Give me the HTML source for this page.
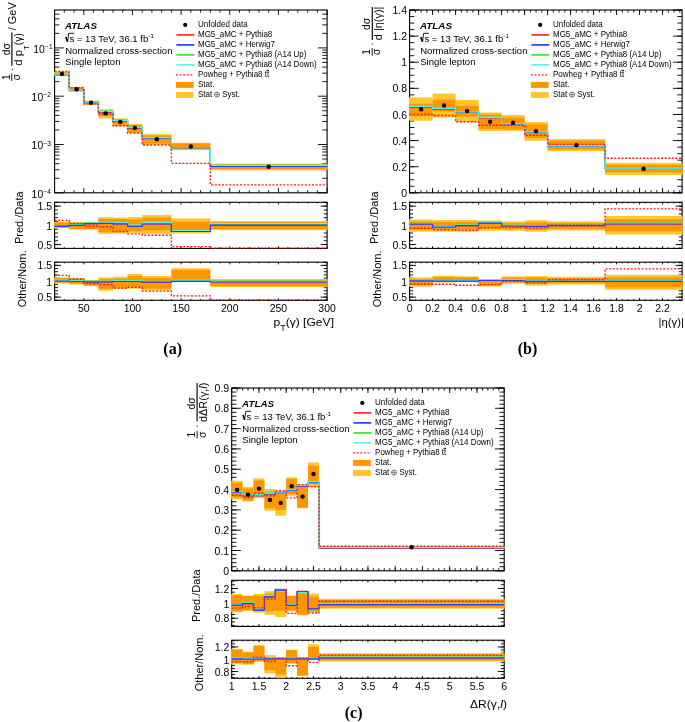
<!DOCTYPE html>
<html><head><meta charset="utf-8"><style>
html,body{margin:0;padding:0;background:#fff;}
body{width:685px;height:722px;overflow:hidden;font-family:"Liberation Sans", sans-serif;}
svg{display:block;}
</style></head><body>
<svg width="685" height="722" viewBox="0 0 685 722" style="will-change:transform">
<rect width="685" height="722" fill="#fff"/>
<clipPath id="c0m"><rect x="54" y="10" width="273.7" height="182.8"/></clipPath>
<clipPath id="c0a"><rect x="54" y="202.3" width="273.7" height="46.1"/></clipPath>
<clipPath id="c0b"><rect x="54" y="262.2" width="273.7" height="38.1"/></clipPath>
<line x1="54.6" y1="192.8" x2="63.8" y2="192.8" stroke="#000" stroke-width="0.9" />
<line x1="327.1" y1="192.8" x2="317.9" y2="192.8" stroke="#000" stroke-width="0.9" />
<line x1="54.6" y1="144.5" x2="63.8" y2="144.5" stroke="#000" stroke-width="0.9" />
<line x1="327.1" y1="144.5" x2="317.9" y2="144.5" stroke="#000" stroke-width="0.9" />
<line x1="54.6" y1="96.2" x2="63.8" y2="96.2" stroke="#000" stroke-width="0.9" />
<line x1="327.1" y1="96.2" x2="317.9" y2="96.2" stroke="#000" stroke-width="0.9" />
<line x1="54.6" y1="47.9" x2="63.8" y2="47.9" stroke="#000" stroke-width="0.9" />
<line x1="327.1" y1="47.9" x2="317.9" y2="47.9" stroke="#000" stroke-width="0.9" />
<line x1="54.6" y1="178.26" x2="59.4" y2="178.26" stroke="#000" stroke-width="0.9" />
<line x1="327.1" y1="178.26" x2="322.3" y2="178.26" stroke="#000" stroke-width="0.9" />
<line x1="54.6" y1="169.76" x2="59.4" y2="169.76" stroke="#000" stroke-width="0.9" />
<line x1="327.1" y1="169.76" x2="322.3" y2="169.76" stroke="#000" stroke-width="0.9" />
<line x1="54.6" y1="163.72" x2="59.4" y2="163.72" stroke="#000" stroke-width="0.9" />
<line x1="327.1" y1="163.72" x2="322.3" y2="163.72" stroke="#000" stroke-width="0.9" />
<line x1="54.6" y1="159.04" x2="59.4" y2="159.04" stroke="#000" stroke-width="0.9" />
<line x1="327.1" y1="159.04" x2="322.3" y2="159.04" stroke="#000" stroke-width="0.9" />
<line x1="54.6" y1="155.22" x2="59.4" y2="155.22" stroke="#000" stroke-width="0.9" />
<line x1="327.1" y1="155.22" x2="322.3" y2="155.22" stroke="#000" stroke-width="0.9" />
<line x1="54.6" y1="151.98" x2="59.4" y2="151.98" stroke="#000" stroke-width="0.9" />
<line x1="327.1" y1="151.98" x2="322.3" y2="151.98" stroke="#000" stroke-width="0.9" />
<line x1="54.6" y1="149.18" x2="59.4" y2="149.18" stroke="#000" stroke-width="0.9" />
<line x1="327.1" y1="149.18" x2="322.3" y2="149.18" stroke="#000" stroke-width="0.9" />
<line x1="54.6" y1="146.71" x2="59.4" y2="146.71" stroke="#000" stroke-width="0.9" />
<line x1="327.1" y1="146.71" x2="322.3" y2="146.71" stroke="#000" stroke-width="0.9" />
<line x1="54.6" y1="129.96" x2="59.4" y2="129.96" stroke="#000" stroke-width="0.9" />
<line x1="327.1" y1="129.96" x2="322.3" y2="129.96" stroke="#000" stroke-width="0.9" />
<line x1="54.6" y1="121.46" x2="59.4" y2="121.46" stroke="#000" stroke-width="0.9" />
<line x1="327.1" y1="121.46" x2="322.3" y2="121.46" stroke="#000" stroke-width="0.9" />
<line x1="54.6" y1="115.42" x2="59.4" y2="115.42" stroke="#000" stroke-width="0.9" />
<line x1="327.1" y1="115.42" x2="322.3" y2="115.42" stroke="#000" stroke-width="0.9" />
<line x1="54.6" y1="110.74" x2="59.4" y2="110.74" stroke="#000" stroke-width="0.9" />
<line x1="327.1" y1="110.74" x2="322.3" y2="110.74" stroke="#000" stroke-width="0.9" />
<line x1="54.6" y1="106.92" x2="59.4" y2="106.92" stroke="#000" stroke-width="0.9" />
<line x1="327.1" y1="106.92" x2="322.3" y2="106.92" stroke="#000" stroke-width="0.9" />
<line x1="54.6" y1="103.68" x2="59.4" y2="103.68" stroke="#000" stroke-width="0.9" />
<line x1="327.1" y1="103.68" x2="322.3" y2="103.68" stroke="#000" stroke-width="0.9" />
<line x1="54.6" y1="100.88" x2="59.4" y2="100.88" stroke="#000" stroke-width="0.9" />
<line x1="327.1" y1="100.88" x2="322.3" y2="100.88" stroke="#000" stroke-width="0.9" />
<line x1="54.6" y1="98.41" x2="59.4" y2="98.41" stroke="#000" stroke-width="0.9" />
<line x1="327.1" y1="98.41" x2="322.3" y2="98.41" stroke="#000" stroke-width="0.9" />
<line x1="54.6" y1="81.66" x2="59.4" y2="81.66" stroke="#000" stroke-width="0.9" />
<line x1="327.1" y1="81.66" x2="322.3" y2="81.66" stroke="#000" stroke-width="0.9" />
<line x1="54.6" y1="73.16" x2="59.4" y2="73.16" stroke="#000" stroke-width="0.9" />
<line x1="327.1" y1="73.16" x2="322.3" y2="73.16" stroke="#000" stroke-width="0.9" />
<line x1="54.6" y1="67.12" x2="59.4" y2="67.12" stroke="#000" stroke-width="0.9" />
<line x1="327.1" y1="67.12" x2="322.3" y2="67.12" stroke="#000" stroke-width="0.9" />
<line x1="54.6" y1="62.44" x2="59.4" y2="62.44" stroke="#000" stroke-width="0.9" />
<line x1="327.1" y1="62.44" x2="322.3" y2="62.44" stroke="#000" stroke-width="0.9" />
<line x1="54.6" y1="58.62" x2="59.4" y2="58.62" stroke="#000" stroke-width="0.9" />
<line x1="327.1" y1="58.62" x2="322.3" y2="58.62" stroke="#000" stroke-width="0.9" />
<line x1="54.6" y1="55.38" x2="59.4" y2="55.38" stroke="#000" stroke-width="0.9" />
<line x1="327.1" y1="55.38" x2="322.3" y2="55.38" stroke="#000" stroke-width="0.9" />
<line x1="54.6" y1="52.58" x2="59.4" y2="52.58" stroke="#000" stroke-width="0.9" />
<line x1="327.1" y1="52.58" x2="322.3" y2="52.58" stroke="#000" stroke-width="0.9" />
<line x1="54.6" y1="50.11" x2="59.4" y2="50.11" stroke="#000" stroke-width="0.9" />
<line x1="327.1" y1="50.11" x2="322.3" y2="50.11" stroke="#000" stroke-width="0.9" />
<line x1="54.6" y1="33.36" x2="59.4" y2="33.36" stroke="#000" stroke-width="0.9" />
<line x1="327.1" y1="33.36" x2="322.3" y2="33.36" stroke="#000" stroke-width="0.9" />
<line x1="54.6" y1="24.86" x2="59.4" y2="24.86" stroke="#000" stroke-width="0.9" />
<line x1="327.1" y1="24.86" x2="322.3" y2="24.86" stroke="#000" stroke-width="0.9" />
<line x1="54.6" y1="18.82" x2="59.4" y2="18.82" stroke="#000" stroke-width="0.9" />
<line x1="327.1" y1="18.82" x2="322.3" y2="18.82" stroke="#000" stroke-width="0.9" />
<line x1="54.6" y1="14.14" x2="59.4" y2="14.14" stroke="#000" stroke-width="0.9" />
<line x1="327.1" y1="14.14" x2="322.3" y2="14.14" stroke="#000" stroke-width="0.9" />
<line x1="83.8" y1="192.8" x2="83.8" y2="187.8" stroke="#000" stroke-width="0.9" />
<line x1="83.8" y1="10" x2="83.8" y2="15" stroke="#000" stroke-width="0.9" />
<line x1="132.46" y1="192.8" x2="132.46" y2="187.8" stroke="#000" stroke-width="0.9" />
<line x1="132.46" y1="10" x2="132.46" y2="15" stroke="#000" stroke-width="0.9" />
<line x1="181.12" y1="192.8" x2="181.12" y2="187.8" stroke="#000" stroke-width="0.9" />
<line x1="181.12" y1="10" x2="181.12" y2="15" stroke="#000" stroke-width="0.9" />
<line x1="229.78" y1="192.8" x2="229.78" y2="187.8" stroke="#000" stroke-width="0.9" />
<line x1="229.78" y1="10" x2="229.78" y2="15" stroke="#000" stroke-width="0.9" />
<line x1="278.44" y1="192.8" x2="278.44" y2="187.8" stroke="#000" stroke-width="0.9" />
<line x1="278.44" y1="10" x2="278.44" y2="15" stroke="#000" stroke-width="0.9" />
<line x1="327.1" y1="192.8" x2="327.1" y2="187.8" stroke="#000" stroke-width="0.9" />
<line x1="327.1" y1="10" x2="327.1" y2="15" stroke="#000" stroke-width="0.9" />
<line x1="64.33" y1="192.8" x2="64.33" y2="190.2" stroke="#000" stroke-width="0.9" />
<line x1="64.33" y1="10" x2="64.33" y2="12.6" stroke="#000" stroke-width="0.9" />
<line x1="74.06" y1="192.8" x2="74.06" y2="190.2" stroke="#000" stroke-width="0.9" />
<line x1="74.06" y1="10" x2="74.06" y2="12.6" stroke="#000" stroke-width="0.9" />
<line x1="93.53" y1="192.8" x2="93.53" y2="190.2" stroke="#000" stroke-width="0.9" />
<line x1="93.53" y1="10" x2="93.53" y2="12.6" stroke="#000" stroke-width="0.9" />
<line x1="103.26" y1="192.8" x2="103.26" y2="190.2" stroke="#000" stroke-width="0.9" />
<line x1="103.26" y1="10" x2="103.26" y2="12.6" stroke="#000" stroke-width="0.9" />
<line x1="112.99" y1="192.8" x2="112.99" y2="190.2" stroke="#000" stroke-width="0.9" />
<line x1="112.99" y1="10" x2="112.99" y2="12.6" stroke="#000" stroke-width="0.9" />
<line x1="122.72" y1="192.8" x2="122.72" y2="190.2" stroke="#000" stroke-width="0.9" />
<line x1="122.72" y1="10" x2="122.72" y2="12.6" stroke="#000" stroke-width="0.9" />
<line x1="142.19" y1="192.8" x2="142.19" y2="190.2" stroke="#000" stroke-width="0.9" />
<line x1="142.19" y1="10" x2="142.19" y2="12.6" stroke="#000" stroke-width="0.9" />
<line x1="151.92" y1="192.8" x2="151.92" y2="190.2" stroke="#000" stroke-width="0.9" />
<line x1="151.92" y1="10" x2="151.92" y2="12.6" stroke="#000" stroke-width="0.9" />
<line x1="161.65" y1="192.8" x2="161.65" y2="190.2" stroke="#000" stroke-width="0.9" />
<line x1="161.65" y1="10" x2="161.65" y2="12.6" stroke="#000" stroke-width="0.9" />
<line x1="171.39" y1="192.8" x2="171.39" y2="190.2" stroke="#000" stroke-width="0.9" />
<line x1="171.39" y1="10" x2="171.39" y2="12.6" stroke="#000" stroke-width="0.9" />
<line x1="190.85" y1="192.8" x2="190.85" y2="190.2" stroke="#000" stroke-width="0.9" />
<line x1="190.85" y1="10" x2="190.85" y2="12.6" stroke="#000" stroke-width="0.9" />
<line x1="200.58" y1="192.8" x2="200.58" y2="190.2" stroke="#000" stroke-width="0.9" />
<line x1="200.58" y1="10" x2="200.58" y2="12.6" stroke="#000" stroke-width="0.9" />
<line x1="210.31" y1="192.8" x2="210.31" y2="190.2" stroke="#000" stroke-width="0.9" />
<line x1="210.31" y1="10" x2="210.31" y2="12.6" stroke="#000" stroke-width="0.9" />
<line x1="220.05" y1="192.8" x2="220.05" y2="190.2" stroke="#000" stroke-width="0.9" />
<line x1="220.05" y1="10" x2="220.05" y2="12.6" stroke="#000" stroke-width="0.9" />
<line x1="239.51" y1="192.8" x2="239.51" y2="190.2" stroke="#000" stroke-width="0.9" />
<line x1="239.51" y1="10" x2="239.51" y2="12.6" stroke="#000" stroke-width="0.9" />
<line x1="249.24" y1="192.8" x2="249.24" y2="190.2" stroke="#000" stroke-width="0.9" />
<line x1="249.24" y1="10" x2="249.24" y2="12.6" stroke="#000" stroke-width="0.9" />
<line x1="258.98" y1="192.8" x2="258.98" y2="190.2" stroke="#000" stroke-width="0.9" />
<line x1="258.98" y1="10" x2="258.98" y2="12.6" stroke="#000" stroke-width="0.9" />
<line x1="268.71" y1="192.8" x2="268.71" y2="190.2" stroke="#000" stroke-width="0.9" />
<line x1="268.71" y1="10" x2="268.71" y2="12.6" stroke="#000" stroke-width="0.9" />
<line x1="288.17" y1="192.8" x2="288.17" y2="190.2" stroke="#000" stroke-width="0.9" />
<line x1="288.17" y1="10" x2="288.17" y2="12.6" stroke="#000" stroke-width="0.9" />
<line x1="297.9" y1="192.8" x2="297.9" y2="190.2" stroke="#000" stroke-width="0.9" />
<line x1="297.9" y1="10" x2="297.9" y2="12.6" stroke="#000" stroke-width="0.9" />
<line x1="307.64" y1="192.8" x2="307.64" y2="190.2" stroke="#000" stroke-width="0.9" />
<line x1="307.64" y1="10" x2="307.64" y2="12.6" stroke="#000" stroke-width="0.9" />
<line x1="317.37" y1="192.8" x2="317.37" y2="190.2" stroke="#000" stroke-width="0.9" />
<line x1="317.37" y1="10" x2="317.37" y2="12.6" stroke="#000" stroke-width="0.9" />
<rect x="54.6" y="10" width="272.5" height="182.8" fill="none" stroke="#000" stroke-width="1.1"/>
<text transform="translate(51,197.5)" font-size="10.4" text-anchor="end" font-family='"Liberation Sans", sans-serif'>10<tspan dx="0.3" dy="-3.5" font-size="6.6">&#8722;4</tspan></text>
<text transform="translate(51,149.2)" font-size="10.4" text-anchor="end" font-family='"Liberation Sans", sans-serif'>10<tspan dx="0.3" dy="-3.5" font-size="6.6">&#8722;3</tspan></text>
<text transform="translate(51,100.9)" font-size="10.4" text-anchor="end" font-family='"Liberation Sans", sans-serif'>10<tspan dx="0.3" dy="-3.5" font-size="6.6">&#8722;2</tspan></text>
<text transform="translate(52.6,52.6)" font-size="10.4" text-anchor="end" font-family='"Liberation Sans", sans-serif'>10<tspan dx="0.3" dy="-3.5" font-size="6.6">&#8722;1</tspan></text>
<g clip-path="url(#c0m)">
<rect x="54" y="71.7" width="15.2" height="4.1" fill="#fec62e"/>
<rect x="54" y="72.3" width="15.2" height="2.9" fill="#fe9600"/>
<rect x="69.2" y="87" width="14.6" height="4.8" fill="#fec62e"/>
<rect x="69.2" y="87.5" width="14.6" height="3.7" fill="#fe9600"/>
<rect x="83.8" y="100.6" width="14.6" height="4.4" fill="#fec62e"/>
<rect x="83.8" y="101.2" width="14.6" height="3.2" fill="#fe9600"/>
<rect x="98.39" y="109.2" width="14.6" height="9.2" fill="#fec62e"/>
<rect x="98.39" y="111.8" width="14.6" height="4.4" fill="#fe9600"/>
<rect x="112.99" y="118.4" width="14.6" height="8" fill="#fec62e"/>
<rect x="112.99" y="119.5" width="14.6" height="5.5" fill="#fe9600"/>
<rect x="127.59" y="124" width="14.6" height="9" fill="#fec62e"/>
<rect x="127.59" y="125" width="14.6" height="7" fill="#fe9600"/>
<rect x="142.19" y="134.1" width="29.2" height="10.9" fill="#fec62e"/>
<rect x="142.19" y="135.5" width="29.2" height="8.1" fill="#fe9600"/>
<rect x="171.39" y="142.8" width="38.93" height="6.8" fill="#fec62e"/>
<rect x="171.39" y="143.3" width="38.93" height="5.8" fill="#fe9600"/>
<rect x="210.31" y="163.65" width="117.39" height="6.55" fill="#fec62e"/>
<rect x="210.31" y="164.9" width="117.39" height="4.3" fill="#fe9600"/>
<path d="M54.6 74.6H69.2V89.9H83.8V102.2H98.39V111.8H112.99V120.8H127.59V127.8H142.19V138.2H171.39V149.4H210.31V166.4H327.1" fill="none" stroke="#ff2a2a" stroke-width="1.2"/>
<path d="M54.6 74.6H69.2V89.9H83.8V102.2H98.39V111.8H112.99V120.8H127.59V127.8H142.19V138.2H171.39V149.4H210.31V166.4H327.1" fill="none" stroke="#2a3cff" stroke-width="1.2"/>
<path d="M54.6 73.9H69.2V89.6H83.8V101.7H98.39V111.1H112.99V120H127.59V127.1H142.19V137.3H171.39V149.4H210.31V165.2H327.1" fill="none" stroke="#3ee23e" stroke-width="1.2"/>
<path d="M54.6 74.2H69.2V89.9H83.8V102H98.39V111.4H112.99V120.3H127.59V127.4H142.19V137.6H171.39V149.7H210.31V165.5H327.1" fill="none" stroke="#5ff2f2" stroke-width="1.2"/>
<path d="M54.6 71.4H69.2V87.7H83.8V103.8H98.39V114H112.99V125.7H127.59V133H142.19V145H171.39V163.3H210.31V184.8H327.1" fill="none" stroke="#ff1a1a" stroke-width="1.35" stroke-dasharray="2,1.6"/>
<circle cx="61.9" cy="73.9" r="2.2" fill="#000"/>
<circle cx="76.5" cy="89.2" r="2.2" fill="#000"/>
<circle cx="91.1" cy="102.8" r="2.2" fill="#000"/>
<circle cx="105.69" cy="113.4" r="2.2" fill="#000"/>
<circle cx="120.29" cy="121.9" r="2.2" fill="#000"/>
<circle cx="134.89" cy="127.9" r="2.2" fill="#000"/>
<circle cx="156.79" cy="139.2" r="2.2" fill="#000"/>
<circle cx="190.85" cy="146.5" r="2.2" fill="#000"/>
<circle cx="268.71" cy="166.7" r="2.2" fill="#000"/>
</g>
<line x1="54.6" y1="244.56" x2="61.1" y2="244.56" stroke="#000" stroke-width="0.9" />
<line x1="327.1" y1="244.56" x2="320.6" y2="244.56" stroke="#000" stroke-width="0.9" />
<line x1="54.6" y1="225.35" x2="61.1" y2="225.35" stroke="#000" stroke-width="0.9" />
<line x1="327.1" y1="225.35" x2="320.6" y2="225.35" stroke="#000" stroke-width="0.9" />
<line x1="54.6" y1="206.14" x2="61.1" y2="206.14" stroke="#000" stroke-width="0.9" />
<line x1="327.1" y1="206.14" x2="320.6" y2="206.14" stroke="#000" stroke-width="0.9" />
<line x1="54.6" y1="248.4" x2="58" y2="248.4" stroke="#000" stroke-width="0.9" />
<line x1="327.1" y1="248.4" x2="323.7" y2="248.4" stroke="#000" stroke-width="0.9" />
<line x1="54.6" y1="244.56" x2="58" y2="244.56" stroke="#000" stroke-width="0.9" />
<line x1="327.1" y1="244.56" x2="323.7" y2="244.56" stroke="#000" stroke-width="0.9" />
<line x1="54.6" y1="240.72" x2="58" y2="240.72" stroke="#000" stroke-width="0.9" />
<line x1="327.1" y1="240.72" x2="323.7" y2="240.72" stroke="#000" stroke-width="0.9" />
<line x1="54.6" y1="236.88" x2="58" y2="236.88" stroke="#000" stroke-width="0.9" />
<line x1="327.1" y1="236.88" x2="323.7" y2="236.88" stroke="#000" stroke-width="0.9" />
<line x1="54.6" y1="233.03" x2="58" y2="233.03" stroke="#000" stroke-width="0.9" />
<line x1="327.1" y1="233.03" x2="323.7" y2="233.03" stroke="#000" stroke-width="0.9" />
<line x1="54.6" y1="229.19" x2="58" y2="229.19" stroke="#000" stroke-width="0.9" />
<line x1="327.1" y1="229.19" x2="323.7" y2="229.19" stroke="#000" stroke-width="0.9" />
<line x1="54.6" y1="225.35" x2="58" y2="225.35" stroke="#000" stroke-width="0.9" />
<line x1="327.1" y1="225.35" x2="323.7" y2="225.35" stroke="#000" stroke-width="0.9" />
<line x1="54.6" y1="221.51" x2="58" y2="221.51" stroke="#000" stroke-width="0.9" />
<line x1="327.1" y1="221.51" x2="323.7" y2="221.51" stroke="#000" stroke-width="0.9" />
<line x1="54.6" y1="217.67" x2="58" y2="217.67" stroke="#000" stroke-width="0.9" />
<line x1="327.1" y1="217.67" x2="323.7" y2="217.67" stroke="#000" stroke-width="0.9" />
<line x1="54.6" y1="213.83" x2="58" y2="213.83" stroke="#000" stroke-width="0.9" />
<line x1="327.1" y1="213.83" x2="323.7" y2="213.83" stroke="#000" stroke-width="0.9" />
<line x1="54.6" y1="209.98" x2="58" y2="209.98" stroke="#000" stroke-width="0.9" />
<line x1="327.1" y1="209.98" x2="323.7" y2="209.98" stroke="#000" stroke-width="0.9" />
<line x1="54.6" y1="206.14" x2="58" y2="206.14" stroke="#000" stroke-width="0.9" />
<line x1="327.1" y1="206.14" x2="323.7" y2="206.14" stroke="#000" stroke-width="0.9" />
<line x1="54.6" y1="202.3" x2="58" y2="202.3" stroke="#000" stroke-width="0.9" />
<line x1="327.1" y1="202.3" x2="323.7" y2="202.3" stroke="#000" stroke-width="0.9" />
<line x1="83.8" y1="248.4" x2="83.8" y2="246.2" stroke="#000" stroke-width="0.9" />
<line x1="83.8" y1="202.3" x2="83.8" y2="204.5" stroke="#000" stroke-width="0.9" />
<line x1="132.46" y1="248.4" x2="132.46" y2="246.2" stroke="#000" stroke-width="0.9" />
<line x1="132.46" y1="202.3" x2="132.46" y2="204.5" stroke="#000" stroke-width="0.9" />
<line x1="181.12" y1="248.4" x2="181.12" y2="246.2" stroke="#000" stroke-width="0.9" />
<line x1="181.12" y1="202.3" x2="181.12" y2="204.5" stroke="#000" stroke-width="0.9" />
<line x1="229.78" y1="248.4" x2="229.78" y2="246.2" stroke="#000" stroke-width="0.9" />
<line x1="229.78" y1="202.3" x2="229.78" y2="204.5" stroke="#000" stroke-width="0.9" />
<line x1="278.44" y1="248.4" x2="278.44" y2="246.2" stroke="#000" stroke-width="0.9" />
<line x1="278.44" y1="202.3" x2="278.44" y2="204.5" stroke="#000" stroke-width="0.9" />
<line x1="327.1" y1="248.4" x2="327.1" y2="246.2" stroke="#000" stroke-width="0.9" />
<line x1="327.1" y1="202.3" x2="327.1" y2="204.5" stroke="#000" stroke-width="0.9" />
<line x1="64.33" y1="248.4" x2="64.33" y2="247.2" stroke="#000" stroke-width="0.9" />
<line x1="64.33" y1="202.3" x2="64.33" y2="203.5" stroke="#000" stroke-width="0.9" />
<line x1="74.06" y1="248.4" x2="74.06" y2="247.2" stroke="#000" stroke-width="0.9" />
<line x1="74.06" y1="202.3" x2="74.06" y2="203.5" stroke="#000" stroke-width="0.9" />
<line x1="93.53" y1="248.4" x2="93.53" y2="247.2" stroke="#000" stroke-width="0.9" />
<line x1="93.53" y1="202.3" x2="93.53" y2="203.5" stroke="#000" stroke-width="0.9" />
<line x1="103.26" y1="248.4" x2="103.26" y2="247.2" stroke="#000" stroke-width="0.9" />
<line x1="103.26" y1="202.3" x2="103.26" y2="203.5" stroke="#000" stroke-width="0.9" />
<line x1="112.99" y1="248.4" x2="112.99" y2="247.2" stroke="#000" stroke-width="0.9" />
<line x1="112.99" y1="202.3" x2="112.99" y2="203.5" stroke="#000" stroke-width="0.9" />
<line x1="122.72" y1="248.4" x2="122.72" y2="247.2" stroke="#000" stroke-width="0.9" />
<line x1="122.72" y1="202.3" x2="122.72" y2="203.5" stroke="#000" stroke-width="0.9" />
<line x1="142.19" y1="248.4" x2="142.19" y2="247.2" stroke="#000" stroke-width="0.9" />
<line x1="142.19" y1="202.3" x2="142.19" y2="203.5" stroke="#000" stroke-width="0.9" />
<line x1="151.92" y1="248.4" x2="151.92" y2="247.2" stroke="#000" stroke-width="0.9" />
<line x1="151.92" y1="202.3" x2="151.92" y2="203.5" stroke="#000" stroke-width="0.9" />
<line x1="161.65" y1="248.4" x2="161.65" y2="247.2" stroke="#000" stroke-width="0.9" />
<line x1="161.65" y1="202.3" x2="161.65" y2="203.5" stroke="#000" stroke-width="0.9" />
<line x1="171.39" y1="248.4" x2="171.39" y2="247.2" stroke="#000" stroke-width="0.9" />
<line x1="171.39" y1="202.3" x2="171.39" y2="203.5" stroke="#000" stroke-width="0.9" />
<line x1="190.85" y1="248.4" x2="190.85" y2="247.2" stroke="#000" stroke-width="0.9" />
<line x1="190.85" y1="202.3" x2="190.85" y2="203.5" stroke="#000" stroke-width="0.9" />
<line x1="200.58" y1="248.4" x2="200.58" y2="247.2" stroke="#000" stroke-width="0.9" />
<line x1="200.58" y1="202.3" x2="200.58" y2="203.5" stroke="#000" stroke-width="0.9" />
<line x1="210.31" y1="248.4" x2="210.31" y2="247.2" stroke="#000" stroke-width="0.9" />
<line x1="210.31" y1="202.3" x2="210.31" y2="203.5" stroke="#000" stroke-width="0.9" />
<line x1="220.05" y1="248.4" x2="220.05" y2="247.2" stroke="#000" stroke-width="0.9" />
<line x1="220.05" y1="202.3" x2="220.05" y2="203.5" stroke="#000" stroke-width="0.9" />
<line x1="239.51" y1="248.4" x2="239.51" y2="247.2" stroke="#000" stroke-width="0.9" />
<line x1="239.51" y1="202.3" x2="239.51" y2="203.5" stroke="#000" stroke-width="0.9" />
<line x1="249.24" y1="248.4" x2="249.24" y2="247.2" stroke="#000" stroke-width="0.9" />
<line x1="249.24" y1="202.3" x2="249.24" y2="203.5" stroke="#000" stroke-width="0.9" />
<line x1="258.98" y1="248.4" x2="258.98" y2="247.2" stroke="#000" stroke-width="0.9" />
<line x1="258.98" y1="202.3" x2="258.98" y2="203.5" stroke="#000" stroke-width="0.9" />
<line x1="268.71" y1="248.4" x2="268.71" y2="247.2" stroke="#000" stroke-width="0.9" />
<line x1="268.71" y1="202.3" x2="268.71" y2="203.5" stroke="#000" stroke-width="0.9" />
<line x1="288.17" y1="248.4" x2="288.17" y2="247.2" stroke="#000" stroke-width="0.9" />
<line x1="288.17" y1="202.3" x2="288.17" y2="203.5" stroke="#000" stroke-width="0.9" />
<line x1="297.9" y1="248.4" x2="297.9" y2="247.2" stroke="#000" stroke-width="0.9" />
<line x1="297.9" y1="202.3" x2="297.9" y2="203.5" stroke="#000" stroke-width="0.9" />
<line x1="307.64" y1="248.4" x2="307.64" y2="247.2" stroke="#000" stroke-width="0.9" />
<line x1="307.64" y1="202.3" x2="307.64" y2="203.5" stroke="#000" stroke-width="0.9" />
<line x1="317.37" y1="248.4" x2="317.37" y2="247.2" stroke="#000" stroke-width="0.9" />
<line x1="317.37" y1="202.3" x2="317.37" y2="203.5" stroke="#000" stroke-width="0.9" />
<rect x="54.6" y="202.3" width="272.5" height="46.1" fill="none" stroke="#000" stroke-width="1.1"/>
<text transform="translate(52.2,210.24)" font-size="10.5" text-anchor="end" font-weight="normal" font-style="normal" font-family='"Liberation Sans", sans-serif' fill="#000">1.5</text>
<text transform="translate(52.2,230.35)" font-size="10.5" text-anchor="end" font-weight="normal" font-style="normal" font-family='"Liberation Sans", sans-serif' fill="#000">1</text>
<text transform="translate(52.2,248.66)" font-size="10.5" text-anchor="end" font-weight="normal" font-style="normal" font-family='"Liberation Sans", sans-serif' fill="#000">0.5</text>
<g clip-path="url(#c0a)">
<rect x="54" y="221.7" width="15.2" height="6.6" fill="#fec62e"/>
<rect x="54" y="222.6" width="15.2" height="5.2" fill="#fe9600"/>
<rect x="69.2" y="222.1" width="14.6" height="7.5" fill="#fec62e"/>
<rect x="69.2" y="223" width="14.6" height="6" fill="#fe9600"/>
<rect x="83.8" y="222.1" width="14.6" height="7.5" fill="#fec62e"/>
<rect x="83.8" y="223" width="14.6" height="6" fill="#fe9600"/>
<rect x="98.39" y="217.1" width="14.6" height="16.8" fill="#fec62e"/>
<rect x="98.39" y="219" width="14.6" height="13.2" fill="#fe9600"/>
<rect x="112.99" y="217.7" width="14.6" height="15.8" fill="#fec62e"/>
<rect x="112.99" y="219" width="14.6" height="13.2" fill="#fe9600"/>
<rect x="127.59" y="217" width="14.6" height="15.9" fill="#fec62e"/>
<rect x="127.59" y="219.5" width="14.6" height="11.7" fill="#fe9600"/>
<rect x="142.19" y="215.1" width="29.2" height="18.8" fill="#fec62e"/>
<rect x="142.19" y="217.7" width="29.2" height="12.8" fill="#fe9600"/>
<rect x="171.39" y="218.4" width="38.93" height="15.1" fill="#fec62e"/>
<rect x="171.39" y="221.7" width="38.93" height="9.3" fill="#fe9600"/>
<rect x="210.31" y="221" width="117.39" height="9.2" fill="#fec62e"/>
<rect x="210.31" y="222.3" width="117.39" height="6.7" fill="#fe9600"/>
<path d="M54.6 226.3H69.2V225.4H83.8V223.7H98.39V223.4H112.99V223.9H127.59V226.3H142.19V224H171.39V231.5H210.31V225.2H327.1" fill="none" stroke="#ff2a2a" stroke-width="1.2"/>
<path d="M54.6 225.5H69.2V224.6H83.8V222.9H98.39V222.6H112.99V223.1H127.59V225.5H142.19V223.2H171.39V230.7H210.31V224.4H327.1" fill="none" stroke="#3ee23e" stroke-width="1.2"/>
<path d="M54.6 227.2H69.2V225H83.8V223H98.39V222.3H112.99V222.6H127.59V225H142.19V222.3H171.39V230.5H210.31V223.7H327.1" fill="none" stroke="#5ff2f2" stroke-width="1.2"/>
<path d="M54.6 226.3H69.2V225.4H83.8V223.7H98.39V223.4H112.99V223.9H127.59V226.3H142.19V224H171.39V231.5H210.31V225.2H327.1" fill="none" stroke="#2a3cff" stroke-width="1.2"/>
<path d="M54.6 220.4H69.2V223.4H83.8V226H98.39V226.7H112.99V231.5H127.59V233.9H142.19V235.2H171.39V246.6H210.31V248.2H327.1" fill="none" stroke="#ff1a1a" stroke-width="1.35" stroke-dasharray="2,1.6"/>
</g>
<line x1="54.6" y1="297.12" x2="61.1" y2="297.12" stroke="#000" stroke-width="0.9" />
<line x1="327.1" y1="297.12" x2="320.6" y2="297.12" stroke="#000" stroke-width="0.9" />
<line x1="54.6" y1="281.25" x2="61.1" y2="281.25" stroke="#000" stroke-width="0.9" />
<line x1="327.1" y1="281.25" x2="320.6" y2="281.25" stroke="#000" stroke-width="0.9" />
<line x1="54.6" y1="265.38" x2="61.1" y2="265.38" stroke="#000" stroke-width="0.9" />
<line x1="327.1" y1="265.38" x2="320.6" y2="265.38" stroke="#000" stroke-width="0.9" />
<line x1="54.6" y1="300.3" x2="58" y2="300.3" stroke="#000" stroke-width="0.9" />
<line x1="327.1" y1="300.3" x2="323.7" y2="300.3" stroke="#000" stroke-width="0.9" />
<line x1="54.6" y1="297.12" x2="58" y2="297.12" stroke="#000" stroke-width="0.9" />
<line x1="327.1" y1="297.12" x2="323.7" y2="297.12" stroke="#000" stroke-width="0.9" />
<line x1="54.6" y1="293.95" x2="58" y2="293.95" stroke="#000" stroke-width="0.9" />
<line x1="327.1" y1="293.95" x2="323.7" y2="293.95" stroke="#000" stroke-width="0.9" />
<line x1="54.6" y1="290.77" x2="58" y2="290.77" stroke="#000" stroke-width="0.9" />
<line x1="327.1" y1="290.77" x2="323.7" y2="290.77" stroke="#000" stroke-width="0.9" />
<line x1="54.6" y1="287.6" x2="58" y2="287.6" stroke="#000" stroke-width="0.9" />
<line x1="327.1" y1="287.6" x2="323.7" y2="287.6" stroke="#000" stroke-width="0.9" />
<line x1="54.6" y1="284.43" x2="58" y2="284.43" stroke="#000" stroke-width="0.9" />
<line x1="327.1" y1="284.43" x2="323.7" y2="284.43" stroke="#000" stroke-width="0.9" />
<line x1="54.6" y1="281.25" x2="58" y2="281.25" stroke="#000" stroke-width="0.9" />
<line x1="327.1" y1="281.25" x2="323.7" y2="281.25" stroke="#000" stroke-width="0.9" />
<line x1="54.6" y1="278.07" x2="58" y2="278.07" stroke="#000" stroke-width="0.9" />
<line x1="327.1" y1="278.07" x2="323.7" y2="278.07" stroke="#000" stroke-width="0.9" />
<line x1="54.6" y1="274.9" x2="58" y2="274.9" stroke="#000" stroke-width="0.9" />
<line x1="327.1" y1="274.9" x2="323.7" y2="274.9" stroke="#000" stroke-width="0.9" />
<line x1="54.6" y1="271.73" x2="58" y2="271.73" stroke="#000" stroke-width="0.9" />
<line x1="327.1" y1="271.73" x2="323.7" y2="271.73" stroke="#000" stroke-width="0.9" />
<line x1="54.6" y1="268.55" x2="58" y2="268.55" stroke="#000" stroke-width="0.9" />
<line x1="327.1" y1="268.55" x2="323.7" y2="268.55" stroke="#000" stroke-width="0.9" />
<line x1="54.6" y1="265.38" x2="58" y2="265.38" stroke="#000" stroke-width="0.9" />
<line x1="327.1" y1="265.38" x2="323.7" y2="265.38" stroke="#000" stroke-width="0.9" />
<line x1="54.6" y1="262.2" x2="58" y2="262.2" stroke="#000" stroke-width="0.9" />
<line x1="327.1" y1="262.2" x2="323.7" y2="262.2" stroke="#000" stroke-width="0.9" />
<line x1="83.8" y1="300.3" x2="83.8" y2="298.1" stroke="#000" stroke-width="0.9" />
<line x1="83.8" y1="262.2" x2="83.8" y2="264.4" stroke="#000" stroke-width="0.9" />
<line x1="132.46" y1="300.3" x2="132.46" y2="298.1" stroke="#000" stroke-width="0.9" />
<line x1="132.46" y1="262.2" x2="132.46" y2="264.4" stroke="#000" stroke-width="0.9" />
<line x1="181.12" y1="300.3" x2="181.12" y2="298.1" stroke="#000" stroke-width="0.9" />
<line x1="181.12" y1="262.2" x2="181.12" y2="264.4" stroke="#000" stroke-width="0.9" />
<line x1="229.78" y1="300.3" x2="229.78" y2="298.1" stroke="#000" stroke-width="0.9" />
<line x1="229.78" y1="262.2" x2="229.78" y2="264.4" stroke="#000" stroke-width="0.9" />
<line x1="278.44" y1="300.3" x2="278.44" y2="298.1" stroke="#000" stroke-width="0.9" />
<line x1="278.44" y1="262.2" x2="278.44" y2="264.4" stroke="#000" stroke-width="0.9" />
<line x1="327.1" y1="300.3" x2="327.1" y2="298.1" stroke="#000" stroke-width="0.9" />
<line x1="327.1" y1="262.2" x2="327.1" y2="264.4" stroke="#000" stroke-width="0.9" />
<line x1="64.33" y1="300.3" x2="64.33" y2="299.1" stroke="#000" stroke-width="0.9" />
<line x1="64.33" y1="262.2" x2="64.33" y2="263.4" stroke="#000" stroke-width="0.9" />
<line x1="74.06" y1="300.3" x2="74.06" y2="299.1" stroke="#000" stroke-width="0.9" />
<line x1="74.06" y1="262.2" x2="74.06" y2="263.4" stroke="#000" stroke-width="0.9" />
<line x1="93.53" y1="300.3" x2="93.53" y2="299.1" stroke="#000" stroke-width="0.9" />
<line x1="93.53" y1="262.2" x2="93.53" y2="263.4" stroke="#000" stroke-width="0.9" />
<line x1="103.26" y1="300.3" x2="103.26" y2="299.1" stroke="#000" stroke-width="0.9" />
<line x1="103.26" y1="262.2" x2="103.26" y2="263.4" stroke="#000" stroke-width="0.9" />
<line x1="112.99" y1="300.3" x2="112.99" y2="299.1" stroke="#000" stroke-width="0.9" />
<line x1="112.99" y1="262.2" x2="112.99" y2="263.4" stroke="#000" stroke-width="0.9" />
<line x1="122.72" y1="300.3" x2="122.72" y2="299.1" stroke="#000" stroke-width="0.9" />
<line x1="122.72" y1="262.2" x2="122.72" y2="263.4" stroke="#000" stroke-width="0.9" />
<line x1="142.19" y1="300.3" x2="142.19" y2="299.1" stroke="#000" stroke-width="0.9" />
<line x1="142.19" y1="262.2" x2="142.19" y2="263.4" stroke="#000" stroke-width="0.9" />
<line x1="151.92" y1="300.3" x2="151.92" y2="299.1" stroke="#000" stroke-width="0.9" />
<line x1="151.92" y1="262.2" x2="151.92" y2="263.4" stroke="#000" stroke-width="0.9" />
<line x1="161.65" y1="300.3" x2="161.65" y2="299.1" stroke="#000" stroke-width="0.9" />
<line x1="161.65" y1="262.2" x2="161.65" y2="263.4" stroke="#000" stroke-width="0.9" />
<line x1="171.39" y1="300.3" x2="171.39" y2="299.1" stroke="#000" stroke-width="0.9" />
<line x1="171.39" y1="262.2" x2="171.39" y2="263.4" stroke="#000" stroke-width="0.9" />
<line x1="190.85" y1="300.3" x2="190.85" y2="299.1" stroke="#000" stroke-width="0.9" />
<line x1="190.85" y1="262.2" x2="190.85" y2="263.4" stroke="#000" stroke-width="0.9" />
<line x1="200.58" y1="300.3" x2="200.58" y2="299.1" stroke="#000" stroke-width="0.9" />
<line x1="200.58" y1="262.2" x2="200.58" y2="263.4" stroke="#000" stroke-width="0.9" />
<line x1="210.31" y1="300.3" x2="210.31" y2="299.1" stroke="#000" stroke-width="0.9" />
<line x1="210.31" y1="262.2" x2="210.31" y2="263.4" stroke="#000" stroke-width="0.9" />
<line x1="220.05" y1="300.3" x2="220.05" y2="299.1" stroke="#000" stroke-width="0.9" />
<line x1="220.05" y1="262.2" x2="220.05" y2="263.4" stroke="#000" stroke-width="0.9" />
<line x1="239.51" y1="300.3" x2="239.51" y2="299.1" stroke="#000" stroke-width="0.9" />
<line x1="239.51" y1="262.2" x2="239.51" y2="263.4" stroke="#000" stroke-width="0.9" />
<line x1="249.24" y1="300.3" x2="249.24" y2="299.1" stroke="#000" stroke-width="0.9" />
<line x1="249.24" y1="262.2" x2="249.24" y2="263.4" stroke="#000" stroke-width="0.9" />
<line x1="258.98" y1="300.3" x2="258.98" y2="299.1" stroke="#000" stroke-width="0.9" />
<line x1="258.98" y1="262.2" x2="258.98" y2="263.4" stroke="#000" stroke-width="0.9" />
<line x1="268.71" y1="300.3" x2="268.71" y2="299.1" stroke="#000" stroke-width="0.9" />
<line x1="268.71" y1="262.2" x2="268.71" y2="263.4" stroke="#000" stroke-width="0.9" />
<line x1="288.17" y1="300.3" x2="288.17" y2="299.1" stroke="#000" stroke-width="0.9" />
<line x1="288.17" y1="262.2" x2="288.17" y2="263.4" stroke="#000" stroke-width="0.9" />
<line x1="297.9" y1="300.3" x2="297.9" y2="299.1" stroke="#000" stroke-width="0.9" />
<line x1="297.9" y1="262.2" x2="297.9" y2="263.4" stroke="#000" stroke-width="0.9" />
<line x1="307.64" y1="300.3" x2="307.64" y2="299.1" stroke="#000" stroke-width="0.9" />
<line x1="307.64" y1="262.2" x2="307.64" y2="263.4" stroke="#000" stroke-width="0.9" />
<line x1="317.37" y1="300.3" x2="317.37" y2="299.1" stroke="#000" stroke-width="0.9" />
<line x1="317.37" y1="262.2" x2="317.37" y2="263.4" stroke="#000" stroke-width="0.9" />
<rect x="54.6" y="262.2" width="272.5" height="38.1" fill="none" stroke="#000" stroke-width="1.1"/>
<text transform="translate(52.2,269.48)" font-size="10.5" text-anchor="end" font-weight="normal" font-style="normal" font-family='"Liberation Sans", sans-serif' fill="#000">1.5</text>
<text transform="translate(52.2,286.25)" font-size="10.5" text-anchor="end" font-weight="normal" font-style="normal" font-family='"Liberation Sans", sans-serif' fill="#000">1</text>
<text transform="translate(52.2,301.23)" font-size="10.5" text-anchor="end" font-weight="normal" font-style="normal" font-family='"Liberation Sans", sans-serif' fill="#000">0.5</text>
<g clip-path="url(#c0b)">
<rect x="54" y="277.4" width="15.2" height="6.1" fill="#fec62e"/>
<rect x="54" y="278.25" width="15.2" height="4.39" fill="#fe9600"/>
<rect x="69.2" y="278" width="14.6" height="6.6" fill="#fec62e"/>
<rect x="69.2" y="278.92" width="14.6" height="4.75" fill="#fe9600"/>
<rect x="83.8" y="280" width="14.6" height="6.2" fill="#fec62e"/>
<rect x="83.8" y="280.87" width="14.6" height="4.46" fill="#fe9600"/>
<rect x="98.39" y="277.4" width="14.6" height="13.3" fill="#fec62e"/>
<rect x="98.39" y="279.26" width="14.6" height="9.58" fill="#fe9600"/>
<rect x="112.99" y="276.8" width="14.6" height="12.2" fill="#fec62e"/>
<rect x="112.99" y="278.51" width="14.6" height="8.78" fill="#fe9600"/>
<rect x="127.59" y="274" width="14.6" height="14.7" fill="#fec62e"/>
<rect x="127.59" y="276.06" width="14.6" height="10.58" fill="#fe9600"/>
<rect x="142.19" y="276" width="29.2" height="14.7" fill="#fec62e"/>
<rect x="142.19" y="278.06" width="29.2" height="10.58" fill="#fe9600"/>
<rect x="171.39" y="268.2" width="38.93" height="13.2" fill="#fec62e"/>
<rect x="171.39" y="270.05" width="38.93" height="9.5" fill="#fe9600"/>
<rect x="210.31" y="279" width="117.39" height="8.2" fill="#fec62e"/>
<rect x="210.31" y="280.15" width="117.39" height="5.9" fill="#fe9600"/>
<path d="M54.6 281H69.2V281.5H83.8V281.9H98.39V281.9H112.99V281.5H127.59V281.5H142.19V282.1H171.39V281.4H210.31V282H327.1" fill="none" stroke="#ff2a2a" stroke-width="1.2"/>
<path d="M54.6 280.2H69.2V280.7H83.8V281.1H98.39V281.1H112.99V280.7H127.59V280.7H142.19V281.3H171.39V280.6H210.31V281.2H327.1" fill="none" stroke="#3ee23e" stroke-width="1.2"/>
<path d="M54.6 280.4H69.2V280.9H83.8V281.3H98.39V281.3H112.99V280.9H127.59V280.9H142.19V281.5H171.39V280.8H210.31V281.4H327.1" fill="none" stroke="#5ff2f2" stroke-width="1.2"/>
<path d="M54.6 281H69.2V281.5H83.8V281.9H98.39V281.9H112.99V281.5H127.59V281.5H142.19V282.1H171.39V281.4H210.31V282H327.1" fill="none" stroke="#2a3cff" stroke-width="1.2"/>
<path d="M54.6 275.4H69.2V279H83.8V283.5H98.39V284.6H112.99V288H127.59V287.2H142.19V291.1H171.39V295.8H210.31V299.8H327.1" fill="none" stroke="#ff1a1a" stroke-width="1.35" stroke-dasharray="2,1.6"/>
</g>
<text transform="translate(83.8,311.9)" font-size="10.5" text-anchor="middle" font-weight="normal" font-style="normal" font-family='"Liberation Sans", sans-serif' fill="#000">50</text>
<text transform="translate(132.46,311.9)" font-size="10.5" text-anchor="middle" font-weight="normal" font-style="normal" font-family='"Liberation Sans", sans-serif' fill="#000">100</text>
<text transform="translate(181.12,311.9)" font-size="10.5" text-anchor="middle" font-weight="normal" font-style="normal" font-family='"Liberation Sans", sans-serif' fill="#000">150</text>
<text transform="translate(229.78,311.9)" font-size="10.5" text-anchor="middle" font-weight="normal" font-style="normal" font-family='"Liberation Sans", sans-serif' fill="#000">200</text>
<text transform="translate(278.44,311.9)" font-size="10.5" text-anchor="middle" font-weight="normal" font-style="normal" font-family='"Liberation Sans", sans-serif' fill="#000">250</text>
<text transform="translate(327.1,311.9)" font-size="10.5" text-anchor="middle" font-weight="normal" font-style="normal" font-family='"Liberation Sans", sans-serif' fill="#000">300</text>
<text transform="translate(334,325.9) scale(1.1,1)" font-size="11" text-anchor="end" font-family='"Liberation Sans", sans-serif'>p<tspan dy="4.6" font-size="8.2">T</tspan><tspan dy="-4.6">(&#947;) [GeV]</tspan></text>
<text transform="translate(10.1,77.2) rotate(-90)" font-size="10" text-anchor="middle" font-family='"Liberation Sans", sans-serif'>1</text><line x1="11.7" y1="73.4" x2="11.7" y2="81" stroke="#000" stroke-width="0.9"/><text transform="translate(20.1,77.2) rotate(-90)" font-size="10" text-anchor="middle" font-family='"Liberation Sans", sans-serif'>&#963;</text><circle cx="12.4" cy="69.4" r="0.65" fill="#000"/><text transform="translate(10.2,49.2) rotate(-90)" font-size="10.3" text-anchor="middle" font-family='"Liberation Sans", sans-serif'>d&#963;</text><line x1="11.9" y1="32.4" x2="11.9" y2="65.7" stroke="#000" stroke-width="1.15"/><text transform="translate(21.8,65.7) rotate(-90) scale(1.1,1)" font-size="10.3" text-anchor="start" font-family='"Liberation Sans", sans-serif'>d p</text><text transform="translate(28.8,49.8) rotate(-90)" font-size="6.9" text-anchor="start" font-family='"Liberation Sans", sans-serif'>T</text><text transform="translate(21.8,45.2) rotate(-90)" font-size="10.3" text-anchor="start" font-family='"Liberation Sans", sans-serif'>(&#947;)</text><text transform="translate(15.6,30.3) rotate(-90)" font-size="11" text-anchor="start" font-family='"Liberation Sans", sans-serif'>/ GeV</text>
<text transform="translate(23.3,244) rotate(-90)" font-size="11.0" text-anchor="start" font-family='"Liberation Sans", sans-serif'>Pred./Data</text>
<text transform="translate(26,307.3) rotate(-90)" font-size="11.0" text-anchor="start" font-family='"Liberation Sans", sans-serif'>Other/Nom.</text>
<text transform="translate(65,29.3)" font-size="9.8" text-anchor="start" font-weight="bold" font-style="italic" font-family='"Liberation Sans", sans-serif' fill="#000">ATLAS</text>
<g transform="translate(65.2,41.6)">
<path d="M0.7 -4.6 L2.3 0.2 L3.5 -8.3 L8.9 -8.3" fill="none" stroke="#000" stroke-width="0.9" stroke-linejoin="round"/><path d="M0.7 -4.6 L2.3 0.2" fill="none" stroke="#000" stroke-width="1.5"/>
</g>
<text transform="translate(69.4,41.6) scale(1.04,1)" font-size="9.2" text-anchor="start" font-weight="normal" font-style="normal" font-family='"Liberation Sans", sans-serif' fill="#000">s = 13 TeV, 36.1 fb<tspan dy="-3.3" font-size="6">-1</tspan></text>
<text transform="translate(65.2,53.6) scale(1.04,1)" font-size="9.2" text-anchor="start" font-weight="normal" font-style="normal" font-family='"Liberation Sans", sans-serif' fill="#000">Normalized cross-section</text>
<text transform="translate(65.2,65.4) scale(1.04,1)" font-size="9.2" text-anchor="start" font-weight="normal" font-style="normal" font-family='"Liberation Sans", sans-serif' fill="#000">Single lepton</text>
<circle cx="185.2" cy="24.9" r="2.1" fill="#000"/>
<line x1="176.4" y1="34.9" x2="194.3" y2="34.9" stroke="#ff2a2a" stroke-width="1.7" />
<line x1="176.4" y1="44.9" x2="194.3" y2="44.9" stroke="#2a3cff" stroke-width="1.7" />
<line x1="176.4" y1="54.9" x2="194.3" y2="54.9" stroke="#3ee23e" stroke-width="1.7" />
<line x1="176.4" y1="64.9" x2="194.3" y2="64.9" stroke="#5ff2f2" stroke-width="1.7" />
<line x1="175.9" y1="74.9" x2="193.7" y2="74.9" stroke="#ff2a2a" stroke-width="1.2" stroke-dasharray="2,1.6"/>
<rect x="175.9" y="81.9" width="17.8" height="6" fill="#fe9600"/>
<rect x="175.9" y="91.9" width="17.8" height="6" fill="#fec62e"/>
<text transform="translate(198,27.3) scale(0.94,1)" font-size="8.5" text-anchor="start" font-weight="normal" font-style="normal" font-family='"Liberation Sans", sans-serif' fill="#000">Unfolded data</text>
<text transform="translate(198,37.3) scale(0.94,1)" font-size="8.5" text-anchor="start" font-weight="normal" font-style="normal" font-family='"Liberation Sans", sans-serif' fill="#000">MG5_aMC + Pythia8</text>
<text transform="translate(198,47.3) scale(0.94,1)" font-size="8.5" text-anchor="start" font-weight="normal" font-style="normal" font-family='"Liberation Sans", sans-serif' fill="#000">MG5_aMC + Herwig7</text>
<text transform="translate(198,57.3) scale(0.94,1)" font-size="8.5" text-anchor="start" font-weight="normal" font-style="normal" font-family='"Liberation Sans", sans-serif' fill="#000">MG5_aMC + Pythia8 (A14 Up)</text>
<text transform="translate(198,67.3) scale(0.94,1)" font-size="8.5" text-anchor="start" font-weight="normal" font-style="normal" font-family='"Liberation Sans", sans-serif' fill="#000">MG5_aMC + Pythia8 (A14 Down)</text>
<text transform="translate(198,77.3) scale(0.94,1)" font-size="8.5" text-anchor="start" font-weight="normal" font-style="normal" font-family='"Liberation Sans", sans-serif' fill="#000">Powheg + Pythia8 tt</text>
<text transform="translate(198,87.3) scale(0.94,1)" font-size="8.5" text-anchor="start" font-weight="normal" font-style="normal" font-family='"Liberation Sans", sans-serif' fill="#000">Stat.</text>
<text transform="translate(198,97.3) scale(0.94,1)" font-size="8.5" text-anchor="start" font-weight="normal" font-style="normal" font-family='"Liberation Sans", sans-serif' fill="#000">Stat</text>
<line x1="266.2" y1="70.4" x2="269.1" y2="70.4" stroke="#000" stroke-width="0.9" />
<circle cx="217" cy="94.6" r="2.55" fill="none" stroke="#222" stroke-width="0.55"/>
<line x1="214.5" y1="94.6" x2="219.5" y2="94.6" stroke="#222" stroke-width="0.5" />
<line x1="217" y1="92.1" x2="217" y2="97.1" stroke="#222" stroke-width="0.5" />
<text transform="translate(222.2,97.3) scale(0.94,1)" font-size="8.5" text-anchor="start" font-weight="normal" font-style="normal" font-family='"Liberation Sans", sans-serif' fill="#000">Syst.</text>
<text transform="translate(172.7,354.2)" font-size="16" text-anchor="middle" font-weight="bold" font-style="normal" font-family='"Liberation Serif", serif' fill="#000">(a)</text>
<clipPath id="c355m"><rect x="409" y="10" width="273.7" height="182.8"/></clipPath>
<clipPath id="c355a"><rect x="409" y="202.3" width="273.7" height="46.1"/></clipPath>
<clipPath id="c355b"><rect x="409" y="262.2" width="273.7" height="38.1"/></clipPath>
<line x1="409.6" y1="192.8" x2="418.8" y2="192.8" stroke="#000" stroke-width="0.9" />
<line x1="682.1" y1="192.8" x2="672.9" y2="192.8" stroke="#000" stroke-width="0.9" />
<line x1="409.6" y1="166.69" x2="418.8" y2="166.69" stroke="#000" stroke-width="0.9" />
<line x1="682.1" y1="166.69" x2="672.9" y2="166.69" stroke="#000" stroke-width="0.9" />
<line x1="409.6" y1="140.57" x2="418.8" y2="140.57" stroke="#000" stroke-width="0.9" />
<line x1="682.1" y1="140.57" x2="672.9" y2="140.57" stroke="#000" stroke-width="0.9" />
<line x1="409.6" y1="114.46" x2="418.8" y2="114.46" stroke="#000" stroke-width="0.9" />
<line x1="682.1" y1="114.46" x2="672.9" y2="114.46" stroke="#000" stroke-width="0.9" />
<line x1="409.6" y1="88.34" x2="418.8" y2="88.34" stroke="#000" stroke-width="0.9" />
<line x1="682.1" y1="88.34" x2="672.9" y2="88.34" stroke="#000" stroke-width="0.9" />
<line x1="409.6" y1="62.23" x2="418.8" y2="62.23" stroke="#000" stroke-width="0.9" />
<line x1="682.1" y1="62.23" x2="672.9" y2="62.23" stroke="#000" stroke-width="0.9" />
<line x1="409.6" y1="36.11" x2="418.8" y2="36.11" stroke="#000" stroke-width="0.9" />
<line x1="682.1" y1="36.11" x2="672.9" y2="36.11" stroke="#000" stroke-width="0.9" />
<line x1="409.6" y1="10" x2="418.8" y2="10" stroke="#000" stroke-width="0.9" />
<line x1="682.1" y1="10" x2="672.9" y2="10" stroke="#000" stroke-width="0.9" />
<line x1="409.6" y1="192.8" x2="414.4" y2="192.8" stroke="#000" stroke-width="0.9" />
<line x1="682.1" y1="192.8" x2="677.3" y2="192.8" stroke="#000" stroke-width="0.9" />
<line x1="409.6" y1="186.27" x2="414.4" y2="186.27" stroke="#000" stroke-width="0.9" />
<line x1="682.1" y1="186.27" x2="677.3" y2="186.27" stroke="#000" stroke-width="0.9" />
<line x1="409.6" y1="179.74" x2="414.4" y2="179.74" stroke="#000" stroke-width="0.9" />
<line x1="682.1" y1="179.74" x2="677.3" y2="179.74" stroke="#000" stroke-width="0.9" />
<line x1="409.6" y1="173.21" x2="414.4" y2="173.21" stroke="#000" stroke-width="0.9" />
<line x1="682.1" y1="173.21" x2="677.3" y2="173.21" stroke="#000" stroke-width="0.9" />
<line x1="409.6" y1="166.69" x2="414.4" y2="166.69" stroke="#000" stroke-width="0.9" />
<line x1="682.1" y1="166.69" x2="677.3" y2="166.69" stroke="#000" stroke-width="0.9" />
<line x1="409.6" y1="160.16" x2="414.4" y2="160.16" stroke="#000" stroke-width="0.9" />
<line x1="682.1" y1="160.16" x2="677.3" y2="160.16" stroke="#000" stroke-width="0.9" />
<line x1="409.6" y1="153.63" x2="414.4" y2="153.63" stroke="#000" stroke-width="0.9" />
<line x1="682.1" y1="153.63" x2="677.3" y2="153.63" stroke="#000" stroke-width="0.9" />
<line x1="409.6" y1="147.1" x2="414.4" y2="147.1" stroke="#000" stroke-width="0.9" />
<line x1="682.1" y1="147.1" x2="677.3" y2="147.1" stroke="#000" stroke-width="0.9" />
<line x1="409.6" y1="140.57" x2="414.4" y2="140.57" stroke="#000" stroke-width="0.9" />
<line x1="682.1" y1="140.57" x2="677.3" y2="140.57" stroke="#000" stroke-width="0.9" />
<line x1="409.6" y1="134.04" x2="414.4" y2="134.04" stroke="#000" stroke-width="0.9" />
<line x1="682.1" y1="134.04" x2="677.3" y2="134.04" stroke="#000" stroke-width="0.9" />
<line x1="409.6" y1="127.51" x2="414.4" y2="127.51" stroke="#000" stroke-width="0.9" />
<line x1="682.1" y1="127.51" x2="677.3" y2="127.51" stroke="#000" stroke-width="0.9" />
<line x1="409.6" y1="120.99" x2="414.4" y2="120.99" stroke="#000" stroke-width="0.9" />
<line x1="682.1" y1="120.99" x2="677.3" y2="120.99" stroke="#000" stroke-width="0.9" />
<line x1="409.6" y1="114.46" x2="414.4" y2="114.46" stroke="#000" stroke-width="0.9" />
<line x1="682.1" y1="114.46" x2="677.3" y2="114.46" stroke="#000" stroke-width="0.9" />
<line x1="409.6" y1="107.93" x2="414.4" y2="107.93" stroke="#000" stroke-width="0.9" />
<line x1="682.1" y1="107.93" x2="677.3" y2="107.93" stroke="#000" stroke-width="0.9" />
<line x1="409.6" y1="101.4" x2="414.4" y2="101.4" stroke="#000" stroke-width="0.9" />
<line x1="682.1" y1="101.4" x2="677.3" y2="101.4" stroke="#000" stroke-width="0.9" />
<line x1="409.6" y1="94.87" x2="414.4" y2="94.87" stroke="#000" stroke-width="0.9" />
<line x1="682.1" y1="94.87" x2="677.3" y2="94.87" stroke="#000" stroke-width="0.9" />
<line x1="409.6" y1="88.34" x2="414.4" y2="88.34" stroke="#000" stroke-width="0.9" />
<line x1="682.1" y1="88.34" x2="677.3" y2="88.34" stroke="#000" stroke-width="0.9" />
<line x1="409.6" y1="81.81" x2="414.4" y2="81.81" stroke="#000" stroke-width="0.9" />
<line x1="682.1" y1="81.81" x2="677.3" y2="81.81" stroke="#000" stroke-width="0.9" />
<line x1="409.6" y1="75.29" x2="414.4" y2="75.29" stroke="#000" stroke-width="0.9" />
<line x1="682.1" y1="75.29" x2="677.3" y2="75.29" stroke="#000" stroke-width="0.9" />
<line x1="409.6" y1="68.76" x2="414.4" y2="68.76" stroke="#000" stroke-width="0.9" />
<line x1="682.1" y1="68.76" x2="677.3" y2="68.76" stroke="#000" stroke-width="0.9" />
<line x1="409.6" y1="62.23" x2="414.4" y2="62.23" stroke="#000" stroke-width="0.9" />
<line x1="682.1" y1="62.23" x2="677.3" y2="62.23" stroke="#000" stroke-width="0.9" />
<line x1="409.6" y1="55.7" x2="414.4" y2="55.7" stroke="#000" stroke-width="0.9" />
<line x1="682.1" y1="55.7" x2="677.3" y2="55.7" stroke="#000" stroke-width="0.9" />
<line x1="409.6" y1="49.17" x2="414.4" y2="49.17" stroke="#000" stroke-width="0.9" />
<line x1="682.1" y1="49.17" x2="677.3" y2="49.17" stroke="#000" stroke-width="0.9" />
<line x1="409.6" y1="42.64" x2="414.4" y2="42.64" stroke="#000" stroke-width="0.9" />
<line x1="682.1" y1="42.64" x2="677.3" y2="42.64" stroke="#000" stroke-width="0.9" />
<line x1="409.6" y1="36.11" x2="414.4" y2="36.11" stroke="#000" stroke-width="0.9" />
<line x1="682.1" y1="36.11" x2="677.3" y2="36.11" stroke="#000" stroke-width="0.9" />
<line x1="409.6" y1="29.59" x2="414.4" y2="29.59" stroke="#000" stroke-width="0.9" />
<line x1="682.1" y1="29.59" x2="677.3" y2="29.59" stroke="#000" stroke-width="0.9" />
<line x1="409.6" y1="23.06" x2="414.4" y2="23.06" stroke="#000" stroke-width="0.9" />
<line x1="682.1" y1="23.06" x2="677.3" y2="23.06" stroke="#000" stroke-width="0.9" />
<line x1="409.6" y1="16.53" x2="414.4" y2="16.53" stroke="#000" stroke-width="0.9" />
<line x1="682.1" y1="16.53" x2="677.3" y2="16.53" stroke="#000" stroke-width="0.9" />
<line x1="409.6" y1="10" x2="414.4" y2="10" stroke="#000" stroke-width="0.9" />
<line x1="682.1" y1="10" x2="677.3" y2="10" stroke="#000" stroke-width="0.9" />
<line x1="409.6" y1="192.8" x2="409.6" y2="187.8" stroke="#000" stroke-width="0.9" />
<line x1="409.6" y1="10" x2="409.6" y2="15" stroke="#000" stroke-width="0.9" />
<line x1="432.6" y1="192.8" x2="432.6" y2="187.8" stroke="#000" stroke-width="0.9" />
<line x1="432.6" y1="10" x2="432.6" y2="15" stroke="#000" stroke-width="0.9" />
<line x1="455.59" y1="192.8" x2="455.59" y2="187.8" stroke="#000" stroke-width="0.9" />
<line x1="455.59" y1="10" x2="455.59" y2="15" stroke="#000" stroke-width="0.9" />
<line x1="478.59" y1="192.8" x2="478.59" y2="187.8" stroke="#000" stroke-width="0.9" />
<line x1="478.59" y1="10" x2="478.59" y2="15" stroke="#000" stroke-width="0.9" />
<line x1="501.58" y1="192.8" x2="501.58" y2="187.8" stroke="#000" stroke-width="0.9" />
<line x1="501.58" y1="10" x2="501.58" y2="15" stroke="#000" stroke-width="0.9" />
<line x1="524.58" y1="192.8" x2="524.58" y2="187.8" stroke="#000" stroke-width="0.9" />
<line x1="524.58" y1="10" x2="524.58" y2="15" stroke="#000" stroke-width="0.9" />
<line x1="547.57" y1="192.8" x2="547.57" y2="187.8" stroke="#000" stroke-width="0.9" />
<line x1="547.57" y1="10" x2="547.57" y2="15" stroke="#000" stroke-width="0.9" />
<line x1="570.57" y1="192.8" x2="570.57" y2="187.8" stroke="#000" stroke-width="0.9" />
<line x1="570.57" y1="10" x2="570.57" y2="15" stroke="#000" stroke-width="0.9" />
<line x1="593.57" y1="192.8" x2="593.57" y2="187.8" stroke="#000" stroke-width="0.9" />
<line x1="593.57" y1="10" x2="593.57" y2="15" stroke="#000" stroke-width="0.9" />
<line x1="616.56" y1="192.8" x2="616.56" y2="187.8" stroke="#000" stroke-width="0.9" />
<line x1="616.56" y1="10" x2="616.56" y2="15" stroke="#000" stroke-width="0.9" />
<line x1="639.56" y1="192.8" x2="639.56" y2="187.8" stroke="#000" stroke-width="0.9" />
<line x1="639.56" y1="10" x2="639.56" y2="15" stroke="#000" stroke-width="0.9" />
<line x1="662.55" y1="192.8" x2="662.55" y2="187.8" stroke="#000" stroke-width="0.9" />
<line x1="662.55" y1="10" x2="662.55" y2="15" stroke="#000" stroke-width="0.9" />
<line x1="415.35" y1="192.8" x2="415.35" y2="190.2" stroke="#000" stroke-width="0.9" />
<line x1="415.35" y1="10" x2="415.35" y2="12.6" stroke="#000" stroke-width="0.9" />
<line x1="421.1" y1="192.8" x2="421.1" y2="190.2" stroke="#000" stroke-width="0.9" />
<line x1="421.1" y1="10" x2="421.1" y2="12.6" stroke="#000" stroke-width="0.9" />
<line x1="426.85" y1="192.8" x2="426.85" y2="190.2" stroke="#000" stroke-width="0.9" />
<line x1="426.85" y1="10" x2="426.85" y2="12.6" stroke="#000" stroke-width="0.9" />
<line x1="432.6" y1="192.8" x2="432.6" y2="190.2" stroke="#000" stroke-width="0.9" />
<line x1="432.6" y1="10" x2="432.6" y2="12.6" stroke="#000" stroke-width="0.9" />
<line x1="438.34" y1="192.8" x2="438.34" y2="190.2" stroke="#000" stroke-width="0.9" />
<line x1="438.34" y1="10" x2="438.34" y2="12.6" stroke="#000" stroke-width="0.9" />
<line x1="444.09" y1="192.8" x2="444.09" y2="190.2" stroke="#000" stroke-width="0.9" />
<line x1="444.09" y1="10" x2="444.09" y2="12.6" stroke="#000" stroke-width="0.9" />
<line x1="449.84" y1="192.8" x2="449.84" y2="190.2" stroke="#000" stroke-width="0.9" />
<line x1="449.84" y1="10" x2="449.84" y2="12.6" stroke="#000" stroke-width="0.9" />
<line x1="455.59" y1="192.8" x2="455.59" y2="190.2" stroke="#000" stroke-width="0.9" />
<line x1="455.59" y1="10" x2="455.59" y2="12.6" stroke="#000" stroke-width="0.9" />
<line x1="461.34" y1="192.8" x2="461.34" y2="190.2" stroke="#000" stroke-width="0.9" />
<line x1="461.34" y1="10" x2="461.34" y2="12.6" stroke="#000" stroke-width="0.9" />
<line x1="467.09" y1="192.8" x2="467.09" y2="190.2" stroke="#000" stroke-width="0.9" />
<line x1="467.09" y1="10" x2="467.09" y2="12.6" stroke="#000" stroke-width="0.9" />
<line x1="472.84" y1="192.8" x2="472.84" y2="190.2" stroke="#000" stroke-width="0.9" />
<line x1="472.84" y1="10" x2="472.84" y2="12.6" stroke="#000" stroke-width="0.9" />
<line x1="478.59" y1="192.8" x2="478.59" y2="190.2" stroke="#000" stroke-width="0.9" />
<line x1="478.59" y1="10" x2="478.59" y2="12.6" stroke="#000" stroke-width="0.9" />
<line x1="484.34" y1="192.8" x2="484.34" y2="190.2" stroke="#000" stroke-width="0.9" />
<line x1="484.34" y1="10" x2="484.34" y2="12.6" stroke="#000" stroke-width="0.9" />
<line x1="490.09" y1="192.8" x2="490.09" y2="190.2" stroke="#000" stroke-width="0.9" />
<line x1="490.09" y1="10" x2="490.09" y2="12.6" stroke="#000" stroke-width="0.9" />
<line x1="495.83" y1="192.8" x2="495.83" y2="190.2" stroke="#000" stroke-width="0.9" />
<line x1="495.83" y1="10" x2="495.83" y2="12.6" stroke="#000" stroke-width="0.9" />
<line x1="501.58" y1="192.8" x2="501.58" y2="190.2" stroke="#000" stroke-width="0.9" />
<line x1="501.58" y1="10" x2="501.58" y2="12.6" stroke="#000" stroke-width="0.9" />
<line x1="507.33" y1="192.8" x2="507.33" y2="190.2" stroke="#000" stroke-width="0.9" />
<line x1="507.33" y1="10" x2="507.33" y2="12.6" stroke="#000" stroke-width="0.9" />
<line x1="513.08" y1="192.8" x2="513.08" y2="190.2" stroke="#000" stroke-width="0.9" />
<line x1="513.08" y1="10" x2="513.08" y2="12.6" stroke="#000" stroke-width="0.9" />
<line x1="518.83" y1="192.8" x2="518.83" y2="190.2" stroke="#000" stroke-width="0.9" />
<line x1="518.83" y1="10" x2="518.83" y2="12.6" stroke="#000" stroke-width="0.9" />
<line x1="524.58" y1="192.8" x2="524.58" y2="190.2" stroke="#000" stroke-width="0.9" />
<line x1="524.58" y1="10" x2="524.58" y2="12.6" stroke="#000" stroke-width="0.9" />
<line x1="530.33" y1="192.8" x2="530.33" y2="190.2" stroke="#000" stroke-width="0.9" />
<line x1="530.33" y1="10" x2="530.33" y2="12.6" stroke="#000" stroke-width="0.9" />
<line x1="536.08" y1="192.8" x2="536.08" y2="190.2" stroke="#000" stroke-width="0.9" />
<line x1="536.08" y1="10" x2="536.08" y2="12.6" stroke="#000" stroke-width="0.9" />
<line x1="541.83" y1="192.8" x2="541.83" y2="190.2" stroke="#000" stroke-width="0.9" />
<line x1="541.83" y1="10" x2="541.83" y2="12.6" stroke="#000" stroke-width="0.9" />
<line x1="547.57" y1="192.8" x2="547.57" y2="190.2" stroke="#000" stroke-width="0.9" />
<line x1="547.57" y1="10" x2="547.57" y2="12.6" stroke="#000" stroke-width="0.9" />
<line x1="553.32" y1="192.8" x2="553.32" y2="190.2" stroke="#000" stroke-width="0.9" />
<line x1="553.32" y1="10" x2="553.32" y2="12.6" stroke="#000" stroke-width="0.9" />
<line x1="559.07" y1="192.8" x2="559.07" y2="190.2" stroke="#000" stroke-width="0.9" />
<line x1="559.07" y1="10" x2="559.07" y2="12.6" stroke="#000" stroke-width="0.9" />
<line x1="564.82" y1="192.8" x2="564.82" y2="190.2" stroke="#000" stroke-width="0.9" />
<line x1="564.82" y1="10" x2="564.82" y2="12.6" stroke="#000" stroke-width="0.9" />
<line x1="570.57" y1="192.8" x2="570.57" y2="190.2" stroke="#000" stroke-width="0.9" />
<line x1="570.57" y1="10" x2="570.57" y2="12.6" stroke="#000" stroke-width="0.9" />
<line x1="576.32" y1="192.8" x2="576.32" y2="190.2" stroke="#000" stroke-width="0.9" />
<line x1="576.32" y1="10" x2="576.32" y2="12.6" stroke="#000" stroke-width="0.9" />
<line x1="582.07" y1="192.8" x2="582.07" y2="190.2" stroke="#000" stroke-width="0.9" />
<line x1="582.07" y1="10" x2="582.07" y2="12.6" stroke="#000" stroke-width="0.9" />
<line x1="587.82" y1="192.8" x2="587.82" y2="190.2" stroke="#000" stroke-width="0.9" />
<line x1="587.82" y1="10" x2="587.82" y2="12.6" stroke="#000" stroke-width="0.9" />
<line x1="593.57" y1="192.8" x2="593.57" y2="190.2" stroke="#000" stroke-width="0.9" />
<line x1="593.57" y1="10" x2="593.57" y2="12.6" stroke="#000" stroke-width="0.9" />
<line x1="599.32" y1="192.8" x2="599.32" y2="190.2" stroke="#000" stroke-width="0.9" />
<line x1="599.32" y1="10" x2="599.32" y2="12.6" stroke="#000" stroke-width="0.9" />
<line x1="605.06" y1="192.8" x2="605.06" y2="190.2" stroke="#000" stroke-width="0.9" />
<line x1="605.06" y1="10" x2="605.06" y2="12.6" stroke="#000" stroke-width="0.9" />
<line x1="610.81" y1="192.8" x2="610.81" y2="190.2" stroke="#000" stroke-width="0.9" />
<line x1="610.81" y1="10" x2="610.81" y2="12.6" stroke="#000" stroke-width="0.9" />
<line x1="616.56" y1="192.8" x2="616.56" y2="190.2" stroke="#000" stroke-width="0.9" />
<line x1="616.56" y1="10" x2="616.56" y2="12.6" stroke="#000" stroke-width="0.9" />
<line x1="622.31" y1="192.8" x2="622.31" y2="190.2" stroke="#000" stroke-width="0.9" />
<line x1="622.31" y1="10" x2="622.31" y2="12.6" stroke="#000" stroke-width="0.9" />
<line x1="628.06" y1="192.8" x2="628.06" y2="190.2" stroke="#000" stroke-width="0.9" />
<line x1="628.06" y1="10" x2="628.06" y2="12.6" stroke="#000" stroke-width="0.9" />
<line x1="633.81" y1="192.8" x2="633.81" y2="190.2" stroke="#000" stroke-width="0.9" />
<line x1="633.81" y1="10" x2="633.81" y2="12.6" stroke="#000" stroke-width="0.9" />
<line x1="639.56" y1="192.8" x2="639.56" y2="190.2" stroke="#000" stroke-width="0.9" />
<line x1="639.56" y1="10" x2="639.56" y2="12.6" stroke="#000" stroke-width="0.9" />
<line x1="645.31" y1="192.8" x2="645.31" y2="190.2" stroke="#000" stroke-width="0.9" />
<line x1="645.31" y1="10" x2="645.31" y2="12.6" stroke="#000" stroke-width="0.9" />
<line x1="651.06" y1="192.8" x2="651.06" y2="190.2" stroke="#000" stroke-width="0.9" />
<line x1="651.06" y1="10" x2="651.06" y2="12.6" stroke="#000" stroke-width="0.9" />
<line x1="656.8" y1="192.8" x2="656.8" y2="190.2" stroke="#000" stroke-width="0.9" />
<line x1="656.8" y1="10" x2="656.8" y2="12.6" stroke="#000" stroke-width="0.9" />
<line x1="662.55" y1="192.8" x2="662.55" y2="190.2" stroke="#000" stroke-width="0.9" />
<line x1="662.55" y1="10" x2="662.55" y2="12.6" stroke="#000" stroke-width="0.9" />
<line x1="668.3" y1="192.8" x2="668.3" y2="190.2" stroke="#000" stroke-width="0.9" />
<line x1="668.3" y1="10" x2="668.3" y2="12.6" stroke="#000" stroke-width="0.9" />
<line x1="674.05" y1="192.8" x2="674.05" y2="190.2" stroke="#000" stroke-width="0.9" />
<line x1="674.05" y1="10" x2="674.05" y2="12.6" stroke="#000" stroke-width="0.9" />
<line x1="679.8" y1="192.8" x2="679.8" y2="190.2" stroke="#000" stroke-width="0.9" />
<line x1="679.8" y1="10" x2="679.8" y2="12.6" stroke="#000" stroke-width="0.9" />
<rect x="409.6" y="10" width="272.5" height="182.8" fill="none" stroke="#000" stroke-width="1.1"/>
<text transform="translate(407.1,196.9) scale(1.0,1)" font-size="10.5" text-anchor="end" font-family='"Liberation Sans", sans-serif'>0</text>
<text transform="translate(407.1,170.79) scale(1.0,1)" font-size="10.5" text-anchor="end" font-family='"Liberation Sans", sans-serif'>0.2</text>
<text transform="translate(407.1,144.67) scale(1.0,1)" font-size="10.5" text-anchor="end" font-family='"Liberation Sans", sans-serif'>0.4</text>
<text transform="translate(407.1,118.56) scale(1.0,1)" font-size="10.5" text-anchor="end" font-family='"Liberation Sans", sans-serif'>0.6</text>
<text transform="translate(407.1,92.44) scale(1.0,1)" font-size="10.5" text-anchor="end" font-family='"Liberation Sans", sans-serif'>0.8</text>
<text transform="translate(407.1,66.33) scale(1.0,1)" font-size="10.5" text-anchor="end" font-family='"Liberation Sans", sans-serif'>1</text>
<text transform="translate(407.1,40.21) scale(1.0,1)" font-size="10.5" text-anchor="end" font-family='"Liberation Sans", sans-serif'>1.2</text>
<text transform="translate(407.1,14.1) scale(1.0,1)" font-size="10.5" text-anchor="end" font-family='"Liberation Sans", sans-serif'>1.4</text>
<g clip-path="url(#c355m)">
<rect x="409" y="97.4" width="23.6" height="23.3" fill="#fec62e"/>
<rect x="409" y="103.8" width="23.6" height="12.3" fill="#fe9600"/>
<rect x="432.6" y="93.6" width="23" height="24" fill="#fec62e"/>
<rect x="432.6" y="99.7" width="23" height="11.8" fill="#fe9600"/>
<rect x="455.59" y="100" width="23" height="22.2" fill="#fec62e"/>
<rect x="455.59" y="105.8" width="23" height="10.8" fill="#fe9600"/>
<rect x="478.59" y="112.5" width="23" height="18.4" fill="#fec62e"/>
<rect x="478.59" y="114.5" width="23" height="14.4" fill="#fe9600"/>
<rect x="501.58" y="115.1" width="23" height="15.8" fill="#fec62e"/>
<rect x="501.58" y="117.5" width="23" height="12" fill="#fe9600"/>
<rect x="524.58" y="122" width="23" height="18.7" fill="#fec62e"/>
<rect x="524.58" y="124.3" width="23" height="13.8" fill="#fe9600"/>
<rect x="547.57" y="139.1" width="57.49" height="12.1" fill="#fec62e"/>
<rect x="547.57" y="140.6" width="57.49" height="8.9" fill="#fe9600"/>
<rect x="605.06" y="162.8" width="77.64" height="12.1" fill="#fec62e"/>
<rect x="605.06" y="164.9" width="77.64" height="7.4" fill="#fe9600"/>
<path d="M409.6 106.8H432.6V108.8H455.59V112.4H478.59V117.7H501.58V124.3H524.58V132.3H547.57V146.3H605.06V168.5H682.1" fill="none" stroke="#ff2a2a" stroke-width="1.2"/>
<path d="M409.6 106.8H432.6V108.8H455.59V112.4H478.59V117.7H501.58V124.3H524.58V132.3H547.57V146.3H605.06V168.5H682.1" fill="none" stroke="#2a3cff" stroke-width="1.2"/>
<path d="M409.6 106.1H432.6V108.1H455.59V111.7H478.59V117H501.58V123.6H524.58V131.6H547.57V145.6H605.06V167.8H682.1" fill="none" stroke="#3ee23e" stroke-width="1.2"/>
<path d="M409.6 106.4H432.6V108.4H455.59V112H478.59V117.3H501.58V123.9H524.58V131.9H547.57V145.9H605.06V168.1H682.1" fill="none" stroke="#5ff2f2" stroke-width="1.2"/>
<path d="M409.6 114.5H432.6V115.5H455.59V121.7H478.59V125.2H501.58V125.2H524.58V135.2H547.57V144.4H605.06V158.2H682.1" fill="none" stroke="#ff1a1a" stroke-width="1.35" stroke-dasharray="2,1.6"/>
<circle cx="421.1" cy="109.2" r="2.2" fill="#000"/>
<circle cx="444.09" cy="105.5" r="2.2" fill="#000"/>
<circle cx="467.09" cy="111.1" r="2.2" fill="#000"/>
<circle cx="490.09" cy="121.7" r="2.2" fill="#000"/>
<circle cx="513.08" cy="122.7" r="2.2" fill="#000"/>
<circle cx="536.08" cy="131.3" r="2.2" fill="#000"/>
<circle cx="576.32" cy="145.2" r="2.2" fill="#000"/>
<circle cx="643.58" cy="168.7" r="2.2" fill="#000"/>
</g>
<line x1="409.6" y1="244.56" x2="416.1" y2="244.56" stroke="#000" stroke-width="0.9" />
<line x1="682.1" y1="244.56" x2="675.6" y2="244.56" stroke="#000" stroke-width="0.9" />
<line x1="409.6" y1="225.35" x2="416.1" y2="225.35" stroke="#000" stroke-width="0.9" />
<line x1="682.1" y1="225.35" x2="675.6" y2="225.35" stroke="#000" stroke-width="0.9" />
<line x1="409.6" y1="206.14" x2="416.1" y2="206.14" stroke="#000" stroke-width="0.9" />
<line x1="682.1" y1="206.14" x2="675.6" y2="206.14" stroke="#000" stroke-width="0.9" />
<line x1="409.6" y1="248.4" x2="413" y2="248.4" stroke="#000" stroke-width="0.9" />
<line x1="682.1" y1="248.4" x2="678.7" y2="248.4" stroke="#000" stroke-width="0.9" />
<line x1="409.6" y1="244.56" x2="413" y2="244.56" stroke="#000" stroke-width="0.9" />
<line x1="682.1" y1="244.56" x2="678.7" y2="244.56" stroke="#000" stroke-width="0.9" />
<line x1="409.6" y1="240.72" x2="413" y2="240.72" stroke="#000" stroke-width="0.9" />
<line x1="682.1" y1="240.72" x2="678.7" y2="240.72" stroke="#000" stroke-width="0.9" />
<line x1="409.6" y1="236.88" x2="413" y2="236.88" stroke="#000" stroke-width="0.9" />
<line x1="682.1" y1="236.88" x2="678.7" y2="236.88" stroke="#000" stroke-width="0.9" />
<line x1="409.6" y1="233.03" x2="413" y2="233.03" stroke="#000" stroke-width="0.9" />
<line x1="682.1" y1="233.03" x2="678.7" y2="233.03" stroke="#000" stroke-width="0.9" />
<line x1="409.6" y1="229.19" x2="413" y2="229.19" stroke="#000" stroke-width="0.9" />
<line x1="682.1" y1="229.19" x2="678.7" y2="229.19" stroke="#000" stroke-width="0.9" />
<line x1="409.6" y1="225.35" x2="413" y2="225.35" stroke="#000" stroke-width="0.9" />
<line x1="682.1" y1="225.35" x2="678.7" y2="225.35" stroke="#000" stroke-width="0.9" />
<line x1="409.6" y1="221.51" x2="413" y2="221.51" stroke="#000" stroke-width="0.9" />
<line x1="682.1" y1="221.51" x2="678.7" y2="221.51" stroke="#000" stroke-width="0.9" />
<line x1="409.6" y1="217.67" x2="413" y2="217.67" stroke="#000" stroke-width="0.9" />
<line x1="682.1" y1="217.67" x2="678.7" y2="217.67" stroke="#000" stroke-width="0.9" />
<line x1="409.6" y1="213.83" x2="413" y2="213.83" stroke="#000" stroke-width="0.9" />
<line x1="682.1" y1="213.83" x2="678.7" y2="213.83" stroke="#000" stroke-width="0.9" />
<line x1="409.6" y1="209.98" x2="413" y2="209.98" stroke="#000" stroke-width="0.9" />
<line x1="682.1" y1="209.98" x2="678.7" y2="209.98" stroke="#000" stroke-width="0.9" />
<line x1="409.6" y1="206.14" x2="413" y2="206.14" stroke="#000" stroke-width="0.9" />
<line x1="682.1" y1="206.14" x2="678.7" y2="206.14" stroke="#000" stroke-width="0.9" />
<line x1="409.6" y1="202.3" x2="413" y2="202.3" stroke="#000" stroke-width="0.9" />
<line x1="682.1" y1="202.3" x2="678.7" y2="202.3" stroke="#000" stroke-width="0.9" />
<line x1="409.6" y1="248.4" x2="409.6" y2="246.2" stroke="#000" stroke-width="0.9" />
<line x1="409.6" y1="202.3" x2="409.6" y2="204.5" stroke="#000" stroke-width="0.9" />
<line x1="432.6" y1="248.4" x2="432.6" y2="246.2" stroke="#000" stroke-width="0.9" />
<line x1="432.6" y1="202.3" x2="432.6" y2="204.5" stroke="#000" stroke-width="0.9" />
<line x1="455.59" y1="248.4" x2="455.59" y2="246.2" stroke="#000" stroke-width="0.9" />
<line x1="455.59" y1="202.3" x2="455.59" y2="204.5" stroke="#000" stroke-width="0.9" />
<line x1="478.59" y1="248.4" x2="478.59" y2="246.2" stroke="#000" stroke-width="0.9" />
<line x1="478.59" y1="202.3" x2="478.59" y2="204.5" stroke="#000" stroke-width="0.9" />
<line x1="501.58" y1="248.4" x2="501.58" y2="246.2" stroke="#000" stroke-width="0.9" />
<line x1="501.58" y1="202.3" x2="501.58" y2="204.5" stroke="#000" stroke-width="0.9" />
<line x1="524.58" y1="248.4" x2="524.58" y2="246.2" stroke="#000" stroke-width="0.9" />
<line x1="524.58" y1="202.3" x2="524.58" y2="204.5" stroke="#000" stroke-width="0.9" />
<line x1="547.57" y1="248.4" x2="547.57" y2="246.2" stroke="#000" stroke-width="0.9" />
<line x1="547.57" y1="202.3" x2="547.57" y2="204.5" stroke="#000" stroke-width="0.9" />
<line x1="570.57" y1="248.4" x2="570.57" y2="246.2" stroke="#000" stroke-width="0.9" />
<line x1="570.57" y1="202.3" x2="570.57" y2="204.5" stroke="#000" stroke-width="0.9" />
<line x1="593.57" y1="248.4" x2="593.57" y2="246.2" stroke="#000" stroke-width="0.9" />
<line x1="593.57" y1="202.3" x2="593.57" y2="204.5" stroke="#000" stroke-width="0.9" />
<line x1="616.56" y1="248.4" x2="616.56" y2="246.2" stroke="#000" stroke-width="0.9" />
<line x1="616.56" y1="202.3" x2="616.56" y2="204.5" stroke="#000" stroke-width="0.9" />
<line x1="639.56" y1="248.4" x2="639.56" y2="246.2" stroke="#000" stroke-width="0.9" />
<line x1="639.56" y1="202.3" x2="639.56" y2="204.5" stroke="#000" stroke-width="0.9" />
<line x1="662.55" y1="248.4" x2="662.55" y2="246.2" stroke="#000" stroke-width="0.9" />
<line x1="662.55" y1="202.3" x2="662.55" y2="204.5" stroke="#000" stroke-width="0.9" />
<line x1="415.35" y1="248.4" x2="415.35" y2="247.2" stroke="#000" stroke-width="0.9" />
<line x1="415.35" y1="202.3" x2="415.35" y2="203.5" stroke="#000" stroke-width="0.9" />
<line x1="421.1" y1="248.4" x2="421.1" y2="247.2" stroke="#000" stroke-width="0.9" />
<line x1="421.1" y1="202.3" x2="421.1" y2="203.5" stroke="#000" stroke-width="0.9" />
<line x1="426.85" y1="248.4" x2="426.85" y2="247.2" stroke="#000" stroke-width="0.9" />
<line x1="426.85" y1="202.3" x2="426.85" y2="203.5" stroke="#000" stroke-width="0.9" />
<line x1="432.6" y1="248.4" x2="432.6" y2="247.2" stroke="#000" stroke-width="0.9" />
<line x1="432.6" y1="202.3" x2="432.6" y2="203.5" stroke="#000" stroke-width="0.9" />
<line x1="438.34" y1="248.4" x2="438.34" y2="247.2" stroke="#000" stroke-width="0.9" />
<line x1="438.34" y1="202.3" x2="438.34" y2="203.5" stroke="#000" stroke-width="0.9" />
<line x1="444.09" y1="248.4" x2="444.09" y2="247.2" stroke="#000" stroke-width="0.9" />
<line x1="444.09" y1="202.3" x2="444.09" y2="203.5" stroke="#000" stroke-width="0.9" />
<line x1="449.84" y1="248.4" x2="449.84" y2="247.2" stroke="#000" stroke-width="0.9" />
<line x1="449.84" y1="202.3" x2="449.84" y2="203.5" stroke="#000" stroke-width="0.9" />
<line x1="455.59" y1="248.4" x2="455.59" y2="247.2" stroke="#000" stroke-width="0.9" />
<line x1="455.59" y1="202.3" x2="455.59" y2="203.5" stroke="#000" stroke-width="0.9" />
<line x1="461.34" y1="248.4" x2="461.34" y2="247.2" stroke="#000" stroke-width="0.9" />
<line x1="461.34" y1="202.3" x2="461.34" y2="203.5" stroke="#000" stroke-width="0.9" />
<line x1="467.09" y1="248.4" x2="467.09" y2="247.2" stroke="#000" stroke-width="0.9" />
<line x1="467.09" y1="202.3" x2="467.09" y2="203.5" stroke="#000" stroke-width="0.9" />
<line x1="472.84" y1="248.4" x2="472.84" y2="247.2" stroke="#000" stroke-width="0.9" />
<line x1="472.84" y1="202.3" x2="472.84" y2="203.5" stroke="#000" stroke-width="0.9" />
<line x1="478.59" y1="248.4" x2="478.59" y2="247.2" stroke="#000" stroke-width="0.9" />
<line x1="478.59" y1="202.3" x2="478.59" y2="203.5" stroke="#000" stroke-width="0.9" />
<line x1="484.34" y1="248.4" x2="484.34" y2="247.2" stroke="#000" stroke-width="0.9" />
<line x1="484.34" y1="202.3" x2="484.34" y2="203.5" stroke="#000" stroke-width="0.9" />
<line x1="490.09" y1="248.4" x2="490.09" y2="247.2" stroke="#000" stroke-width="0.9" />
<line x1="490.09" y1="202.3" x2="490.09" y2="203.5" stroke="#000" stroke-width="0.9" />
<line x1="495.83" y1="248.4" x2="495.83" y2="247.2" stroke="#000" stroke-width="0.9" />
<line x1="495.83" y1="202.3" x2="495.83" y2="203.5" stroke="#000" stroke-width="0.9" />
<line x1="501.58" y1="248.4" x2="501.58" y2="247.2" stroke="#000" stroke-width="0.9" />
<line x1="501.58" y1="202.3" x2="501.58" y2="203.5" stroke="#000" stroke-width="0.9" />
<line x1="507.33" y1="248.4" x2="507.33" y2="247.2" stroke="#000" stroke-width="0.9" />
<line x1="507.33" y1="202.3" x2="507.33" y2="203.5" stroke="#000" stroke-width="0.9" />
<line x1="513.08" y1="248.4" x2="513.08" y2="247.2" stroke="#000" stroke-width="0.9" />
<line x1="513.08" y1="202.3" x2="513.08" y2="203.5" stroke="#000" stroke-width="0.9" />
<line x1="518.83" y1="248.4" x2="518.83" y2="247.2" stroke="#000" stroke-width="0.9" />
<line x1="518.83" y1="202.3" x2="518.83" y2="203.5" stroke="#000" stroke-width="0.9" />
<line x1="524.58" y1="248.4" x2="524.58" y2="247.2" stroke="#000" stroke-width="0.9" />
<line x1="524.58" y1="202.3" x2="524.58" y2="203.5" stroke="#000" stroke-width="0.9" />
<line x1="530.33" y1="248.4" x2="530.33" y2="247.2" stroke="#000" stroke-width="0.9" />
<line x1="530.33" y1="202.3" x2="530.33" y2="203.5" stroke="#000" stroke-width="0.9" />
<line x1="536.08" y1="248.4" x2="536.08" y2="247.2" stroke="#000" stroke-width="0.9" />
<line x1="536.08" y1="202.3" x2="536.08" y2="203.5" stroke="#000" stroke-width="0.9" />
<line x1="541.83" y1="248.4" x2="541.83" y2="247.2" stroke="#000" stroke-width="0.9" />
<line x1="541.83" y1="202.3" x2="541.83" y2="203.5" stroke="#000" stroke-width="0.9" />
<line x1="547.57" y1="248.4" x2="547.57" y2="247.2" stroke="#000" stroke-width="0.9" />
<line x1="547.57" y1="202.3" x2="547.57" y2="203.5" stroke="#000" stroke-width="0.9" />
<line x1="553.32" y1="248.4" x2="553.32" y2="247.2" stroke="#000" stroke-width="0.9" />
<line x1="553.32" y1="202.3" x2="553.32" y2="203.5" stroke="#000" stroke-width="0.9" />
<line x1="559.07" y1="248.4" x2="559.07" y2="247.2" stroke="#000" stroke-width="0.9" />
<line x1="559.07" y1="202.3" x2="559.07" y2="203.5" stroke="#000" stroke-width="0.9" />
<line x1="564.82" y1="248.4" x2="564.82" y2="247.2" stroke="#000" stroke-width="0.9" />
<line x1="564.82" y1="202.3" x2="564.82" y2="203.5" stroke="#000" stroke-width="0.9" />
<line x1="570.57" y1="248.4" x2="570.57" y2="247.2" stroke="#000" stroke-width="0.9" />
<line x1="570.57" y1="202.3" x2="570.57" y2="203.5" stroke="#000" stroke-width="0.9" />
<line x1="576.32" y1="248.4" x2="576.32" y2="247.2" stroke="#000" stroke-width="0.9" />
<line x1="576.32" y1="202.3" x2="576.32" y2="203.5" stroke="#000" stroke-width="0.9" />
<line x1="582.07" y1="248.4" x2="582.07" y2="247.2" stroke="#000" stroke-width="0.9" />
<line x1="582.07" y1="202.3" x2="582.07" y2="203.5" stroke="#000" stroke-width="0.9" />
<line x1="587.82" y1="248.4" x2="587.82" y2="247.2" stroke="#000" stroke-width="0.9" />
<line x1="587.82" y1="202.3" x2="587.82" y2="203.5" stroke="#000" stroke-width="0.9" />
<line x1="593.57" y1="248.4" x2="593.57" y2="247.2" stroke="#000" stroke-width="0.9" />
<line x1="593.57" y1="202.3" x2="593.57" y2="203.5" stroke="#000" stroke-width="0.9" />
<line x1="599.32" y1="248.4" x2="599.32" y2="247.2" stroke="#000" stroke-width="0.9" />
<line x1="599.32" y1="202.3" x2="599.32" y2="203.5" stroke="#000" stroke-width="0.9" />
<line x1="605.06" y1="248.4" x2="605.06" y2="247.2" stroke="#000" stroke-width="0.9" />
<line x1="605.06" y1="202.3" x2="605.06" y2="203.5" stroke="#000" stroke-width="0.9" />
<line x1="610.81" y1="248.4" x2="610.81" y2="247.2" stroke="#000" stroke-width="0.9" />
<line x1="610.81" y1="202.3" x2="610.81" y2="203.5" stroke="#000" stroke-width="0.9" />
<line x1="616.56" y1="248.4" x2="616.56" y2="247.2" stroke="#000" stroke-width="0.9" />
<line x1="616.56" y1="202.3" x2="616.56" y2="203.5" stroke="#000" stroke-width="0.9" />
<line x1="622.31" y1="248.4" x2="622.31" y2="247.2" stroke="#000" stroke-width="0.9" />
<line x1="622.31" y1="202.3" x2="622.31" y2="203.5" stroke="#000" stroke-width="0.9" />
<line x1="628.06" y1="248.4" x2="628.06" y2="247.2" stroke="#000" stroke-width="0.9" />
<line x1="628.06" y1="202.3" x2="628.06" y2="203.5" stroke="#000" stroke-width="0.9" />
<line x1="633.81" y1="248.4" x2="633.81" y2="247.2" stroke="#000" stroke-width="0.9" />
<line x1="633.81" y1="202.3" x2="633.81" y2="203.5" stroke="#000" stroke-width="0.9" />
<line x1="639.56" y1="248.4" x2="639.56" y2="247.2" stroke="#000" stroke-width="0.9" />
<line x1="639.56" y1="202.3" x2="639.56" y2="203.5" stroke="#000" stroke-width="0.9" />
<line x1="645.31" y1="248.4" x2="645.31" y2="247.2" stroke="#000" stroke-width="0.9" />
<line x1="645.31" y1="202.3" x2="645.31" y2="203.5" stroke="#000" stroke-width="0.9" />
<line x1="651.06" y1="248.4" x2="651.06" y2="247.2" stroke="#000" stroke-width="0.9" />
<line x1="651.06" y1="202.3" x2="651.06" y2="203.5" stroke="#000" stroke-width="0.9" />
<line x1="656.8" y1="248.4" x2="656.8" y2="247.2" stroke="#000" stroke-width="0.9" />
<line x1="656.8" y1="202.3" x2="656.8" y2="203.5" stroke="#000" stroke-width="0.9" />
<line x1="662.55" y1="248.4" x2="662.55" y2="247.2" stroke="#000" stroke-width="0.9" />
<line x1="662.55" y1="202.3" x2="662.55" y2="203.5" stroke="#000" stroke-width="0.9" />
<line x1="668.3" y1="248.4" x2="668.3" y2="247.2" stroke="#000" stroke-width="0.9" />
<line x1="668.3" y1="202.3" x2="668.3" y2="203.5" stroke="#000" stroke-width="0.9" />
<line x1="674.05" y1="248.4" x2="674.05" y2="247.2" stroke="#000" stroke-width="0.9" />
<line x1="674.05" y1="202.3" x2="674.05" y2="203.5" stroke="#000" stroke-width="0.9" />
<line x1="679.8" y1="248.4" x2="679.8" y2="247.2" stroke="#000" stroke-width="0.9" />
<line x1="679.8" y1="202.3" x2="679.8" y2="203.5" stroke="#000" stroke-width="0.9" />
<rect x="409.6" y="202.3" width="272.5" height="46.1" fill="none" stroke="#000" stroke-width="1.1"/>
<text transform="translate(407.2,210.24)" font-size="10.5" text-anchor="end" font-weight="normal" font-style="normal" font-family='"Liberation Sans", sans-serif' fill="#000">1.5</text>
<text transform="translate(407.2,230.35)" font-size="10.5" text-anchor="end" font-weight="normal" font-style="normal" font-family='"Liberation Sans", sans-serif' fill="#000">1</text>
<text transform="translate(407.2,248.66)" font-size="10.5" text-anchor="end" font-weight="normal" font-style="normal" font-family='"Liberation Sans", sans-serif' fill="#000">0.5</text>
<g clip-path="url(#c355a)">
<rect x="409" y="219.5" width="23.6" height="12.2" fill="#fec62e"/>
<rect x="409" y="221.7" width="23.6" height="7.81" fill="#fe9600"/>
<rect x="432.6" y="220" width="23" height="11.7" fill="#fec62e"/>
<rect x="432.6" y="222.11" width="23" height="7.49" fill="#fe9600"/>
<rect x="455.59" y="220" width="23" height="11.7" fill="#fec62e"/>
<rect x="455.59" y="222.11" width="23" height="7.49" fill="#fe9600"/>
<rect x="478.59" y="220.5" width="23" height="10.2" fill="#fec62e"/>
<rect x="478.59" y="222.34" width="23" height="6.53" fill="#fe9600"/>
<rect x="501.58" y="221.5" width="23" height="9.2" fill="#fec62e"/>
<rect x="501.58" y="223.16" width="23" height="5.89" fill="#fe9600"/>
<rect x="524.58" y="220.2" width="23" height="11.5" fill="#fec62e"/>
<rect x="524.58" y="222.27" width="23" height="7.36" fill="#fe9600"/>
<rect x="547.57" y="221.4" width="57.49" height="9.1" fill="#fec62e"/>
<rect x="547.57" y="223.04" width="57.49" height="5.82" fill="#fe9600"/>
<rect x="605.06" y="216" width="77.64" height="18.6" fill="#fec62e"/>
<rect x="605.06" y="219.35" width="77.64" height="11.9" fill="#fe9600"/>
<path d="M409.6 224.2H432.6V227H455.59V225.6H478.59V223.1H501.58V226H524.58V226.4H547.57V225.7H605.06V224H682.1" fill="none" stroke="#ff2a2a" stroke-width="1.2"/>
<path d="M409.6 223.4H432.6V226.2H455.59V224.8H478.59V222.3H501.58V225.2H524.58V225.6H547.57V224.9H605.06V223.2H682.1" fill="none" stroke="#3ee23e" stroke-width="1.2"/>
<path d="M409.6 223.6H432.6V226.4H455.59V225H478.59V222.5H501.58V225.4H524.58V225.8H547.57V225.1H605.06V223.4H682.1" fill="none" stroke="#5ff2f2" stroke-width="1.2"/>
<path d="M409.6 224.2H432.6V227H455.59V225.6H478.59V223.1H501.58V226H524.58V226.4H547.57V225.7H605.06V224H682.1" fill="none" stroke="#2a3cff" stroke-width="1.2"/>
<path d="M409.6 228.2H432.6V229.7H455.59V230.3H478.59V227.6H501.58V227H524.58V228.1H547.57V225H605.06V208.8H682.1" fill="none" stroke="#ff1a1a" stroke-width="1.35" stroke-dasharray="2,1.6"/>
</g>
<line x1="409.6" y1="297.12" x2="416.1" y2="297.12" stroke="#000" stroke-width="0.9" />
<line x1="682.1" y1="297.12" x2="675.6" y2="297.12" stroke="#000" stroke-width="0.9" />
<line x1="409.6" y1="281.25" x2="416.1" y2="281.25" stroke="#000" stroke-width="0.9" />
<line x1="682.1" y1="281.25" x2="675.6" y2="281.25" stroke="#000" stroke-width="0.9" />
<line x1="409.6" y1="265.38" x2="416.1" y2="265.38" stroke="#000" stroke-width="0.9" />
<line x1="682.1" y1="265.38" x2="675.6" y2="265.38" stroke="#000" stroke-width="0.9" />
<line x1="409.6" y1="300.3" x2="413" y2="300.3" stroke="#000" stroke-width="0.9" />
<line x1="682.1" y1="300.3" x2="678.7" y2="300.3" stroke="#000" stroke-width="0.9" />
<line x1="409.6" y1="297.12" x2="413" y2="297.12" stroke="#000" stroke-width="0.9" />
<line x1="682.1" y1="297.12" x2="678.7" y2="297.12" stroke="#000" stroke-width="0.9" />
<line x1="409.6" y1="293.95" x2="413" y2="293.95" stroke="#000" stroke-width="0.9" />
<line x1="682.1" y1="293.95" x2="678.7" y2="293.95" stroke="#000" stroke-width="0.9" />
<line x1="409.6" y1="290.77" x2="413" y2="290.77" stroke="#000" stroke-width="0.9" />
<line x1="682.1" y1="290.77" x2="678.7" y2="290.77" stroke="#000" stroke-width="0.9" />
<line x1="409.6" y1="287.6" x2="413" y2="287.6" stroke="#000" stroke-width="0.9" />
<line x1="682.1" y1="287.6" x2="678.7" y2="287.6" stroke="#000" stroke-width="0.9" />
<line x1="409.6" y1="284.43" x2="413" y2="284.43" stroke="#000" stroke-width="0.9" />
<line x1="682.1" y1="284.43" x2="678.7" y2="284.43" stroke="#000" stroke-width="0.9" />
<line x1="409.6" y1="281.25" x2="413" y2="281.25" stroke="#000" stroke-width="0.9" />
<line x1="682.1" y1="281.25" x2="678.7" y2="281.25" stroke="#000" stroke-width="0.9" />
<line x1="409.6" y1="278.07" x2="413" y2="278.07" stroke="#000" stroke-width="0.9" />
<line x1="682.1" y1="278.07" x2="678.7" y2="278.07" stroke="#000" stroke-width="0.9" />
<line x1="409.6" y1="274.9" x2="413" y2="274.9" stroke="#000" stroke-width="0.9" />
<line x1="682.1" y1="274.9" x2="678.7" y2="274.9" stroke="#000" stroke-width="0.9" />
<line x1="409.6" y1="271.73" x2="413" y2="271.73" stroke="#000" stroke-width="0.9" />
<line x1="682.1" y1="271.73" x2="678.7" y2="271.73" stroke="#000" stroke-width="0.9" />
<line x1="409.6" y1="268.55" x2="413" y2="268.55" stroke="#000" stroke-width="0.9" />
<line x1="682.1" y1="268.55" x2="678.7" y2="268.55" stroke="#000" stroke-width="0.9" />
<line x1="409.6" y1="265.38" x2="413" y2="265.38" stroke="#000" stroke-width="0.9" />
<line x1="682.1" y1="265.38" x2="678.7" y2="265.38" stroke="#000" stroke-width="0.9" />
<line x1="409.6" y1="262.2" x2="413" y2="262.2" stroke="#000" stroke-width="0.9" />
<line x1="682.1" y1="262.2" x2="678.7" y2="262.2" stroke="#000" stroke-width="0.9" />
<line x1="409.6" y1="300.3" x2="409.6" y2="298.1" stroke="#000" stroke-width="0.9" />
<line x1="409.6" y1="262.2" x2="409.6" y2="264.4" stroke="#000" stroke-width="0.9" />
<line x1="432.6" y1="300.3" x2="432.6" y2="298.1" stroke="#000" stroke-width="0.9" />
<line x1="432.6" y1="262.2" x2="432.6" y2="264.4" stroke="#000" stroke-width="0.9" />
<line x1="455.59" y1="300.3" x2="455.59" y2="298.1" stroke="#000" stroke-width="0.9" />
<line x1="455.59" y1="262.2" x2="455.59" y2="264.4" stroke="#000" stroke-width="0.9" />
<line x1="478.59" y1="300.3" x2="478.59" y2="298.1" stroke="#000" stroke-width="0.9" />
<line x1="478.59" y1="262.2" x2="478.59" y2="264.4" stroke="#000" stroke-width="0.9" />
<line x1="501.58" y1="300.3" x2="501.58" y2="298.1" stroke="#000" stroke-width="0.9" />
<line x1="501.58" y1="262.2" x2="501.58" y2="264.4" stroke="#000" stroke-width="0.9" />
<line x1="524.58" y1="300.3" x2="524.58" y2="298.1" stroke="#000" stroke-width="0.9" />
<line x1="524.58" y1="262.2" x2="524.58" y2="264.4" stroke="#000" stroke-width="0.9" />
<line x1="547.57" y1="300.3" x2="547.57" y2="298.1" stroke="#000" stroke-width="0.9" />
<line x1="547.57" y1="262.2" x2="547.57" y2="264.4" stroke="#000" stroke-width="0.9" />
<line x1="570.57" y1="300.3" x2="570.57" y2="298.1" stroke="#000" stroke-width="0.9" />
<line x1="570.57" y1="262.2" x2="570.57" y2="264.4" stroke="#000" stroke-width="0.9" />
<line x1="593.57" y1="300.3" x2="593.57" y2="298.1" stroke="#000" stroke-width="0.9" />
<line x1="593.57" y1="262.2" x2="593.57" y2="264.4" stroke="#000" stroke-width="0.9" />
<line x1="616.56" y1="300.3" x2="616.56" y2="298.1" stroke="#000" stroke-width="0.9" />
<line x1="616.56" y1="262.2" x2="616.56" y2="264.4" stroke="#000" stroke-width="0.9" />
<line x1="639.56" y1="300.3" x2="639.56" y2="298.1" stroke="#000" stroke-width="0.9" />
<line x1="639.56" y1="262.2" x2="639.56" y2="264.4" stroke="#000" stroke-width="0.9" />
<line x1="662.55" y1="300.3" x2="662.55" y2="298.1" stroke="#000" stroke-width="0.9" />
<line x1="662.55" y1="262.2" x2="662.55" y2="264.4" stroke="#000" stroke-width="0.9" />
<line x1="415.35" y1="300.3" x2="415.35" y2="299.1" stroke="#000" stroke-width="0.9" />
<line x1="415.35" y1="262.2" x2="415.35" y2="263.4" stroke="#000" stroke-width="0.9" />
<line x1="421.1" y1="300.3" x2="421.1" y2="299.1" stroke="#000" stroke-width="0.9" />
<line x1="421.1" y1="262.2" x2="421.1" y2="263.4" stroke="#000" stroke-width="0.9" />
<line x1="426.85" y1="300.3" x2="426.85" y2="299.1" stroke="#000" stroke-width="0.9" />
<line x1="426.85" y1="262.2" x2="426.85" y2="263.4" stroke="#000" stroke-width="0.9" />
<line x1="432.6" y1="300.3" x2="432.6" y2="299.1" stroke="#000" stroke-width="0.9" />
<line x1="432.6" y1="262.2" x2="432.6" y2="263.4" stroke="#000" stroke-width="0.9" />
<line x1="438.34" y1="300.3" x2="438.34" y2="299.1" stroke="#000" stroke-width="0.9" />
<line x1="438.34" y1="262.2" x2="438.34" y2="263.4" stroke="#000" stroke-width="0.9" />
<line x1="444.09" y1="300.3" x2="444.09" y2="299.1" stroke="#000" stroke-width="0.9" />
<line x1="444.09" y1="262.2" x2="444.09" y2="263.4" stroke="#000" stroke-width="0.9" />
<line x1="449.84" y1="300.3" x2="449.84" y2="299.1" stroke="#000" stroke-width="0.9" />
<line x1="449.84" y1="262.2" x2="449.84" y2="263.4" stroke="#000" stroke-width="0.9" />
<line x1="455.59" y1="300.3" x2="455.59" y2="299.1" stroke="#000" stroke-width="0.9" />
<line x1="455.59" y1="262.2" x2="455.59" y2="263.4" stroke="#000" stroke-width="0.9" />
<line x1="461.34" y1="300.3" x2="461.34" y2="299.1" stroke="#000" stroke-width="0.9" />
<line x1="461.34" y1="262.2" x2="461.34" y2="263.4" stroke="#000" stroke-width="0.9" />
<line x1="467.09" y1="300.3" x2="467.09" y2="299.1" stroke="#000" stroke-width="0.9" />
<line x1="467.09" y1="262.2" x2="467.09" y2="263.4" stroke="#000" stroke-width="0.9" />
<line x1="472.84" y1="300.3" x2="472.84" y2="299.1" stroke="#000" stroke-width="0.9" />
<line x1="472.84" y1="262.2" x2="472.84" y2="263.4" stroke="#000" stroke-width="0.9" />
<line x1="478.59" y1="300.3" x2="478.59" y2="299.1" stroke="#000" stroke-width="0.9" />
<line x1="478.59" y1="262.2" x2="478.59" y2="263.4" stroke="#000" stroke-width="0.9" />
<line x1="484.34" y1="300.3" x2="484.34" y2="299.1" stroke="#000" stroke-width="0.9" />
<line x1="484.34" y1="262.2" x2="484.34" y2="263.4" stroke="#000" stroke-width="0.9" />
<line x1="490.09" y1="300.3" x2="490.09" y2="299.1" stroke="#000" stroke-width="0.9" />
<line x1="490.09" y1="262.2" x2="490.09" y2="263.4" stroke="#000" stroke-width="0.9" />
<line x1="495.83" y1="300.3" x2="495.83" y2="299.1" stroke="#000" stroke-width="0.9" />
<line x1="495.83" y1="262.2" x2="495.83" y2="263.4" stroke="#000" stroke-width="0.9" />
<line x1="501.58" y1="300.3" x2="501.58" y2="299.1" stroke="#000" stroke-width="0.9" />
<line x1="501.58" y1="262.2" x2="501.58" y2="263.4" stroke="#000" stroke-width="0.9" />
<line x1="507.33" y1="300.3" x2="507.33" y2="299.1" stroke="#000" stroke-width="0.9" />
<line x1="507.33" y1="262.2" x2="507.33" y2="263.4" stroke="#000" stroke-width="0.9" />
<line x1="513.08" y1="300.3" x2="513.08" y2="299.1" stroke="#000" stroke-width="0.9" />
<line x1="513.08" y1="262.2" x2="513.08" y2="263.4" stroke="#000" stroke-width="0.9" />
<line x1="518.83" y1="300.3" x2="518.83" y2="299.1" stroke="#000" stroke-width="0.9" />
<line x1="518.83" y1="262.2" x2="518.83" y2="263.4" stroke="#000" stroke-width="0.9" />
<line x1="524.58" y1="300.3" x2="524.58" y2="299.1" stroke="#000" stroke-width="0.9" />
<line x1="524.58" y1="262.2" x2="524.58" y2="263.4" stroke="#000" stroke-width="0.9" />
<line x1="530.33" y1="300.3" x2="530.33" y2="299.1" stroke="#000" stroke-width="0.9" />
<line x1="530.33" y1="262.2" x2="530.33" y2="263.4" stroke="#000" stroke-width="0.9" />
<line x1="536.08" y1="300.3" x2="536.08" y2="299.1" stroke="#000" stroke-width="0.9" />
<line x1="536.08" y1="262.2" x2="536.08" y2="263.4" stroke="#000" stroke-width="0.9" />
<line x1="541.83" y1="300.3" x2="541.83" y2="299.1" stroke="#000" stroke-width="0.9" />
<line x1="541.83" y1="262.2" x2="541.83" y2="263.4" stroke="#000" stroke-width="0.9" />
<line x1="547.57" y1="300.3" x2="547.57" y2="299.1" stroke="#000" stroke-width="0.9" />
<line x1="547.57" y1="262.2" x2="547.57" y2="263.4" stroke="#000" stroke-width="0.9" />
<line x1="553.32" y1="300.3" x2="553.32" y2="299.1" stroke="#000" stroke-width="0.9" />
<line x1="553.32" y1="262.2" x2="553.32" y2="263.4" stroke="#000" stroke-width="0.9" />
<line x1="559.07" y1="300.3" x2="559.07" y2="299.1" stroke="#000" stroke-width="0.9" />
<line x1="559.07" y1="262.2" x2="559.07" y2="263.4" stroke="#000" stroke-width="0.9" />
<line x1="564.82" y1="300.3" x2="564.82" y2="299.1" stroke="#000" stroke-width="0.9" />
<line x1="564.82" y1="262.2" x2="564.82" y2="263.4" stroke="#000" stroke-width="0.9" />
<line x1="570.57" y1="300.3" x2="570.57" y2="299.1" stroke="#000" stroke-width="0.9" />
<line x1="570.57" y1="262.2" x2="570.57" y2="263.4" stroke="#000" stroke-width="0.9" />
<line x1="576.32" y1="300.3" x2="576.32" y2="299.1" stroke="#000" stroke-width="0.9" />
<line x1="576.32" y1="262.2" x2="576.32" y2="263.4" stroke="#000" stroke-width="0.9" />
<line x1="582.07" y1="300.3" x2="582.07" y2="299.1" stroke="#000" stroke-width="0.9" />
<line x1="582.07" y1="262.2" x2="582.07" y2="263.4" stroke="#000" stroke-width="0.9" />
<line x1="587.82" y1="300.3" x2="587.82" y2="299.1" stroke="#000" stroke-width="0.9" />
<line x1="587.82" y1="262.2" x2="587.82" y2="263.4" stroke="#000" stroke-width="0.9" />
<line x1="593.57" y1="300.3" x2="593.57" y2="299.1" stroke="#000" stroke-width="0.9" />
<line x1="593.57" y1="262.2" x2="593.57" y2="263.4" stroke="#000" stroke-width="0.9" />
<line x1="599.32" y1="300.3" x2="599.32" y2="299.1" stroke="#000" stroke-width="0.9" />
<line x1="599.32" y1="262.2" x2="599.32" y2="263.4" stroke="#000" stroke-width="0.9" />
<line x1="605.06" y1="300.3" x2="605.06" y2="299.1" stroke="#000" stroke-width="0.9" />
<line x1="605.06" y1="262.2" x2="605.06" y2="263.4" stroke="#000" stroke-width="0.9" />
<line x1="610.81" y1="300.3" x2="610.81" y2="299.1" stroke="#000" stroke-width="0.9" />
<line x1="610.81" y1="262.2" x2="610.81" y2="263.4" stroke="#000" stroke-width="0.9" />
<line x1="616.56" y1="300.3" x2="616.56" y2="299.1" stroke="#000" stroke-width="0.9" />
<line x1="616.56" y1="262.2" x2="616.56" y2="263.4" stroke="#000" stroke-width="0.9" />
<line x1="622.31" y1="300.3" x2="622.31" y2="299.1" stroke="#000" stroke-width="0.9" />
<line x1="622.31" y1="262.2" x2="622.31" y2="263.4" stroke="#000" stroke-width="0.9" />
<line x1="628.06" y1="300.3" x2="628.06" y2="299.1" stroke="#000" stroke-width="0.9" />
<line x1="628.06" y1="262.2" x2="628.06" y2="263.4" stroke="#000" stroke-width="0.9" />
<line x1="633.81" y1="300.3" x2="633.81" y2="299.1" stroke="#000" stroke-width="0.9" />
<line x1="633.81" y1="262.2" x2="633.81" y2="263.4" stroke="#000" stroke-width="0.9" />
<line x1="639.56" y1="300.3" x2="639.56" y2="299.1" stroke="#000" stroke-width="0.9" />
<line x1="639.56" y1="262.2" x2="639.56" y2="263.4" stroke="#000" stroke-width="0.9" />
<line x1="645.31" y1="300.3" x2="645.31" y2="299.1" stroke="#000" stroke-width="0.9" />
<line x1="645.31" y1="262.2" x2="645.31" y2="263.4" stroke="#000" stroke-width="0.9" />
<line x1="651.06" y1="300.3" x2="651.06" y2="299.1" stroke="#000" stroke-width="0.9" />
<line x1="651.06" y1="262.2" x2="651.06" y2="263.4" stroke="#000" stroke-width="0.9" />
<line x1="656.8" y1="300.3" x2="656.8" y2="299.1" stroke="#000" stroke-width="0.9" />
<line x1="656.8" y1="262.2" x2="656.8" y2="263.4" stroke="#000" stroke-width="0.9" />
<line x1="662.55" y1="300.3" x2="662.55" y2="299.1" stroke="#000" stroke-width="0.9" />
<line x1="662.55" y1="262.2" x2="662.55" y2="263.4" stroke="#000" stroke-width="0.9" />
<line x1="668.3" y1="300.3" x2="668.3" y2="299.1" stroke="#000" stroke-width="0.9" />
<line x1="668.3" y1="262.2" x2="668.3" y2="263.4" stroke="#000" stroke-width="0.9" />
<line x1="674.05" y1="300.3" x2="674.05" y2="299.1" stroke="#000" stroke-width="0.9" />
<line x1="674.05" y1="262.2" x2="674.05" y2="263.4" stroke="#000" stroke-width="0.9" />
<line x1="679.8" y1="300.3" x2="679.8" y2="299.1" stroke="#000" stroke-width="0.9" />
<line x1="679.8" y1="262.2" x2="679.8" y2="263.4" stroke="#000" stroke-width="0.9" />
<rect x="409.6" y="262.2" width="272.5" height="38.1" fill="none" stroke="#000" stroke-width="1.1"/>
<text transform="translate(407.2,269.48)" font-size="10.5" text-anchor="end" font-weight="normal" font-style="normal" font-family='"Liberation Sans", sans-serif' fill="#000">1.5</text>
<text transform="translate(407.2,286.25)" font-size="10.5" text-anchor="end" font-weight="normal" font-style="normal" font-family='"Liberation Sans", sans-serif' fill="#000">1</text>
<text transform="translate(407.2,301.23)" font-size="10.5" text-anchor="end" font-weight="normal" font-style="normal" font-family='"Liberation Sans", sans-serif' fill="#000">0.5</text>
<g clip-path="url(#c355b)">
<rect x="409" y="277.4" width="23.6" height="9.2" fill="#fec62e"/>
<rect x="409" y="278.96" width="23.6" height="6.07" fill="#fe9600"/>
<rect x="432.6" y="275.8" width="23" height="6.7" fill="#fec62e"/>
<rect x="432.6" y="276.94" width="23" height="4.42" fill="#fe9600"/>
<rect x="455.59" y="276.4" width="23" height="5.1" fill="#fec62e"/>
<rect x="455.59" y="277.27" width="23" height="3.37" fill="#fe9600"/>
<rect x="478.59" y="279.5" width="23" height="7.1" fill="#fec62e"/>
<rect x="478.59" y="280.71" width="23" height="4.69" fill="#fe9600"/>
<rect x="501.58" y="276.4" width="23" height="7.1" fill="#fec62e"/>
<rect x="501.58" y="277.61" width="23" height="4.69" fill="#fe9600"/>
<rect x="524.58" y="276" width="23" height="9.6" fill="#fec62e"/>
<rect x="524.58" y="277.63" width="23" height="6.34" fill="#fe9600"/>
<rect x="547.57" y="276.8" width="57.49" height="7.7" fill="#fec62e"/>
<rect x="547.57" y="278.11" width="57.49" height="5.08" fill="#fe9600"/>
<rect x="605.06" y="274.9" width="77.64" height="14.9" fill="#fec62e"/>
<rect x="605.06" y="277.43" width="77.64" height="9.83" fill="#fe9600"/>
<path d="M409.6 280.9H432.6V281.1H455.59V281.1H478.59V280.5H501.58V280.5H524.58V281.4H547.57V281.4H605.06V281.4H682.1" fill="none" stroke="#ff2a2a" stroke-width="1.2"/>
<path d="M409.6 280.1H432.6V280.3H455.59V280.3H478.59V279.7H501.58V279.7H524.58V280.6H547.57V280.6H605.06V280.6H682.1" fill="none" stroke="#3ee23e" stroke-width="1.2"/>
<path d="M409.6 280.3H432.6V280.5H455.59V280.5H478.59V279.9H501.58V279.9H524.58V280.8H547.57V280.8H605.06V280.8H682.1" fill="none" stroke="#5ff2f2" stroke-width="1.2"/>
<path d="M409.6 280.9H432.6V281.1H455.59V281.1H478.59V280.5H501.58V280.5H524.58V281.4H547.57V281.4H605.06V281.4H682.1" fill="none" stroke="#2a3cff" stroke-width="1.2"/>
<path d="M409.6 284.2H432.6V284.2H455.59V285.2H478.59V284.6H501.58V281.5H524.58V282.8H547.57V279.7H605.06V268.8H682.1" fill="none" stroke="#ff1a1a" stroke-width="1.35" stroke-dasharray="2,1.6"/>
</g>
<text transform="translate(409.6,311.9)" font-size="10.5" text-anchor="middle" font-weight="normal" font-style="normal" font-family='"Liberation Sans", sans-serif' fill="#000">0</text>
<text transform="translate(432.6,311.9)" font-size="10.5" text-anchor="middle" font-weight="normal" font-style="normal" font-family='"Liberation Sans", sans-serif' fill="#000">0.2</text>
<text transform="translate(455.59,311.9)" font-size="10.5" text-anchor="middle" font-weight="normal" font-style="normal" font-family='"Liberation Sans", sans-serif' fill="#000">0.4</text>
<text transform="translate(478.59,311.9)" font-size="10.5" text-anchor="middle" font-weight="normal" font-style="normal" font-family='"Liberation Sans", sans-serif' fill="#000">0.6</text>
<text transform="translate(501.58,311.9)" font-size="10.5" text-anchor="middle" font-weight="normal" font-style="normal" font-family='"Liberation Sans", sans-serif' fill="#000">0.8</text>
<text transform="translate(524.58,311.9)" font-size="10.5" text-anchor="middle" font-weight="normal" font-style="normal" font-family='"Liberation Sans", sans-serif' fill="#000">1</text>
<text transform="translate(547.57,311.9)" font-size="10.5" text-anchor="middle" font-weight="normal" font-style="normal" font-family='"Liberation Sans", sans-serif' fill="#000">1.2</text>
<text transform="translate(570.57,311.9)" font-size="10.5" text-anchor="middle" font-weight="normal" font-style="normal" font-family='"Liberation Sans", sans-serif' fill="#000">1.4</text>
<text transform="translate(593.57,311.9)" font-size="10.5" text-anchor="middle" font-weight="normal" font-style="normal" font-family='"Liberation Sans", sans-serif' fill="#000">1.6</text>
<text transform="translate(616.56,311.9)" font-size="10.5" text-anchor="middle" font-weight="normal" font-style="normal" font-family='"Liberation Sans", sans-serif' fill="#000">1.8</text>
<text transform="translate(639.56,311.9)" font-size="10.5" text-anchor="middle" font-weight="normal" font-style="normal" font-family='"Liberation Sans", sans-serif' fill="#000">2</text>
<text transform="translate(662.55,311.9)" font-size="10.5" text-anchor="middle" font-weight="normal" font-style="normal" font-family='"Liberation Sans", sans-serif' fill="#000">2.2</text>
<text transform="translate(684,326) scale(1.03,1)" font-size="11" text-anchor="end" font-family='"Liberation Sans", sans-serif'>|&#951;(&#947;)|</text>
<text transform="translate(370,52) rotate(-90)" font-size="10" text-anchor="middle" font-family='"Liberation Sans", sans-serif'>1</text><line x1="372.2" y1="48.2" x2="372.2" y2="55.8" stroke="#000" stroke-width="0.9"/><text transform="translate(379.9,52) rotate(-90)" font-size="10" text-anchor="middle" font-family='"Liberation Sans", sans-serif'>&#963;</text><circle cx="372.3" cy="44.1" r="0.65" fill="#000"/><text transform="translate(369.9,23.9) rotate(-90)" font-size="10.3" text-anchor="middle" font-family='"Liberation Sans", sans-serif'>d&#963;</text><line x1="372.3" y1="7" x2="372.3" y2="39.9" stroke="#000" stroke-width="1.15"/><text transform="translate(381.7,40.2) rotate(-90) scale(1.06,1)" font-size="10.3" text-anchor="start" font-family='"Liberation Sans", sans-serif'>d |&#951;(&#947;)|</text>
<text transform="translate(378.3,244) rotate(-90)" font-size="11.0" text-anchor="start" font-family='"Liberation Sans", sans-serif'>Pred./Data</text>
<text transform="translate(381,307.3) rotate(-90)" font-size="11.0" text-anchor="start" font-family='"Liberation Sans", sans-serif'>Other/Nom.</text>
<text transform="translate(420,29.3)" font-size="9.8" text-anchor="start" font-weight="bold" font-style="italic" font-family='"Liberation Sans", sans-serif' fill="#000">ATLAS</text>
<g transform="translate(420.2,41.6)">
<path d="M0.7 -4.6 L2.3 0.2 L3.5 -8.3 L8.9 -8.3" fill="none" stroke="#000" stroke-width="0.9" stroke-linejoin="round"/><path d="M0.7 -4.6 L2.3 0.2" fill="none" stroke="#000" stroke-width="1.5"/>
</g>
<text transform="translate(424.4,41.6) scale(1.04,1)" font-size="9.2" text-anchor="start" font-weight="normal" font-style="normal" font-family='"Liberation Sans", sans-serif' fill="#000">s = 13 TeV, 36.1 fb<tspan dy="-3.3" font-size="6">-1</tspan></text>
<text transform="translate(420.2,53.6) scale(1.04,1)" font-size="9.2" text-anchor="start" font-weight="normal" font-style="normal" font-family='"Liberation Sans", sans-serif' fill="#000">Normalized cross-section</text>
<text transform="translate(420.2,65.4) scale(1.04,1)" font-size="9.2" text-anchor="start" font-weight="normal" font-style="normal" font-family='"Liberation Sans", sans-serif' fill="#000">Single lepton</text>
<circle cx="540.2" cy="24.9" r="2.1" fill="#000"/>
<line x1="531.4" y1="34.9" x2="549.3" y2="34.9" stroke="#ff2a2a" stroke-width="1.7" />
<line x1="531.4" y1="44.9" x2="549.3" y2="44.9" stroke="#2a3cff" stroke-width="1.7" />
<line x1="531.4" y1="54.9" x2="549.3" y2="54.9" stroke="#3ee23e" stroke-width="1.7" />
<line x1="531.4" y1="64.9" x2="549.3" y2="64.9" stroke="#5ff2f2" stroke-width="1.7" />
<line x1="530.9" y1="74.9" x2="548.7" y2="74.9" stroke="#ff2a2a" stroke-width="1.2" stroke-dasharray="2,1.6"/>
<rect x="530.9" y="81.9" width="17.8" height="6" fill="#fe9600"/>
<rect x="530.9" y="91.9" width="17.8" height="6" fill="#fec62e"/>
<text transform="translate(553,27.3) scale(0.94,1)" font-size="8.5" text-anchor="start" font-weight="normal" font-style="normal" font-family='"Liberation Sans", sans-serif' fill="#000">Unfolded data</text>
<text transform="translate(553,37.3) scale(0.94,1)" font-size="8.5" text-anchor="start" font-weight="normal" font-style="normal" font-family='"Liberation Sans", sans-serif' fill="#000">MG5_aMC + Pythia8</text>
<text transform="translate(553,47.3) scale(0.94,1)" font-size="8.5" text-anchor="start" font-weight="normal" font-style="normal" font-family='"Liberation Sans", sans-serif' fill="#000">MG5_aMC + Herwig7</text>
<text transform="translate(553,57.3) scale(0.94,1)" font-size="8.5" text-anchor="start" font-weight="normal" font-style="normal" font-family='"Liberation Sans", sans-serif' fill="#000">MG5_aMC + Pythia8 (A14 Up)</text>
<text transform="translate(553,67.3) scale(0.94,1)" font-size="8.5" text-anchor="start" font-weight="normal" font-style="normal" font-family='"Liberation Sans", sans-serif' fill="#000">MG5_aMC + Pythia8 (A14 Down)</text>
<text transform="translate(553,77.3) scale(0.94,1)" font-size="8.5" text-anchor="start" font-weight="normal" font-style="normal" font-family='"Liberation Sans", sans-serif' fill="#000">Powheg + Pythia8 tt</text>
<text transform="translate(553,87.3) scale(0.94,1)" font-size="8.5" text-anchor="start" font-weight="normal" font-style="normal" font-family='"Liberation Sans", sans-serif' fill="#000">Stat.</text>
<text transform="translate(553,97.3) scale(0.94,1)" font-size="8.5" text-anchor="start" font-weight="normal" font-style="normal" font-family='"Liberation Sans", sans-serif' fill="#000">Stat</text>
<line x1="621.2" y1="70.4" x2="624.1" y2="70.4" stroke="#000" stroke-width="0.9" />
<circle cx="572" cy="94.6" r="2.55" fill="none" stroke="#222" stroke-width="0.55"/>
<line x1="569.5" y1="94.6" x2="574.5" y2="94.6" stroke="#222" stroke-width="0.5" />
<line x1="572" y1="92.1" x2="572" y2="97.1" stroke="#222" stroke-width="0.5" />
<text transform="translate(577.2,97.3) scale(0.94,1)" font-size="8.5" text-anchor="start" font-weight="normal" font-style="normal" font-family='"Liberation Sans", sans-serif' fill="#000">Syst.</text>
<text transform="translate(527.5,354.2)" font-size="16" text-anchor="middle" font-weight="bold" font-style="normal" font-family='"Liberation Serif", serif' fill="#000">(b)</text>
<clipPath id="c555m"><rect x="231.1" y="388" width="273.7" height="182.8"/></clipPath>
<clipPath id="c555a"><rect x="231.1" y="580.3" width="273.7" height="46.1"/></clipPath>
<clipPath id="c555b"><rect x="231.1" y="640.2" width="273.7" height="38.1"/></clipPath>
<line x1="231.7" y1="570.8" x2="240.9" y2="570.8" stroke="#000" stroke-width="0.9" />
<line x1="504.2" y1="570.8" x2="495" y2="570.8" stroke="#000" stroke-width="0.9" />
<line x1="231.7" y1="550.49" x2="240.9" y2="550.49" stroke="#000" stroke-width="0.9" />
<line x1="504.2" y1="550.49" x2="495" y2="550.49" stroke="#000" stroke-width="0.9" />
<line x1="231.7" y1="530.18" x2="240.9" y2="530.18" stroke="#000" stroke-width="0.9" />
<line x1="504.2" y1="530.18" x2="495" y2="530.18" stroke="#000" stroke-width="0.9" />
<line x1="231.7" y1="509.87" x2="240.9" y2="509.87" stroke="#000" stroke-width="0.9" />
<line x1="504.2" y1="509.87" x2="495" y2="509.87" stroke="#000" stroke-width="0.9" />
<line x1="231.7" y1="489.56" x2="240.9" y2="489.56" stroke="#000" stroke-width="0.9" />
<line x1="504.2" y1="489.56" x2="495" y2="489.56" stroke="#000" stroke-width="0.9" />
<line x1="231.7" y1="469.24" x2="240.9" y2="469.24" stroke="#000" stroke-width="0.9" />
<line x1="504.2" y1="469.24" x2="495" y2="469.24" stroke="#000" stroke-width="0.9" />
<line x1="231.7" y1="448.93" x2="240.9" y2="448.93" stroke="#000" stroke-width="0.9" />
<line x1="504.2" y1="448.93" x2="495" y2="448.93" stroke="#000" stroke-width="0.9" />
<line x1="231.7" y1="428.62" x2="240.9" y2="428.62" stroke="#000" stroke-width="0.9" />
<line x1="504.2" y1="428.62" x2="495" y2="428.62" stroke="#000" stroke-width="0.9" />
<line x1="231.7" y1="408.31" x2="240.9" y2="408.31" stroke="#000" stroke-width="0.9" />
<line x1="504.2" y1="408.31" x2="495" y2="408.31" stroke="#000" stroke-width="0.9" />
<line x1="231.7" y1="388" x2="240.9" y2="388" stroke="#000" stroke-width="0.9" />
<line x1="504.2" y1="388" x2="495" y2="388" stroke="#000" stroke-width="0.9" />
<line x1="231.7" y1="570.8" x2="236.5" y2="570.8" stroke="#000" stroke-width="0.9" />
<line x1="504.2" y1="570.8" x2="499.4" y2="570.8" stroke="#000" stroke-width="0.9" />
<line x1="231.7" y1="566.74" x2="236.5" y2="566.74" stroke="#000" stroke-width="0.9" />
<line x1="504.2" y1="566.74" x2="499.4" y2="566.74" stroke="#000" stroke-width="0.9" />
<line x1="231.7" y1="562.68" x2="236.5" y2="562.68" stroke="#000" stroke-width="0.9" />
<line x1="504.2" y1="562.68" x2="499.4" y2="562.68" stroke="#000" stroke-width="0.9" />
<line x1="231.7" y1="558.61" x2="236.5" y2="558.61" stroke="#000" stroke-width="0.9" />
<line x1="504.2" y1="558.61" x2="499.4" y2="558.61" stroke="#000" stroke-width="0.9" />
<line x1="231.7" y1="554.55" x2="236.5" y2="554.55" stroke="#000" stroke-width="0.9" />
<line x1="504.2" y1="554.55" x2="499.4" y2="554.55" stroke="#000" stroke-width="0.9" />
<line x1="231.7" y1="550.49" x2="236.5" y2="550.49" stroke="#000" stroke-width="0.9" />
<line x1="504.2" y1="550.49" x2="499.4" y2="550.49" stroke="#000" stroke-width="0.9" />
<line x1="231.7" y1="546.43" x2="236.5" y2="546.43" stroke="#000" stroke-width="0.9" />
<line x1="504.2" y1="546.43" x2="499.4" y2="546.43" stroke="#000" stroke-width="0.9" />
<line x1="231.7" y1="542.36" x2="236.5" y2="542.36" stroke="#000" stroke-width="0.9" />
<line x1="504.2" y1="542.36" x2="499.4" y2="542.36" stroke="#000" stroke-width="0.9" />
<line x1="231.7" y1="538.3" x2="236.5" y2="538.3" stroke="#000" stroke-width="0.9" />
<line x1="504.2" y1="538.3" x2="499.4" y2="538.3" stroke="#000" stroke-width="0.9" />
<line x1="231.7" y1="534.24" x2="236.5" y2="534.24" stroke="#000" stroke-width="0.9" />
<line x1="504.2" y1="534.24" x2="499.4" y2="534.24" stroke="#000" stroke-width="0.9" />
<line x1="231.7" y1="530.18" x2="236.5" y2="530.18" stroke="#000" stroke-width="0.9" />
<line x1="504.2" y1="530.18" x2="499.4" y2="530.18" stroke="#000" stroke-width="0.9" />
<line x1="231.7" y1="526.12" x2="236.5" y2="526.12" stroke="#000" stroke-width="0.9" />
<line x1="504.2" y1="526.12" x2="499.4" y2="526.12" stroke="#000" stroke-width="0.9" />
<line x1="231.7" y1="522.05" x2="236.5" y2="522.05" stroke="#000" stroke-width="0.9" />
<line x1="504.2" y1="522.05" x2="499.4" y2="522.05" stroke="#000" stroke-width="0.9" />
<line x1="231.7" y1="517.99" x2="236.5" y2="517.99" stroke="#000" stroke-width="0.9" />
<line x1="504.2" y1="517.99" x2="499.4" y2="517.99" stroke="#000" stroke-width="0.9" />
<line x1="231.7" y1="513.93" x2="236.5" y2="513.93" stroke="#000" stroke-width="0.9" />
<line x1="504.2" y1="513.93" x2="499.4" y2="513.93" stroke="#000" stroke-width="0.9" />
<line x1="231.7" y1="509.87" x2="236.5" y2="509.87" stroke="#000" stroke-width="0.9" />
<line x1="504.2" y1="509.87" x2="499.4" y2="509.87" stroke="#000" stroke-width="0.9" />
<line x1="231.7" y1="505.8" x2="236.5" y2="505.8" stroke="#000" stroke-width="0.9" />
<line x1="504.2" y1="505.8" x2="499.4" y2="505.8" stroke="#000" stroke-width="0.9" />
<line x1="231.7" y1="501.74" x2="236.5" y2="501.74" stroke="#000" stroke-width="0.9" />
<line x1="504.2" y1="501.74" x2="499.4" y2="501.74" stroke="#000" stroke-width="0.9" />
<line x1="231.7" y1="497.68" x2="236.5" y2="497.68" stroke="#000" stroke-width="0.9" />
<line x1="504.2" y1="497.68" x2="499.4" y2="497.68" stroke="#000" stroke-width="0.9" />
<line x1="231.7" y1="493.62" x2="236.5" y2="493.62" stroke="#000" stroke-width="0.9" />
<line x1="504.2" y1="493.62" x2="499.4" y2="493.62" stroke="#000" stroke-width="0.9" />
<line x1="231.7" y1="489.56" x2="236.5" y2="489.56" stroke="#000" stroke-width="0.9" />
<line x1="504.2" y1="489.56" x2="499.4" y2="489.56" stroke="#000" stroke-width="0.9" />
<line x1="231.7" y1="485.49" x2="236.5" y2="485.49" stroke="#000" stroke-width="0.9" />
<line x1="504.2" y1="485.49" x2="499.4" y2="485.49" stroke="#000" stroke-width="0.9" />
<line x1="231.7" y1="481.43" x2="236.5" y2="481.43" stroke="#000" stroke-width="0.9" />
<line x1="504.2" y1="481.43" x2="499.4" y2="481.43" stroke="#000" stroke-width="0.9" />
<line x1="231.7" y1="477.37" x2="236.5" y2="477.37" stroke="#000" stroke-width="0.9" />
<line x1="504.2" y1="477.37" x2="499.4" y2="477.37" stroke="#000" stroke-width="0.9" />
<line x1="231.7" y1="473.31" x2="236.5" y2="473.31" stroke="#000" stroke-width="0.9" />
<line x1="504.2" y1="473.31" x2="499.4" y2="473.31" stroke="#000" stroke-width="0.9" />
<line x1="231.7" y1="469.24" x2="236.5" y2="469.24" stroke="#000" stroke-width="0.9" />
<line x1="504.2" y1="469.24" x2="499.4" y2="469.24" stroke="#000" stroke-width="0.9" />
<line x1="231.7" y1="465.18" x2="236.5" y2="465.18" stroke="#000" stroke-width="0.9" />
<line x1="504.2" y1="465.18" x2="499.4" y2="465.18" stroke="#000" stroke-width="0.9" />
<line x1="231.7" y1="461.12" x2="236.5" y2="461.12" stroke="#000" stroke-width="0.9" />
<line x1="504.2" y1="461.12" x2="499.4" y2="461.12" stroke="#000" stroke-width="0.9" />
<line x1="231.7" y1="457.06" x2="236.5" y2="457.06" stroke="#000" stroke-width="0.9" />
<line x1="504.2" y1="457.06" x2="499.4" y2="457.06" stroke="#000" stroke-width="0.9" />
<line x1="231.7" y1="453" x2="236.5" y2="453" stroke="#000" stroke-width="0.9" />
<line x1="504.2" y1="453" x2="499.4" y2="453" stroke="#000" stroke-width="0.9" />
<line x1="231.7" y1="448.93" x2="236.5" y2="448.93" stroke="#000" stroke-width="0.9" />
<line x1="504.2" y1="448.93" x2="499.4" y2="448.93" stroke="#000" stroke-width="0.9" />
<line x1="231.7" y1="444.87" x2="236.5" y2="444.87" stroke="#000" stroke-width="0.9" />
<line x1="504.2" y1="444.87" x2="499.4" y2="444.87" stroke="#000" stroke-width="0.9" />
<line x1="231.7" y1="440.81" x2="236.5" y2="440.81" stroke="#000" stroke-width="0.9" />
<line x1="504.2" y1="440.81" x2="499.4" y2="440.81" stroke="#000" stroke-width="0.9" />
<line x1="231.7" y1="436.75" x2="236.5" y2="436.75" stroke="#000" stroke-width="0.9" />
<line x1="504.2" y1="436.75" x2="499.4" y2="436.75" stroke="#000" stroke-width="0.9" />
<line x1="231.7" y1="432.68" x2="236.5" y2="432.68" stroke="#000" stroke-width="0.9" />
<line x1="504.2" y1="432.68" x2="499.4" y2="432.68" stroke="#000" stroke-width="0.9" />
<line x1="231.7" y1="428.62" x2="236.5" y2="428.62" stroke="#000" stroke-width="0.9" />
<line x1="504.2" y1="428.62" x2="499.4" y2="428.62" stroke="#000" stroke-width="0.9" />
<line x1="231.7" y1="424.56" x2="236.5" y2="424.56" stroke="#000" stroke-width="0.9" />
<line x1="504.2" y1="424.56" x2="499.4" y2="424.56" stroke="#000" stroke-width="0.9" />
<line x1="231.7" y1="420.5" x2="236.5" y2="420.5" stroke="#000" stroke-width="0.9" />
<line x1="504.2" y1="420.5" x2="499.4" y2="420.5" stroke="#000" stroke-width="0.9" />
<line x1="231.7" y1="416.44" x2="236.5" y2="416.44" stroke="#000" stroke-width="0.9" />
<line x1="504.2" y1="416.44" x2="499.4" y2="416.44" stroke="#000" stroke-width="0.9" />
<line x1="231.7" y1="412.37" x2="236.5" y2="412.37" stroke="#000" stroke-width="0.9" />
<line x1="504.2" y1="412.37" x2="499.4" y2="412.37" stroke="#000" stroke-width="0.9" />
<line x1="231.7" y1="408.31" x2="236.5" y2="408.31" stroke="#000" stroke-width="0.9" />
<line x1="504.2" y1="408.31" x2="499.4" y2="408.31" stroke="#000" stroke-width="0.9" />
<line x1="231.7" y1="404.25" x2="236.5" y2="404.25" stroke="#000" stroke-width="0.9" />
<line x1="504.2" y1="404.25" x2="499.4" y2="404.25" stroke="#000" stroke-width="0.9" />
<line x1="231.7" y1="400.19" x2="236.5" y2="400.19" stroke="#000" stroke-width="0.9" />
<line x1="504.2" y1="400.19" x2="499.4" y2="400.19" stroke="#000" stroke-width="0.9" />
<line x1="231.7" y1="396.12" x2="236.5" y2="396.12" stroke="#000" stroke-width="0.9" />
<line x1="504.2" y1="396.12" x2="499.4" y2="396.12" stroke="#000" stroke-width="0.9" />
<line x1="231.7" y1="392.06" x2="236.5" y2="392.06" stroke="#000" stroke-width="0.9" />
<line x1="504.2" y1="392.06" x2="499.4" y2="392.06" stroke="#000" stroke-width="0.9" />
<line x1="231.7" y1="388" x2="236.5" y2="388" stroke="#000" stroke-width="0.9" />
<line x1="504.2" y1="388" x2="499.4" y2="388" stroke="#000" stroke-width="0.9" />
<line x1="231.7" y1="570.8" x2="231.7" y2="565.8" stroke="#000" stroke-width="0.9" />
<line x1="231.7" y1="388" x2="231.7" y2="393" stroke="#000" stroke-width="0.9" />
<line x1="258.95" y1="570.8" x2="258.95" y2="565.8" stroke="#000" stroke-width="0.9" />
<line x1="258.95" y1="388" x2="258.95" y2="393" stroke="#000" stroke-width="0.9" />
<line x1="286.2" y1="570.8" x2="286.2" y2="565.8" stroke="#000" stroke-width="0.9" />
<line x1="286.2" y1="388" x2="286.2" y2="393" stroke="#000" stroke-width="0.9" />
<line x1="313.45" y1="570.8" x2="313.45" y2="565.8" stroke="#000" stroke-width="0.9" />
<line x1="313.45" y1="388" x2="313.45" y2="393" stroke="#000" stroke-width="0.9" />
<line x1="340.7" y1="570.8" x2="340.7" y2="565.8" stroke="#000" stroke-width="0.9" />
<line x1="340.7" y1="388" x2="340.7" y2="393" stroke="#000" stroke-width="0.9" />
<line x1="367.95" y1="570.8" x2="367.95" y2="565.8" stroke="#000" stroke-width="0.9" />
<line x1="367.95" y1="388" x2="367.95" y2="393" stroke="#000" stroke-width="0.9" />
<line x1="395.2" y1="570.8" x2="395.2" y2="565.8" stroke="#000" stroke-width="0.9" />
<line x1="395.2" y1="388" x2="395.2" y2="393" stroke="#000" stroke-width="0.9" />
<line x1="422.45" y1="570.8" x2="422.45" y2="565.8" stroke="#000" stroke-width="0.9" />
<line x1="422.45" y1="388" x2="422.45" y2="393" stroke="#000" stroke-width="0.9" />
<line x1="449.7" y1="570.8" x2="449.7" y2="565.8" stroke="#000" stroke-width="0.9" />
<line x1="449.7" y1="388" x2="449.7" y2="393" stroke="#000" stroke-width="0.9" />
<line x1="476.95" y1="570.8" x2="476.95" y2="565.8" stroke="#000" stroke-width="0.9" />
<line x1="476.95" y1="388" x2="476.95" y2="393" stroke="#000" stroke-width="0.9" />
<line x1="504.2" y1="570.8" x2="504.2" y2="565.8" stroke="#000" stroke-width="0.9" />
<line x1="504.2" y1="388" x2="504.2" y2="393" stroke="#000" stroke-width="0.9" />
<line x1="237.15" y1="570.8" x2="237.15" y2="568.2" stroke="#000" stroke-width="0.9" />
<line x1="237.15" y1="388" x2="237.15" y2="390.6" stroke="#000" stroke-width="0.9" />
<line x1="242.6" y1="570.8" x2="242.6" y2="568.2" stroke="#000" stroke-width="0.9" />
<line x1="242.6" y1="388" x2="242.6" y2="390.6" stroke="#000" stroke-width="0.9" />
<line x1="248.05" y1="570.8" x2="248.05" y2="568.2" stroke="#000" stroke-width="0.9" />
<line x1="248.05" y1="388" x2="248.05" y2="390.6" stroke="#000" stroke-width="0.9" />
<line x1="253.5" y1="570.8" x2="253.5" y2="568.2" stroke="#000" stroke-width="0.9" />
<line x1="253.5" y1="388" x2="253.5" y2="390.6" stroke="#000" stroke-width="0.9" />
<line x1="258.95" y1="570.8" x2="258.95" y2="568.2" stroke="#000" stroke-width="0.9" />
<line x1="258.95" y1="388" x2="258.95" y2="390.6" stroke="#000" stroke-width="0.9" />
<line x1="264.4" y1="570.8" x2="264.4" y2="568.2" stroke="#000" stroke-width="0.9" />
<line x1="264.4" y1="388" x2="264.4" y2="390.6" stroke="#000" stroke-width="0.9" />
<line x1="269.85" y1="570.8" x2="269.85" y2="568.2" stroke="#000" stroke-width="0.9" />
<line x1="269.85" y1="388" x2="269.85" y2="390.6" stroke="#000" stroke-width="0.9" />
<line x1="275.3" y1="570.8" x2="275.3" y2="568.2" stroke="#000" stroke-width="0.9" />
<line x1="275.3" y1="388" x2="275.3" y2="390.6" stroke="#000" stroke-width="0.9" />
<line x1="280.75" y1="570.8" x2="280.75" y2="568.2" stroke="#000" stroke-width="0.9" />
<line x1="280.75" y1="388" x2="280.75" y2="390.6" stroke="#000" stroke-width="0.9" />
<line x1="286.2" y1="570.8" x2="286.2" y2="568.2" stroke="#000" stroke-width="0.9" />
<line x1="286.2" y1="388" x2="286.2" y2="390.6" stroke="#000" stroke-width="0.9" />
<line x1="291.65" y1="570.8" x2="291.65" y2="568.2" stroke="#000" stroke-width="0.9" />
<line x1="291.65" y1="388" x2="291.65" y2="390.6" stroke="#000" stroke-width="0.9" />
<line x1="297.1" y1="570.8" x2="297.1" y2="568.2" stroke="#000" stroke-width="0.9" />
<line x1="297.1" y1="388" x2="297.1" y2="390.6" stroke="#000" stroke-width="0.9" />
<line x1="302.55" y1="570.8" x2="302.55" y2="568.2" stroke="#000" stroke-width="0.9" />
<line x1="302.55" y1="388" x2="302.55" y2="390.6" stroke="#000" stroke-width="0.9" />
<line x1="308" y1="570.8" x2="308" y2="568.2" stroke="#000" stroke-width="0.9" />
<line x1="308" y1="388" x2="308" y2="390.6" stroke="#000" stroke-width="0.9" />
<line x1="313.45" y1="570.8" x2="313.45" y2="568.2" stroke="#000" stroke-width="0.9" />
<line x1="313.45" y1="388" x2="313.45" y2="390.6" stroke="#000" stroke-width="0.9" />
<line x1="318.9" y1="570.8" x2="318.9" y2="568.2" stroke="#000" stroke-width="0.9" />
<line x1="318.9" y1="388" x2="318.9" y2="390.6" stroke="#000" stroke-width="0.9" />
<line x1="324.35" y1="570.8" x2="324.35" y2="568.2" stroke="#000" stroke-width="0.9" />
<line x1="324.35" y1="388" x2="324.35" y2="390.6" stroke="#000" stroke-width="0.9" />
<line x1="329.8" y1="570.8" x2="329.8" y2="568.2" stroke="#000" stroke-width="0.9" />
<line x1="329.8" y1="388" x2="329.8" y2="390.6" stroke="#000" stroke-width="0.9" />
<line x1="335.25" y1="570.8" x2="335.25" y2="568.2" stroke="#000" stroke-width="0.9" />
<line x1="335.25" y1="388" x2="335.25" y2="390.6" stroke="#000" stroke-width="0.9" />
<line x1="340.7" y1="570.8" x2="340.7" y2="568.2" stroke="#000" stroke-width="0.9" />
<line x1="340.7" y1="388" x2="340.7" y2="390.6" stroke="#000" stroke-width="0.9" />
<line x1="346.15" y1="570.8" x2="346.15" y2="568.2" stroke="#000" stroke-width="0.9" />
<line x1="346.15" y1="388" x2="346.15" y2="390.6" stroke="#000" stroke-width="0.9" />
<line x1="351.6" y1="570.8" x2="351.6" y2="568.2" stroke="#000" stroke-width="0.9" />
<line x1="351.6" y1="388" x2="351.6" y2="390.6" stroke="#000" stroke-width="0.9" />
<line x1="357.05" y1="570.8" x2="357.05" y2="568.2" stroke="#000" stroke-width="0.9" />
<line x1="357.05" y1="388" x2="357.05" y2="390.6" stroke="#000" stroke-width="0.9" />
<line x1="362.5" y1="570.8" x2="362.5" y2="568.2" stroke="#000" stroke-width="0.9" />
<line x1="362.5" y1="388" x2="362.5" y2="390.6" stroke="#000" stroke-width="0.9" />
<line x1="367.95" y1="570.8" x2="367.95" y2="568.2" stroke="#000" stroke-width="0.9" />
<line x1="367.95" y1="388" x2="367.95" y2="390.6" stroke="#000" stroke-width="0.9" />
<line x1="373.4" y1="570.8" x2="373.4" y2="568.2" stroke="#000" stroke-width="0.9" />
<line x1="373.4" y1="388" x2="373.4" y2="390.6" stroke="#000" stroke-width="0.9" />
<line x1="378.85" y1="570.8" x2="378.85" y2="568.2" stroke="#000" stroke-width="0.9" />
<line x1="378.85" y1="388" x2="378.85" y2="390.6" stroke="#000" stroke-width="0.9" />
<line x1="384.3" y1="570.8" x2="384.3" y2="568.2" stroke="#000" stroke-width="0.9" />
<line x1="384.3" y1="388" x2="384.3" y2="390.6" stroke="#000" stroke-width="0.9" />
<line x1="389.75" y1="570.8" x2="389.75" y2="568.2" stroke="#000" stroke-width="0.9" />
<line x1="389.75" y1="388" x2="389.75" y2="390.6" stroke="#000" stroke-width="0.9" />
<line x1="395.2" y1="570.8" x2="395.2" y2="568.2" stroke="#000" stroke-width="0.9" />
<line x1="395.2" y1="388" x2="395.2" y2="390.6" stroke="#000" stroke-width="0.9" />
<line x1="400.65" y1="570.8" x2="400.65" y2="568.2" stroke="#000" stroke-width="0.9" />
<line x1="400.65" y1="388" x2="400.65" y2="390.6" stroke="#000" stroke-width="0.9" />
<line x1="406.1" y1="570.8" x2="406.1" y2="568.2" stroke="#000" stroke-width="0.9" />
<line x1="406.1" y1="388" x2="406.1" y2="390.6" stroke="#000" stroke-width="0.9" />
<line x1="411.55" y1="570.8" x2="411.55" y2="568.2" stroke="#000" stroke-width="0.9" />
<line x1="411.55" y1="388" x2="411.55" y2="390.6" stroke="#000" stroke-width="0.9" />
<line x1="417" y1="570.8" x2="417" y2="568.2" stroke="#000" stroke-width="0.9" />
<line x1="417" y1="388" x2="417" y2="390.6" stroke="#000" stroke-width="0.9" />
<line x1="422.45" y1="570.8" x2="422.45" y2="568.2" stroke="#000" stroke-width="0.9" />
<line x1="422.45" y1="388" x2="422.45" y2="390.6" stroke="#000" stroke-width="0.9" />
<line x1="427.9" y1="570.8" x2="427.9" y2="568.2" stroke="#000" stroke-width="0.9" />
<line x1="427.9" y1="388" x2="427.9" y2="390.6" stroke="#000" stroke-width="0.9" />
<line x1="433.35" y1="570.8" x2="433.35" y2="568.2" stroke="#000" stroke-width="0.9" />
<line x1="433.35" y1="388" x2="433.35" y2="390.6" stroke="#000" stroke-width="0.9" />
<line x1="438.8" y1="570.8" x2="438.8" y2="568.2" stroke="#000" stroke-width="0.9" />
<line x1="438.8" y1="388" x2="438.8" y2="390.6" stroke="#000" stroke-width="0.9" />
<line x1="444.25" y1="570.8" x2="444.25" y2="568.2" stroke="#000" stroke-width="0.9" />
<line x1="444.25" y1="388" x2="444.25" y2="390.6" stroke="#000" stroke-width="0.9" />
<line x1="449.7" y1="570.8" x2="449.7" y2="568.2" stroke="#000" stroke-width="0.9" />
<line x1="449.7" y1="388" x2="449.7" y2="390.6" stroke="#000" stroke-width="0.9" />
<line x1="455.15" y1="570.8" x2="455.15" y2="568.2" stroke="#000" stroke-width="0.9" />
<line x1="455.15" y1="388" x2="455.15" y2="390.6" stroke="#000" stroke-width="0.9" />
<line x1="460.6" y1="570.8" x2="460.6" y2="568.2" stroke="#000" stroke-width="0.9" />
<line x1="460.6" y1="388" x2="460.6" y2="390.6" stroke="#000" stroke-width="0.9" />
<line x1="466.05" y1="570.8" x2="466.05" y2="568.2" stroke="#000" stroke-width="0.9" />
<line x1="466.05" y1="388" x2="466.05" y2="390.6" stroke="#000" stroke-width="0.9" />
<line x1="471.5" y1="570.8" x2="471.5" y2="568.2" stroke="#000" stroke-width="0.9" />
<line x1="471.5" y1="388" x2="471.5" y2="390.6" stroke="#000" stroke-width="0.9" />
<line x1="476.95" y1="570.8" x2="476.95" y2="568.2" stroke="#000" stroke-width="0.9" />
<line x1="476.95" y1="388" x2="476.95" y2="390.6" stroke="#000" stroke-width="0.9" />
<line x1="482.4" y1="570.8" x2="482.4" y2="568.2" stroke="#000" stroke-width="0.9" />
<line x1="482.4" y1="388" x2="482.4" y2="390.6" stroke="#000" stroke-width="0.9" />
<line x1="487.85" y1="570.8" x2="487.85" y2="568.2" stroke="#000" stroke-width="0.9" />
<line x1="487.85" y1="388" x2="487.85" y2="390.6" stroke="#000" stroke-width="0.9" />
<line x1="493.3" y1="570.8" x2="493.3" y2="568.2" stroke="#000" stroke-width="0.9" />
<line x1="493.3" y1="388" x2="493.3" y2="390.6" stroke="#000" stroke-width="0.9" />
<line x1="498.75" y1="570.8" x2="498.75" y2="568.2" stroke="#000" stroke-width="0.9" />
<line x1="498.75" y1="388" x2="498.75" y2="390.6" stroke="#000" stroke-width="0.9" />
<rect x="231.7" y="388" width="272.5" height="182.8" fill="none" stroke="#000" stroke-width="1.1"/>
<text transform="translate(229.2,574.9) scale(1.0,1)" font-size="10.5" text-anchor="end" font-family='"Liberation Sans", sans-serif'>0</text>
<text transform="translate(229.2,554.59) scale(1.0,1)" font-size="10.5" text-anchor="end" font-family='"Liberation Sans", sans-serif'>0.1</text>
<text transform="translate(229.2,534.28) scale(1.0,1)" font-size="10.5" text-anchor="end" font-family='"Liberation Sans", sans-serif'>0.2</text>
<text transform="translate(229.2,513.97) scale(1.0,1)" font-size="10.5" text-anchor="end" font-family='"Liberation Sans", sans-serif'>0.3</text>
<text transform="translate(229.2,493.66) scale(1.0,1)" font-size="10.5" text-anchor="end" font-family='"Liberation Sans", sans-serif'>0.4</text>
<text transform="translate(229.2,473.34) scale(1.0,1)" font-size="10.5" text-anchor="end" font-family='"Liberation Sans", sans-serif'>0.5</text>
<text transform="translate(229.2,453.03) scale(1.0,1)" font-size="10.5" text-anchor="end" font-family='"Liberation Sans", sans-serif'>0.6</text>
<text transform="translate(229.2,432.72) scale(1.0,1)" font-size="10.5" text-anchor="end" font-family='"Liberation Sans", sans-serif'>0.7</text>
<text transform="translate(229.2,412.41) scale(1.0,1)" font-size="10.5" text-anchor="end" font-family='"Liberation Sans", sans-serif'>0.8</text>
<text transform="translate(229.2,392.1) scale(1.0,1)" font-size="10.5" text-anchor="end" font-family='"Liberation Sans", sans-serif'>0.9</text>
<g clip-path="url(#c555m)">
<rect x="231.1" y="480.8" width="11.5" height="18.7" fill="#fec62e"/>
<rect x="231.1" y="482.9" width="11.5" height="14.5" fill="#fe9600"/>
<rect x="242.6" y="486.9" width="10.9" height="14.6" fill="#fec62e"/>
<rect x="242.6" y="488.6" width="10.9" height="12" fill="#fe9600"/>
<rect x="253.5" y="478.3" width="10.9" height="19.9" fill="#fec62e"/>
<rect x="253.5" y="480.6" width="10.9" height="16" fill="#fe9600"/>
<rect x="264.4" y="489" width="10.9" height="21.7" fill="#fec62e"/>
<rect x="264.4" y="491.6" width="10.9" height="16.6" fill="#fe9600"/>
<rect x="275.3" y="491.6" width="10.9" height="24.1" fill="#fec62e"/>
<rect x="275.3" y="494" width="10.9" height="15.9" fill="#fe9600"/>
<rect x="286.2" y="477.4" width="10.9" height="18.3" fill="#fec62e"/>
<rect x="286.2" y="479" width="10.9" height="15" fill="#fe9600"/>
<rect x="297.1" y="484.9" width="10.9" height="23.3" fill="#fec62e"/>
<rect x="297.1" y="485.6" width="10.9" height="22" fill="#fe9600"/>
<rect x="308" y="462.5" width="10.9" height="24.9" fill="#fec62e"/>
<rect x="308" y="465.8" width="10.9" height="18.3" fill="#fe9600"/>
<rect x="318.9" y="546.3" width="185.9" height="2.6" fill="#fec62e"/>
<rect x="318.9" y="546.6" width="185.9" height="1.7" fill="#fe9600"/>
<path d="M231.7 492.4H242.6V495.7H253.5V495.7H264.4V494H275.3V492.7H286.2V490.4H297.1V486.2H308V482.4H318.9V547.9H504.2" fill="none" stroke="#ff2a2a" stroke-width="1.2"/>
<path d="M231.7 492.4H242.6V495.7H253.5V495.7H264.4V494H275.3V492.7H286.2V490.4H297.1V486.2H308V482.4H318.9V547.9H504.2" fill="none" stroke="#2a3cff" stroke-width="1.2"/>
<path d="M231.7 491.3H242.6V494.6H253.5V494.6H264.4V492.9H275.3V491.6H286.2V489.3H297.1V485.1H308V481.3H318.9V547H504.2" fill="none" stroke="#3ee23e" stroke-width="1.2"/>
<path d="M231.7 491.6H242.6V494.9H253.5V494.9H264.4V493.2H275.3V491.9H286.2V489.6H297.1V485.4H308V481.6H318.9V547.3H504.2" fill="none" stroke="#5ff2f2" stroke-width="1.2"/>
<path d="M231.7 495.2H242.6V497.4H253.5V493.2H264.4V495.7H275.3V490.7H286.2V497.9H297.1V484.6H308V486.6H318.9V546.2H504.2" fill="none" stroke="#ff1a1a" stroke-width="1.35" stroke-dasharray="2,1.6"/>
<circle cx="237.15" cy="489.9" r="2.2" fill="#000"/>
<circle cx="248.05" cy="494.6" r="2.2" fill="#000"/>
<circle cx="258.95" cy="488.6" r="2.2" fill="#000"/>
<circle cx="269.85" cy="499.9" r="2.2" fill="#000"/>
<circle cx="280.75" cy="502.9" r="2.2" fill="#000"/>
<circle cx="291.65" cy="486.3" r="2.2" fill="#000"/>
<circle cx="302.55" cy="496.6" r="2.2" fill="#000"/>
<circle cx="313.45" cy="474" r="2.2" fill="#000"/>
<circle cx="411.55" cy="547.2" r="2.2" fill="#000"/>
</g>
<line x1="231.7" y1="618.22" x2="238.2" y2="618.22" stroke="#000" stroke-width="0.9" />
<line x1="504.2" y1="618.22" x2="497.7" y2="618.22" stroke="#000" stroke-width="0.9" />
<line x1="231.7" y1="603.35" x2="238.2" y2="603.35" stroke="#000" stroke-width="0.9" />
<line x1="504.2" y1="603.35" x2="497.7" y2="603.35" stroke="#000" stroke-width="0.9" />
<line x1="231.7" y1="588.48" x2="238.2" y2="588.48" stroke="#000" stroke-width="0.9" />
<line x1="504.2" y1="588.48" x2="497.7" y2="588.48" stroke="#000" stroke-width="0.9" />
<line x1="231.7" y1="625.66" x2="235.1" y2="625.66" stroke="#000" stroke-width="0.9" />
<line x1="504.2" y1="625.66" x2="500.8" y2="625.66" stroke="#000" stroke-width="0.9" />
<line x1="231.7" y1="621.94" x2="235.1" y2="621.94" stroke="#000" stroke-width="0.9" />
<line x1="504.2" y1="621.94" x2="500.8" y2="621.94" stroke="#000" stroke-width="0.9" />
<line x1="231.7" y1="618.22" x2="235.1" y2="618.22" stroke="#000" stroke-width="0.9" />
<line x1="504.2" y1="618.22" x2="500.8" y2="618.22" stroke="#000" stroke-width="0.9" />
<line x1="231.7" y1="614.5" x2="235.1" y2="614.5" stroke="#000" stroke-width="0.9" />
<line x1="504.2" y1="614.5" x2="500.8" y2="614.5" stroke="#000" stroke-width="0.9" />
<line x1="231.7" y1="610.79" x2="235.1" y2="610.79" stroke="#000" stroke-width="0.9" />
<line x1="504.2" y1="610.79" x2="500.8" y2="610.79" stroke="#000" stroke-width="0.9" />
<line x1="231.7" y1="607.07" x2="235.1" y2="607.07" stroke="#000" stroke-width="0.9" />
<line x1="504.2" y1="607.07" x2="500.8" y2="607.07" stroke="#000" stroke-width="0.9" />
<line x1="231.7" y1="603.35" x2="235.1" y2="603.35" stroke="#000" stroke-width="0.9" />
<line x1="504.2" y1="603.35" x2="500.8" y2="603.35" stroke="#000" stroke-width="0.9" />
<line x1="231.7" y1="599.63" x2="235.1" y2="599.63" stroke="#000" stroke-width="0.9" />
<line x1="504.2" y1="599.63" x2="500.8" y2="599.63" stroke="#000" stroke-width="0.9" />
<line x1="231.7" y1="595.91" x2="235.1" y2="595.91" stroke="#000" stroke-width="0.9" />
<line x1="504.2" y1="595.91" x2="500.8" y2="595.91" stroke="#000" stroke-width="0.9" />
<line x1="231.7" y1="592.2" x2="235.1" y2="592.2" stroke="#000" stroke-width="0.9" />
<line x1="504.2" y1="592.2" x2="500.8" y2="592.2" stroke="#000" stroke-width="0.9" />
<line x1="231.7" y1="588.48" x2="235.1" y2="588.48" stroke="#000" stroke-width="0.9" />
<line x1="504.2" y1="588.48" x2="500.8" y2="588.48" stroke="#000" stroke-width="0.9" />
<line x1="231.7" y1="584.76" x2="235.1" y2="584.76" stroke="#000" stroke-width="0.9" />
<line x1="504.2" y1="584.76" x2="500.8" y2="584.76" stroke="#000" stroke-width="0.9" />
<line x1="231.7" y1="581.04" x2="235.1" y2="581.04" stroke="#000" stroke-width="0.9" />
<line x1="504.2" y1="581.04" x2="500.8" y2="581.04" stroke="#000" stroke-width="0.9" />
<line x1="231.7" y1="626.4" x2="231.7" y2="624.2" stroke="#000" stroke-width="0.9" />
<line x1="231.7" y1="580.3" x2="231.7" y2="582.5" stroke="#000" stroke-width="0.9" />
<line x1="258.95" y1="626.4" x2="258.95" y2="624.2" stroke="#000" stroke-width="0.9" />
<line x1="258.95" y1="580.3" x2="258.95" y2="582.5" stroke="#000" stroke-width="0.9" />
<line x1="286.2" y1="626.4" x2="286.2" y2="624.2" stroke="#000" stroke-width="0.9" />
<line x1="286.2" y1="580.3" x2="286.2" y2="582.5" stroke="#000" stroke-width="0.9" />
<line x1="313.45" y1="626.4" x2="313.45" y2="624.2" stroke="#000" stroke-width="0.9" />
<line x1="313.45" y1="580.3" x2="313.45" y2="582.5" stroke="#000" stroke-width="0.9" />
<line x1="340.7" y1="626.4" x2="340.7" y2="624.2" stroke="#000" stroke-width="0.9" />
<line x1="340.7" y1="580.3" x2="340.7" y2="582.5" stroke="#000" stroke-width="0.9" />
<line x1="367.95" y1="626.4" x2="367.95" y2="624.2" stroke="#000" stroke-width="0.9" />
<line x1="367.95" y1="580.3" x2="367.95" y2="582.5" stroke="#000" stroke-width="0.9" />
<line x1="395.2" y1="626.4" x2="395.2" y2="624.2" stroke="#000" stroke-width="0.9" />
<line x1="395.2" y1="580.3" x2="395.2" y2="582.5" stroke="#000" stroke-width="0.9" />
<line x1="422.45" y1="626.4" x2="422.45" y2="624.2" stroke="#000" stroke-width="0.9" />
<line x1="422.45" y1="580.3" x2="422.45" y2="582.5" stroke="#000" stroke-width="0.9" />
<line x1="449.7" y1="626.4" x2="449.7" y2="624.2" stroke="#000" stroke-width="0.9" />
<line x1="449.7" y1="580.3" x2="449.7" y2="582.5" stroke="#000" stroke-width="0.9" />
<line x1="476.95" y1="626.4" x2="476.95" y2="624.2" stroke="#000" stroke-width="0.9" />
<line x1="476.95" y1="580.3" x2="476.95" y2="582.5" stroke="#000" stroke-width="0.9" />
<line x1="504.2" y1="626.4" x2="504.2" y2="624.2" stroke="#000" stroke-width="0.9" />
<line x1="504.2" y1="580.3" x2="504.2" y2="582.5" stroke="#000" stroke-width="0.9" />
<line x1="237.15" y1="626.4" x2="237.15" y2="625.2" stroke="#000" stroke-width="0.9" />
<line x1="237.15" y1="580.3" x2="237.15" y2="581.5" stroke="#000" stroke-width="0.9" />
<line x1="242.6" y1="626.4" x2="242.6" y2="625.2" stroke="#000" stroke-width="0.9" />
<line x1="242.6" y1="580.3" x2="242.6" y2="581.5" stroke="#000" stroke-width="0.9" />
<line x1="248.05" y1="626.4" x2="248.05" y2="625.2" stroke="#000" stroke-width="0.9" />
<line x1="248.05" y1="580.3" x2="248.05" y2="581.5" stroke="#000" stroke-width="0.9" />
<line x1="253.5" y1="626.4" x2="253.5" y2="625.2" stroke="#000" stroke-width="0.9" />
<line x1="253.5" y1="580.3" x2="253.5" y2="581.5" stroke="#000" stroke-width="0.9" />
<line x1="258.95" y1="626.4" x2="258.95" y2="625.2" stroke="#000" stroke-width="0.9" />
<line x1="258.95" y1="580.3" x2="258.95" y2="581.5" stroke="#000" stroke-width="0.9" />
<line x1="264.4" y1="626.4" x2="264.4" y2="625.2" stroke="#000" stroke-width="0.9" />
<line x1="264.4" y1="580.3" x2="264.4" y2="581.5" stroke="#000" stroke-width="0.9" />
<line x1="269.85" y1="626.4" x2="269.85" y2="625.2" stroke="#000" stroke-width="0.9" />
<line x1="269.85" y1="580.3" x2="269.85" y2="581.5" stroke="#000" stroke-width="0.9" />
<line x1="275.3" y1="626.4" x2="275.3" y2="625.2" stroke="#000" stroke-width="0.9" />
<line x1="275.3" y1="580.3" x2="275.3" y2="581.5" stroke="#000" stroke-width="0.9" />
<line x1="280.75" y1="626.4" x2="280.75" y2="625.2" stroke="#000" stroke-width="0.9" />
<line x1="280.75" y1="580.3" x2="280.75" y2="581.5" stroke="#000" stroke-width="0.9" />
<line x1="286.2" y1="626.4" x2="286.2" y2="625.2" stroke="#000" stroke-width="0.9" />
<line x1="286.2" y1="580.3" x2="286.2" y2="581.5" stroke="#000" stroke-width="0.9" />
<line x1="291.65" y1="626.4" x2="291.65" y2="625.2" stroke="#000" stroke-width="0.9" />
<line x1="291.65" y1="580.3" x2="291.65" y2="581.5" stroke="#000" stroke-width="0.9" />
<line x1="297.1" y1="626.4" x2="297.1" y2="625.2" stroke="#000" stroke-width="0.9" />
<line x1="297.1" y1="580.3" x2="297.1" y2="581.5" stroke="#000" stroke-width="0.9" />
<line x1="302.55" y1="626.4" x2="302.55" y2="625.2" stroke="#000" stroke-width="0.9" />
<line x1="302.55" y1="580.3" x2="302.55" y2="581.5" stroke="#000" stroke-width="0.9" />
<line x1="308" y1="626.4" x2="308" y2="625.2" stroke="#000" stroke-width="0.9" />
<line x1="308" y1="580.3" x2="308" y2="581.5" stroke="#000" stroke-width="0.9" />
<line x1="313.45" y1="626.4" x2="313.45" y2="625.2" stroke="#000" stroke-width="0.9" />
<line x1="313.45" y1="580.3" x2="313.45" y2="581.5" stroke="#000" stroke-width="0.9" />
<line x1="318.9" y1="626.4" x2="318.9" y2="625.2" stroke="#000" stroke-width="0.9" />
<line x1="318.9" y1="580.3" x2="318.9" y2="581.5" stroke="#000" stroke-width="0.9" />
<line x1="324.35" y1="626.4" x2="324.35" y2="625.2" stroke="#000" stroke-width="0.9" />
<line x1="324.35" y1="580.3" x2="324.35" y2="581.5" stroke="#000" stroke-width="0.9" />
<line x1="329.8" y1="626.4" x2="329.8" y2="625.2" stroke="#000" stroke-width="0.9" />
<line x1="329.8" y1="580.3" x2="329.8" y2="581.5" stroke="#000" stroke-width="0.9" />
<line x1="335.25" y1="626.4" x2="335.25" y2="625.2" stroke="#000" stroke-width="0.9" />
<line x1="335.25" y1="580.3" x2="335.25" y2="581.5" stroke="#000" stroke-width="0.9" />
<line x1="340.7" y1="626.4" x2="340.7" y2="625.2" stroke="#000" stroke-width="0.9" />
<line x1="340.7" y1="580.3" x2="340.7" y2="581.5" stroke="#000" stroke-width="0.9" />
<line x1="346.15" y1="626.4" x2="346.15" y2="625.2" stroke="#000" stroke-width="0.9" />
<line x1="346.15" y1="580.3" x2="346.15" y2="581.5" stroke="#000" stroke-width="0.9" />
<line x1="351.6" y1="626.4" x2="351.6" y2="625.2" stroke="#000" stroke-width="0.9" />
<line x1="351.6" y1="580.3" x2="351.6" y2="581.5" stroke="#000" stroke-width="0.9" />
<line x1="357.05" y1="626.4" x2="357.05" y2="625.2" stroke="#000" stroke-width="0.9" />
<line x1="357.05" y1="580.3" x2="357.05" y2="581.5" stroke="#000" stroke-width="0.9" />
<line x1="362.5" y1="626.4" x2="362.5" y2="625.2" stroke="#000" stroke-width="0.9" />
<line x1="362.5" y1="580.3" x2="362.5" y2="581.5" stroke="#000" stroke-width="0.9" />
<line x1="367.95" y1="626.4" x2="367.95" y2="625.2" stroke="#000" stroke-width="0.9" />
<line x1="367.95" y1="580.3" x2="367.95" y2="581.5" stroke="#000" stroke-width="0.9" />
<line x1="373.4" y1="626.4" x2="373.4" y2="625.2" stroke="#000" stroke-width="0.9" />
<line x1="373.4" y1="580.3" x2="373.4" y2="581.5" stroke="#000" stroke-width="0.9" />
<line x1="378.85" y1="626.4" x2="378.85" y2="625.2" stroke="#000" stroke-width="0.9" />
<line x1="378.85" y1="580.3" x2="378.85" y2="581.5" stroke="#000" stroke-width="0.9" />
<line x1="384.3" y1="626.4" x2="384.3" y2="625.2" stroke="#000" stroke-width="0.9" />
<line x1="384.3" y1="580.3" x2="384.3" y2="581.5" stroke="#000" stroke-width="0.9" />
<line x1="389.75" y1="626.4" x2="389.75" y2="625.2" stroke="#000" stroke-width="0.9" />
<line x1="389.75" y1="580.3" x2="389.75" y2="581.5" stroke="#000" stroke-width="0.9" />
<line x1="395.2" y1="626.4" x2="395.2" y2="625.2" stroke="#000" stroke-width="0.9" />
<line x1="395.2" y1="580.3" x2="395.2" y2="581.5" stroke="#000" stroke-width="0.9" />
<line x1="400.65" y1="626.4" x2="400.65" y2="625.2" stroke="#000" stroke-width="0.9" />
<line x1="400.65" y1="580.3" x2="400.65" y2="581.5" stroke="#000" stroke-width="0.9" />
<line x1="406.1" y1="626.4" x2="406.1" y2="625.2" stroke="#000" stroke-width="0.9" />
<line x1="406.1" y1="580.3" x2="406.1" y2="581.5" stroke="#000" stroke-width="0.9" />
<line x1="411.55" y1="626.4" x2="411.55" y2="625.2" stroke="#000" stroke-width="0.9" />
<line x1="411.55" y1="580.3" x2="411.55" y2="581.5" stroke="#000" stroke-width="0.9" />
<line x1="417" y1="626.4" x2="417" y2="625.2" stroke="#000" stroke-width="0.9" />
<line x1="417" y1="580.3" x2="417" y2="581.5" stroke="#000" stroke-width="0.9" />
<line x1="422.45" y1="626.4" x2="422.45" y2="625.2" stroke="#000" stroke-width="0.9" />
<line x1="422.45" y1="580.3" x2="422.45" y2="581.5" stroke="#000" stroke-width="0.9" />
<line x1="427.9" y1="626.4" x2="427.9" y2="625.2" stroke="#000" stroke-width="0.9" />
<line x1="427.9" y1="580.3" x2="427.9" y2="581.5" stroke="#000" stroke-width="0.9" />
<line x1="433.35" y1="626.4" x2="433.35" y2="625.2" stroke="#000" stroke-width="0.9" />
<line x1="433.35" y1="580.3" x2="433.35" y2="581.5" stroke="#000" stroke-width="0.9" />
<line x1="438.8" y1="626.4" x2="438.8" y2="625.2" stroke="#000" stroke-width="0.9" />
<line x1="438.8" y1="580.3" x2="438.8" y2="581.5" stroke="#000" stroke-width="0.9" />
<line x1="444.25" y1="626.4" x2="444.25" y2="625.2" stroke="#000" stroke-width="0.9" />
<line x1="444.25" y1="580.3" x2="444.25" y2="581.5" stroke="#000" stroke-width="0.9" />
<line x1="449.7" y1="626.4" x2="449.7" y2="625.2" stroke="#000" stroke-width="0.9" />
<line x1="449.7" y1="580.3" x2="449.7" y2="581.5" stroke="#000" stroke-width="0.9" />
<line x1="455.15" y1="626.4" x2="455.15" y2="625.2" stroke="#000" stroke-width="0.9" />
<line x1="455.15" y1="580.3" x2="455.15" y2="581.5" stroke="#000" stroke-width="0.9" />
<line x1="460.6" y1="626.4" x2="460.6" y2="625.2" stroke="#000" stroke-width="0.9" />
<line x1="460.6" y1="580.3" x2="460.6" y2="581.5" stroke="#000" stroke-width="0.9" />
<line x1="466.05" y1="626.4" x2="466.05" y2="625.2" stroke="#000" stroke-width="0.9" />
<line x1="466.05" y1="580.3" x2="466.05" y2="581.5" stroke="#000" stroke-width="0.9" />
<line x1="471.5" y1="626.4" x2="471.5" y2="625.2" stroke="#000" stroke-width="0.9" />
<line x1="471.5" y1="580.3" x2="471.5" y2="581.5" stroke="#000" stroke-width="0.9" />
<line x1="476.95" y1="626.4" x2="476.95" y2="625.2" stroke="#000" stroke-width="0.9" />
<line x1="476.95" y1="580.3" x2="476.95" y2="581.5" stroke="#000" stroke-width="0.9" />
<line x1="482.4" y1="626.4" x2="482.4" y2="625.2" stroke="#000" stroke-width="0.9" />
<line x1="482.4" y1="580.3" x2="482.4" y2="581.5" stroke="#000" stroke-width="0.9" />
<line x1="487.85" y1="626.4" x2="487.85" y2="625.2" stroke="#000" stroke-width="0.9" />
<line x1="487.85" y1="580.3" x2="487.85" y2="581.5" stroke="#000" stroke-width="0.9" />
<line x1="493.3" y1="626.4" x2="493.3" y2="625.2" stroke="#000" stroke-width="0.9" />
<line x1="493.3" y1="580.3" x2="493.3" y2="581.5" stroke="#000" stroke-width="0.9" />
<line x1="498.75" y1="626.4" x2="498.75" y2="625.2" stroke="#000" stroke-width="0.9" />
<line x1="498.75" y1="580.3" x2="498.75" y2="581.5" stroke="#000" stroke-width="0.9" />
<rect x="231.7" y="580.3" width="272.5" height="46.1" fill="none" stroke="#000" stroke-width="1.1"/>
<text transform="translate(229.3,592.58)" font-size="10.5" text-anchor="end" font-weight="normal" font-style="normal" font-family='"Liberation Sans", sans-serif' fill="#000">1.2</text>
<text transform="translate(229.3,608.35)" font-size="10.5" text-anchor="end" font-weight="normal" font-style="normal" font-family='"Liberation Sans", sans-serif' fill="#000">1</text>
<text transform="translate(229.3,622.32)" font-size="10.5" text-anchor="end" font-weight="normal" font-style="normal" font-family='"Liberation Sans", sans-serif' fill="#000">0.8</text>
<g clip-path="url(#c555a)">
<rect x="231.1" y="594" width="11.5" height="18.3" fill="#fec62e"/>
<rect x="231.1" y="595.4" width="11.5" height="15.8" fill="#fe9600"/>
<rect x="242.6" y="595.6" width="10.9" height="15.4" fill="#fec62e"/>
<rect x="242.6" y="596" width="10.9" height="14.2" fill="#fe9600"/>
<rect x="253.5" y="594" width="10.9" height="18.6" fill="#fec62e"/>
<rect x="253.5" y="595.8" width="10.9" height="15.4" fill="#fe9600"/>
<rect x="264.4" y="591.2" width="10.9" height="23.6" fill="#fec62e"/>
<rect x="264.4" y="594" width="10.9" height="17.2" fill="#fe9600"/>
<rect x="275.3" y="589.4" width="10.9" height="27.7" fill="#fec62e"/>
<rect x="275.3" y="591.2" width="10.9" height="19.7" fill="#fe9600"/>
<rect x="286.2" y="595.6" width="10.9" height="15.6" fill="#fec62e"/>
<rect x="286.2" y="596" width="10.9" height="14.6" fill="#fe9600"/>
<rect x="297.1" y="591.2" width="10.9" height="24.1" fill="#fec62e"/>
<rect x="297.1" y="592.2" width="10.9" height="22.6" fill="#fe9600"/>
<rect x="308" y="593.6" width="10.9" height="19" fill="#fec62e"/>
<rect x="308" y="596.8" width="10.9" height="14.4" fill="#fe9600"/>
<rect x="318.9" y="598.9" width="185.9" height="9.8" fill="#fec62e"/>
<rect x="318.9" y="600" width="185.9" height="7.6" fill="#fe9600"/>
<path d="M231.7 605.1H242.6V603.7H253.5V610.2H264.4V596.8H275.3V590.1H286.2V605.4H297.1V591.5H308V608.8H318.9V604.6H504.2" fill="none" stroke="#ff2a2a" stroke-width="1.2"/>
<path d="M231.7 604H242.6V602.5H253.5V608.6H264.4V595.2H275.3V590.6H286.2V604.4H297.1V592.4H308V610.2H318.9V603.4H504.2" fill="none" stroke="#3ee23e" stroke-width="1.2"/>
<path d="M231.7 604.5H242.6V603H253.5V609H264.4V595.5H275.3V591H286.2V604.8H297.1V592.9H308V609.5H318.9V603.8H504.2" fill="none" stroke="#5ff2f2" stroke-width="1.2"/>
<path d="M231.7 605.1H242.6V603.7H253.5V610.2H264.4V596.8H275.3V590.1H286.2V605.4H297.1V591.5H308V608.8H318.9V604.6H504.2" fill="none" stroke="#2a3cff" stroke-width="1.2"/>
<path d="M231.7 608.1H242.6V606.5H253.5V607.8H264.4V599.1H275.3V589.4H286.2V613.4H297.1V591.2H308V613H318.9V601.2H504.2" fill="none" stroke="#ff1a1a" stroke-width="1.35" stroke-dasharray="2,1.6"/>
</g>
<line x1="231.7" y1="671.54" x2="238.2" y2="671.54" stroke="#000" stroke-width="0.9" />
<line x1="504.2" y1="671.54" x2="497.7" y2="671.54" stroke="#000" stroke-width="0.9" />
<line x1="231.7" y1="659.25" x2="238.2" y2="659.25" stroke="#000" stroke-width="0.9" />
<line x1="504.2" y1="659.25" x2="497.7" y2="659.25" stroke="#000" stroke-width="0.9" />
<line x1="231.7" y1="646.96" x2="238.2" y2="646.96" stroke="#000" stroke-width="0.9" />
<line x1="504.2" y1="646.96" x2="497.7" y2="646.96" stroke="#000" stroke-width="0.9" />
<line x1="231.7" y1="677.69" x2="235.1" y2="677.69" stroke="#000" stroke-width="0.9" />
<line x1="504.2" y1="677.69" x2="500.8" y2="677.69" stroke="#000" stroke-width="0.9" />
<line x1="231.7" y1="674.61" x2="235.1" y2="674.61" stroke="#000" stroke-width="0.9" />
<line x1="504.2" y1="674.61" x2="500.8" y2="674.61" stroke="#000" stroke-width="0.9" />
<line x1="231.7" y1="671.54" x2="235.1" y2="671.54" stroke="#000" stroke-width="0.9" />
<line x1="504.2" y1="671.54" x2="500.8" y2="671.54" stroke="#000" stroke-width="0.9" />
<line x1="231.7" y1="668.47" x2="235.1" y2="668.47" stroke="#000" stroke-width="0.9" />
<line x1="504.2" y1="668.47" x2="500.8" y2="668.47" stroke="#000" stroke-width="0.9" />
<line x1="231.7" y1="665.4" x2="235.1" y2="665.4" stroke="#000" stroke-width="0.9" />
<line x1="504.2" y1="665.4" x2="500.8" y2="665.4" stroke="#000" stroke-width="0.9" />
<line x1="231.7" y1="662.32" x2="235.1" y2="662.32" stroke="#000" stroke-width="0.9" />
<line x1="504.2" y1="662.32" x2="500.8" y2="662.32" stroke="#000" stroke-width="0.9" />
<line x1="231.7" y1="659.25" x2="235.1" y2="659.25" stroke="#000" stroke-width="0.9" />
<line x1="504.2" y1="659.25" x2="500.8" y2="659.25" stroke="#000" stroke-width="0.9" />
<line x1="231.7" y1="656.18" x2="235.1" y2="656.18" stroke="#000" stroke-width="0.9" />
<line x1="504.2" y1="656.18" x2="500.8" y2="656.18" stroke="#000" stroke-width="0.9" />
<line x1="231.7" y1="653.1" x2="235.1" y2="653.1" stroke="#000" stroke-width="0.9" />
<line x1="504.2" y1="653.1" x2="500.8" y2="653.1" stroke="#000" stroke-width="0.9" />
<line x1="231.7" y1="650.03" x2="235.1" y2="650.03" stroke="#000" stroke-width="0.9" />
<line x1="504.2" y1="650.03" x2="500.8" y2="650.03" stroke="#000" stroke-width="0.9" />
<line x1="231.7" y1="646.96" x2="235.1" y2="646.96" stroke="#000" stroke-width="0.9" />
<line x1="504.2" y1="646.96" x2="500.8" y2="646.96" stroke="#000" stroke-width="0.9" />
<line x1="231.7" y1="643.89" x2="235.1" y2="643.89" stroke="#000" stroke-width="0.9" />
<line x1="504.2" y1="643.89" x2="500.8" y2="643.89" stroke="#000" stroke-width="0.9" />
<line x1="231.7" y1="640.81" x2="235.1" y2="640.81" stroke="#000" stroke-width="0.9" />
<line x1="504.2" y1="640.81" x2="500.8" y2="640.81" stroke="#000" stroke-width="0.9" />
<line x1="231.7" y1="678.3" x2="231.7" y2="676.1" stroke="#000" stroke-width="0.9" />
<line x1="231.7" y1="640.2" x2="231.7" y2="642.4" stroke="#000" stroke-width="0.9" />
<line x1="258.95" y1="678.3" x2="258.95" y2="676.1" stroke="#000" stroke-width="0.9" />
<line x1="258.95" y1="640.2" x2="258.95" y2="642.4" stroke="#000" stroke-width="0.9" />
<line x1="286.2" y1="678.3" x2="286.2" y2="676.1" stroke="#000" stroke-width="0.9" />
<line x1="286.2" y1="640.2" x2="286.2" y2="642.4" stroke="#000" stroke-width="0.9" />
<line x1="313.45" y1="678.3" x2="313.45" y2="676.1" stroke="#000" stroke-width="0.9" />
<line x1="313.45" y1="640.2" x2="313.45" y2="642.4" stroke="#000" stroke-width="0.9" />
<line x1="340.7" y1="678.3" x2="340.7" y2="676.1" stroke="#000" stroke-width="0.9" />
<line x1="340.7" y1="640.2" x2="340.7" y2="642.4" stroke="#000" stroke-width="0.9" />
<line x1="367.95" y1="678.3" x2="367.95" y2="676.1" stroke="#000" stroke-width="0.9" />
<line x1="367.95" y1="640.2" x2="367.95" y2="642.4" stroke="#000" stroke-width="0.9" />
<line x1="395.2" y1="678.3" x2="395.2" y2="676.1" stroke="#000" stroke-width="0.9" />
<line x1="395.2" y1="640.2" x2="395.2" y2="642.4" stroke="#000" stroke-width="0.9" />
<line x1="422.45" y1="678.3" x2="422.45" y2="676.1" stroke="#000" stroke-width="0.9" />
<line x1="422.45" y1="640.2" x2="422.45" y2="642.4" stroke="#000" stroke-width="0.9" />
<line x1="449.7" y1="678.3" x2="449.7" y2="676.1" stroke="#000" stroke-width="0.9" />
<line x1="449.7" y1="640.2" x2="449.7" y2="642.4" stroke="#000" stroke-width="0.9" />
<line x1="476.95" y1="678.3" x2="476.95" y2="676.1" stroke="#000" stroke-width="0.9" />
<line x1="476.95" y1="640.2" x2="476.95" y2="642.4" stroke="#000" stroke-width="0.9" />
<line x1="504.2" y1="678.3" x2="504.2" y2="676.1" stroke="#000" stroke-width="0.9" />
<line x1="504.2" y1="640.2" x2="504.2" y2="642.4" stroke="#000" stroke-width="0.9" />
<line x1="237.15" y1="678.3" x2="237.15" y2="677.1" stroke="#000" stroke-width="0.9" />
<line x1="237.15" y1="640.2" x2="237.15" y2="641.4" stroke="#000" stroke-width="0.9" />
<line x1="242.6" y1="678.3" x2="242.6" y2="677.1" stroke="#000" stroke-width="0.9" />
<line x1="242.6" y1="640.2" x2="242.6" y2="641.4" stroke="#000" stroke-width="0.9" />
<line x1="248.05" y1="678.3" x2="248.05" y2="677.1" stroke="#000" stroke-width="0.9" />
<line x1="248.05" y1="640.2" x2="248.05" y2="641.4" stroke="#000" stroke-width="0.9" />
<line x1="253.5" y1="678.3" x2="253.5" y2="677.1" stroke="#000" stroke-width="0.9" />
<line x1="253.5" y1="640.2" x2="253.5" y2="641.4" stroke="#000" stroke-width="0.9" />
<line x1="258.95" y1="678.3" x2="258.95" y2="677.1" stroke="#000" stroke-width="0.9" />
<line x1="258.95" y1="640.2" x2="258.95" y2="641.4" stroke="#000" stroke-width="0.9" />
<line x1="264.4" y1="678.3" x2="264.4" y2="677.1" stroke="#000" stroke-width="0.9" />
<line x1="264.4" y1="640.2" x2="264.4" y2="641.4" stroke="#000" stroke-width="0.9" />
<line x1="269.85" y1="678.3" x2="269.85" y2="677.1" stroke="#000" stroke-width="0.9" />
<line x1="269.85" y1="640.2" x2="269.85" y2="641.4" stroke="#000" stroke-width="0.9" />
<line x1="275.3" y1="678.3" x2="275.3" y2="677.1" stroke="#000" stroke-width="0.9" />
<line x1="275.3" y1="640.2" x2="275.3" y2="641.4" stroke="#000" stroke-width="0.9" />
<line x1="280.75" y1="678.3" x2="280.75" y2="677.1" stroke="#000" stroke-width="0.9" />
<line x1="280.75" y1="640.2" x2="280.75" y2="641.4" stroke="#000" stroke-width="0.9" />
<line x1="286.2" y1="678.3" x2="286.2" y2="677.1" stroke="#000" stroke-width="0.9" />
<line x1="286.2" y1="640.2" x2="286.2" y2="641.4" stroke="#000" stroke-width="0.9" />
<line x1="291.65" y1="678.3" x2="291.65" y2="677.1" stroke="#000" stroke-width="0.9" />
<line x1="291.65" y1="640.2" x2="291.65" y2="641.4" stroke="#000" stroke-width="0.9" />
<line x1="297.1" y1="678.3" x2="297.1" y2="677.1" stroke="#000" stroke-width="0.9" />
<line x1="297.1" y1="640.2" x2="297.1" y2="641.4" stroke="#000" stroke-width="0.9" />
<line x1="302.55" y1="678.3" x2="302.55" y2="677.1" stroke="#000" stroke-width="0.9" />
<line x1="302.55" y1="640.2" x2="302.55" y2="641.4" stroke="#000" stroke-width="0.9" />
<line x1="308" y1="678.3" x2="308" y2="677.1" stroke="#000" stroke-width="0.9" />
<line x1="308" y1="640.2" x2="308" y2="641.4" stroke="#000" stroke-width="0.9" />
<line x1="313.45" y1="678.3" x2="313.45" y2="677.1" stroke="#000" stroke-width="0.9" />
<line x1="313.45" y1="640.2" x2="313.45" y2="641.4" stroke="#000" stroke-width="0.9" />
<line x1="318.9" y1="678.3" x2="318.9" y2="677.1" stroke="#000" stroke-width="0.9" />
<line x1="318.9" y1="640.2" x2="318.9" y2="641.4" stroke="#000" stroke-width="0.9" />
<line x1="324.35" y1="678.3" x2="324.35" y2="677.1" stroke="#000" stroke-width="0.9" />
<line x1="324.35" y1="640.2" x2="324.35" y2="641.4" stroke="#000" stroke-width="0.9" />
<line x1="329.8" y1="678.3" x2="329.8" y2="677.1" stroke="#000" stroke-width="0.9" />
<line x1="329.8" y1="640.2" x2="329.8" y2="641.4" stroke="#000" stroke-width="0.9" />
<line x1="335.25" y1="678.3" x2="335.25" y2="677.1" stroke="#000" stroke-width="0.9" />
<line x1="335.25" y1="640.2" x2="335.25" y2="641.4" stroke="#000" stroke-width="0.9" />
<line x1="340.7" y1="678.3" x2="340.7" y2="677.1" stroke="#000" stroke-width="0.9" />
<line x1="340.7" y1="640.2" x2="340.7" y2="641.4" stroke="#000" stroke-width="0.9" />
<line x1="346.15" y1="678.3" x2="346.15" y2="677.1" stroke="#000" stroke-width="0.9" />
<line x1="346.15" y1="640.2" x2="346.15" y2="641.4" stroke="#000" stroke-width="0.9" />
<line x1="351.6" y1="678.3" x2="351.6" y2="677.1" stroke="#000" stroke-width="0.9" />
<line x1="351.6" y1="640.2" x2="351.6" y2="641.4" stroke="#000" stroke-width="0.9" />
<line x1="357.05" y1="678.3" x2="357.05" y2="677.1" stroke="#000" stroke-width="0.9" />
<line x1="357.05" y1="640.2" x2="357.05" y2="641.4" stroke="#000" stroke-width="0.9" />
<line x1="362.5" y1="678.3" x2="362.5" y2="677.1" stroke="#000" stroke-width="0.9" />
<line x1="362.5" y1="640.2" x2="362.5" y2="641.4" stroke="#000" stroke-width="0.9" />
<line x1="367.95" y1="678.3" x2="367.95" y2="677.1" stroke="#000" stroke-width="0.9" />
<line x1="367.95" y1="640.2" x2="367.95" y2="641.4" stroke="#000" stroke-width="0.9" />
<line x1="373.4" y1="678.3" x2="373.4" y2="677.1" stroke="#000" stroke-width="0.9" />
<line x1="373.4" y1="640.2" x2="373.4" y2="641.4" stroke="#000" stroke-width="0.9" />
<line x1="378.85" y1="678.3" x2="378.85" y2="677.1" stroke="#000" stroke-width="0.9" />
<line x1="378.85" y1="640.2" x2="378.85" y2="641.4" stroke="#000" stroke-width="0.9" />
<line x1="384.3" y1="678.3" x2="384.3" y2="677.1" stroke="#000" stroke-width="0.9" />
<line x1="384.3" y1="640.2" x2="384.3" y2="641.4" stroke="#000" stroke-width="0.9" />
<line x1="389.75" y1="678.3" x2="389.75" y2="677.1" stroke="#000" stroke-width="0.9" />
<line x1="389.75" y1="640.2" x2="389.75" y2="641.4" stroke="#000" stroke-width="0.9" />
<line x1="395.2" y1="678.3" x2="395.2" y2="677.1" stroke="#000" stroke-width="0.9" />
<line x1="395.2" y1="640.2" x2="395.2" y2="641.4" stroke="#000" stroke-width="0.9" />
<line x1="400.65" y1="678.3" x2="400.65" y2="677.1" stroke="#000" stroke-width="0.9" />
<line x1="400.65" y1="640.2" x2="400.65" y2="641.4" stroke="#000" stroke-width="0.9" />
<line x1="406.1" y1="678.3" x2="406.1" y2="677.1" stroke="#000" stroke-width="0.9" />
<line x1="406.1" y1="640.2" x2="406.1" y2="641.4" stroke="#000" stroke-width="0.9" />
<line x1="411.55" y1="678.3" x2="411.55" y2="677.1" stroke="#000" stroke-width="0.9" />
<line x1="411.55" y1="640.2" x2="411.55" y2="641.4" stroke="#000" stroke-width="0.9" />
<line x1="417" y1="678.3" x2="417" y2="677.1" stroke="#000" stroke-width="0.9" />
<line x1="417" y1="640.2" x2="417" y2="641.4" stroke="#000" stroke-width="0.9" />
<line x1="422.45" y1="678.3" x2="422.45" y2="677.1" stroke="#000" stroke-width="0.9" />
<line x1="422.45" y1="640.2" x2="422.45" y2="641.4" stroke="#000" stroke-width="0.9" />
<line x1="427.9" y1="678.3" x2="427.9" y2="677.1" stroke="#000" stroke-width="0.9" />
<line x1="427.9" y1="640.2" x2="427.9" y2="641.4" stroke="#000" stroke-width="0.9" />
<line x1="433.35" y1="678.3" x2="433.35" y2="677.1" stroke="#000" stroke-width="0.9" />
<line x1="433.35" y1="640.2" x2="433.35" y2="641.4" stroke="#000" stroke-width="0.9" />
<line x1="438.8" y1="678.3" x2="438.8" y2="677.1" stroke="#000" stroke-width="0.9" />
<line x1="438.8" y1="640.2" x2="438.8" y2="641.4" stroke="#000" stroke-width="0.9" />
<line x1="444.25" y1="678.3" x2="444.25" y2="677.1" stroke="#000" stroke-width="0.9" />
<line x1="444.25" y1="640.2" x2="444.25" y2="641.4" stroke="#000" stroke-width="0.9" />
<line x1="449.7" y1="678.3" x2="449.7" y2="677.1" stroke="#000" stroke-width="0.9" />
<line x1="449.7" y1="640.2" x2="449.7" y2="641.4" stroke="#000" stroke-width="0.9" />
<line x1="455.15" y1="678.3" x2="455.15" y2="677.1" stroke="#000" stroke-width="0.9" />
<line x1="455.15" y1="640.2" x2="455.15" y2="641.4" stroke="#000" stroke-width="0.9" />
<line x1="460.6" y1="678.3" x2="460.6" y2="677.1" stroke="#000" stroke-width="0.9" />
<line x1="460.6" y1="640.2" x2="460.6" y2="641.4" stroke="#000" stroke-width="0.9" />
<line x1="466.05" y1="678.3" x2="466.05" y2="677.1" stroke="#000" stroke-width="0.9" />
<line x1="466.05" y1="640.2" x2="466.05" y2="641.4" stroke="#000" stroke-width="0.9" />
<line x1="471.5" y1="678.3" x2="471.5" y2="677.1" stroke="#000" stroke-width="0.9" />
<line x1="471.5" y1="640.2" x2="471.5" y2="641.4" stroke="#000" stroke-width="0.9" />
<line x1="476.95" y1="678.3" x2="476.95" y2="677.1" stroke="#000" stroke-width="0.9" />
<line x1="476.95" y1="640.2" x2="476.95" y2="641.4" stroke="#000" stroke-width="0.9" />
<line x1="482.4" y1="678.3" x2="482.4" y2="677.1" stroke="#000" stroke-width="0.9" />
<line x1="482.4" y1="640.2" x2="482.4" y2="641.4" stroke="#000" stroke-width="0.9" />
<line x1="487.85" y1="678.3" x2="487.85" y2="677.1" stroke="#000" stroke-width="0.9" />
<line x1="487.85" y1="640.2" x2="487.85" y2="641.4" stroke="#000" stroke-width="0.9" />
<line x1="493.3" y1="678.3" x2="493.3" y2="677.1" stroke="#000" stroke-width="0.9" />
<line x1="493.3" y1="640.2" x2="493.3" y2="641.4" stroke="#000" stroke-width="0.9" />
<line x1="498.75" y1="678.3" x2="498.75" y2="677.1" stroke="#000" stroke-width="0.9" />
<line x1="498.75" y1="640.2" x2="498.75" y2="641.4" stroke="#000" stroke-width="0.9" />
<rect x="231.7" y="640.2" width="272.5" height="38.1" fill="none" stroke="#000" stroke-width="1.1"/>
<text transform="translate(229.3,651.06)" font-size="10.5" text-anchor="end" font-weight="normal" font-style="normal" font-family='"Liberation Sans", sans-serif' fill="#000">1.2</text>
<text transform="translate(229.3,664.25)" font-size="10.5" text-anchor="end" font-weight="normal" font-style="normal" font-family='"Liberation Sans", sans-serif' fill="#000">1</text>
<text transform="translate(229.3,675.64)" font-size="10.5" text-anchor="end" font-weight="normal" font-style="normal" font-family='"Liberation Sans", sans-serif' fill="#000">0.8</text>
<g clip-path="url(#c555b)">
<rect x="231.1" y="648.8" width="11.5" height="15.6" fill="#fec62e"/>
<rect x="231.1" y="649.8" width="11.5" height="13.2" fill="#fe9600"/>
<rect x="242.6" y="651.9" width="10.9" height="12.7" fill="#fec62e"/>
<rect x="242.6" y="652.3" width="10.9" height="11.9" fill="#fe9600"/>
<rect x="253.5" y="644.9" width="10.9" height="17" fill="#fec62e"/>
<rect x="253.5" y="646.3" width="10.9" height="14.6" fill="#fe9600"/>
<rect x="264.4" y="655.1" width="10.9" height="18.3" fill="#fec62e"/>
<rect x="264.4" y="657.4" width="10.9" height="12.8" fill="#fe9600"/>
<rect x="275.3" y="657.4" width="10.9" height="20.8" fill="#fec62e"/>
<rect x="275.3" y="660.2" width="10.9" height="14.1" fill="#fe9600"/>
<rect x="286.2" y="649.8" width="10.9" height="13.9" fill="#fec62e"/>
<rect x="286.2" y="650.2" width="10.9" height="12.8" fill="#fe9600"/>
<rect x="297.1" y="657.4" width="10.9" height="18.7" fill="#fec62e"/>
<rect x="297.1" y="659.5" width="10.9" height="15.9" fill="#fe9600"/>
<rect x="308" y="644.2" width="10.9" height="16" fill="#fec62e"/>
<rect x="308" y="647" width="10.9" height="12.5" fill="#fe9600"/>
<rect x="318.9" y="653.2" width="185.9" height="8.2" fill="#fec62e"/>
<rect x="318.9" y="654" width="185.9" height="6.6" fill="#fe9600"/>
<path d="M231.7 658.8H242.6V659H253.5V659H264.4V658.9H275.3V658.9H286.2V658.9H297.1V658.9H308V658.9H318.9V657.8H504.2" fill="none" stroke="#ff2a2a" stroke-width="1.2"/>
<path d="M231.7 658H242.6V658.2H253.5V658.2H264.4V658.1H275.3V658.1H286.2V658.1H297.1V658.1H308V658.1H318.9V657H504.2" fill="none" stroke="#3ee23e" stroke-width="1.2"/>
<path d="M231.7 658.2H242.6V658.4H253.5V658.4H264.4V658.3H275.3V658.3H286.2V658.3H297.1V658.3H308V658.3H318.9V657.2H504.2" fill="none" stroke="#5ff2f2" stroke-width="1.2"/>
<path d="M231.7 658.8H242.6V659H253.5V659H264.4V658.9H275.3V658.9H286.2V658.9H297.1V658.9H308V658.9H318.9V657.8H504.2" fill="none" stroke="#2a3cff" stroke-width="1.2"/>
<path d="M231.7 661.6H242.6V661.6H253.5V657.4H264.4V661.3H275.3V658.1H286.2V665.7H297.1V658.1H308V662.3H318.9V655.3H504.2" fill="none" stroke="#ff1a1a" stroke-width="1.35" stroke-dasharray="2,1.6"/>
</g>
<text transform="translate(231.7,689.9)" font-size="10.5" text-anchor="middle" font-weight="normal" font-style="normal" font-family='"Liberation Sans", sans-serif' fill="#000">1</text>
<text transform="translate(258.95,689.9)" font-size="10.5" text-anchor="middle" font-weight="normal" font-style="normal" font-family='"Liberation Sans", sans-serif' fill="#000">1.5</text>
<text transform="translate(286.2,689.9)" font-size="10.5" text-anchor="middle" font-weight="normal" font-style="normal" font-family='"Liberation Sans", sans-serif' fill="#000">2</text>
<text transform="translate(313.45,689.9)" font-size="10.5" text-anchor="middle" font-weight="normal" font-style="normal" font-family='"Liberation Sans", sans-serif' fill="#000">2.5</text>
<text transform="translate(340.7,689.9)" font-size="10.5" text-anchor="middle" font-weight="normal" font-style="normal" font-family='"Liberation Sans", sans-serif' fill="#000">3</text>
<text transform="translate(367.95,689.9)" font-size="10.5" text-anchor="middle" font-weight="normal" font-style="normal" font-family='"Liberation Sans", sans-serif' fill="#000">3.5</text>
<text transform="translate(395.2,689.9)" font-size="10.5" text-anchor="middle" font-weight="normal" font-style="normal" font-family='"Liberation Sans", sans-serif' fill="#000">4</text>
<text transform="translate(422.45,689.9)" font-size="10.5" text-anchor="middle" font-weight="normal" font-style="normal" font-family='"Liberation Sans", sans-serif' fill="#000">4.5</text>
<text transform="translate(449.7,689.9)" font-size="10.5" text-anchor="middle" font-weight="normal" font-style="normal" font-family='"Liberation Sans", sans-serif' fill="#000">5</text>
<text transform="translate(476.95,689.9)" font-size="10.5" text-anchor="middle" font-weight="normal" font-style="normal" font-family='"Liberation Sans", sans-serif' fill="#000">5.5</text>
<text transform="translate(504.2,689.9)" font-size="10.5" text-anchor="middle" font-weight="normal" font-style="normal" font-family='"Liberation Sans", sans-serif' fill="#000">6</text>
<text transform="translate(507,707.5) scale(1.1,1)" font-size="11" text-anchor="end" font-family='"Liberation Sans", sans-serif'>&#916;R(&#947;,<tspan font-style="italic">l</tspan>)</text>
<text transform="translate(195.3,434.6) rotate(-90)" font-size="10" text-anchor="middle" font-family='"Liberation Sans", sans-serif'>1</text><line x1="197.1" y1="430.8" x2="197.1" y2="438.4" stroke="#000" stroke-width="0.9"/><text transform="translate(205.5,434.6) rotate(-90)" font-size="10" text-anchor="middle" font-family='"Liberation Sans", sans-serif'>&#963;</text><circle cx="197.2" cy="426.1" r="0.65" fill="#000"/><text transform="translate(194.5,403.5) rotate(-90)" font-size="10.3" text-anchor="middle" font-family='"Liberation Sans", sans-serif'>d&#963;</text><line x1="197.1" y1="383.1" x2="197.1" y2="421.2" stroke="#000" stroke-width="1.15"/><text transform="translate(207.2,422) rotate(-90) scale(1.06,1)" font-size="10.3" text-anchor="start" font-family='"Liberation Sans", sans-serif'>d&#916;R(&#947;,<tspan font-style="italic">l</tspan>)</text>
<text transform="translate(200.4,622) rotate(-90)" font-size="11.0" text-anchor="start" font-family='"Liberation Sans", sans-serif'>Pred./Data</text>
<text transform="translate(203.1,691.3) rotate(-90)" font-size="11.0" text-anchor="start" font-family='"Liberation Sans", sans-serif'>Other/Nom.</text>
<text transform="translate(242.1,407.3)" font-size="9.8" text-anchor="start" font-weight="bold" font-style="italic" font-family='"Liberation Sans", sans-serif' fill="#000">ATLAS</text>
<g transform="translate(242.3,419.6)">
<path d="M0.7 -4.6 L2.3 0.2 L3.5 -8.3 L8.9 -8.3" fill="none" stroke="#000" stroke-width="0.9" stroke-linejoin="round"/><path d="M0.7 -4.6 L2.3 0.2" fill="none" stroke="#000" stroke-width="1.5"/>
</g>
<text transform="translate(246.5,419.6) scale(1.04,1)" font-size="9.2" text-anchor="start" font-weight="normal" font-style="normal" font-family='"Liberation Sans", sans-serif' fill="#000">s = 13 TeV, 36.1 fb<tspan dy="-3.3" font-size="6">-1</tspan></text>
<text transform="translate(242.3,431.6) scale(1.04,1)" font-size="9.2" text-anchor="start" font-weight="normal" font-style="normal" font-family='"Liberation Sans", sans-serif' fill="#000">Normalized cross-section</text>
<text transform="translate(242.3,443.4) scale(1.04,1)" font-size="9.2" text-anchor="start" font-weight="normal" font-style="normal" font-family='"Liberation Sans", sans-serif' fill="#000">Single lepton</text>
<circle cx="362.3" cy="402.9" r="2.1" fill="#000"/>
<line x1="353.5" y1="412.9" x2="371.4" y2="412.9" stroke="#ff2a2a" stroke-width="1.7" />
<line x1="353.5" y1="422.9" x2="371.4" y2="422.9" stroke="#2a3cff" stroke-width="1.7" />
<line x1="353.5" y1="432.9" x2="371.4" y2="432.9" stroke="#3ee23e" stroke-width="1.7" />
<line x1="353.5" y1="442.9" x2="371.4" y2="442.9" stroke="#5ff2f2" stroke-width="1.7" />
<line x1="353" y1="452.9" x2="370.8" y2="452.9" stroke="#ff2a2a" stroke-width="1.2" stroke-dasharray="2,1.6"/>
<rect x="353" y="459.9" width="17.8" height="6" fill="#fe9600"/>
<rect x="353" y="469.9" width="17.8" height="6" fill="#fec62e"/>
<text transform="translate(375.1,405.3) scale(0.94,1)" font-size="8.5" text-anchor="start" font-weight="normal" font-style="normal" font-family='"Liberation Sans", sans-serif' fill="#000">Unfolded data</text>
<text transform="translate(375.1,415.3) scale(0.94,1)" font-size="8.5" text-anchor="start" font-weight="normal" font-style="normal" font-family='"Liberation Sans", sans-serif' fill="#000">MG5_aMC + Pythia8</text>
<text transform="translate(375.1,425.3) scale(0.94,1)" font-size="8.5" text-anchor="start" font-weight="normal" font-style="normal" font-family='"Liberation Sans", sans-serif' fill="#000">MG5_aMC + Herwig7</text>
<text transform="translate(375.1,435.3) scale(0.94,1)" font-size="8.5" text-anchor="start" font-weight="normal" font-style="normal" font-family='"Liberation Sans", sans-serif' fill="#000">MG5_aMC + Pythia8 (A14 Up)</text>
<text transform="translate(375.1,445.3) scale(0.94,1)" font-size="8.5" text-anchor="start" font-weight="normal" font-style="normal" font-family='"Liberation Sans", sans-serif' fill="#000">MG5_aMC + Pythia8 (A14 Down)</text>
<text transform="translate(375.1,455.3) scale(0.94,1)" font-size="8.5" text-anchor="start" font-weight="normal" font-style="normal" font-family='"Liberation Sans", sans-serif' fill="#000">Powheg + Pythia8 tt</text>
<text transform="translate(375.1,465.3) scale(0.94,1)" font-size="8.5" text-anchor="start" font-weight="normal" font-style="normal" font-family='"Liberation Sans", sans-serif' fill="#000">Stat.</text>
<text transform="translate(375.1,475.3) scale(0.94,1)" font-size="8.5" text-anchor="start" font-weight="normal" font-style="normal" font-family='"Liberation Sans", sans-serif' fill="#000">Stat</text>
<line x1="443.3" y1="448.4" x2="446.2" y2="448.4" stroke="#000" stroke-width="0.9" />
<circle cx="394.1" cy="472.6" r="2.55" fill="none" stroke="#222" stroke-width="0.55"/>
<line x1="391.6" y1="472.6" x2="396.6" y2="472.6" stroke="#222" stroke-width="0.5" />
<line x1="394.1" y1="470.1" x2="394.1" y2="475.1" stroke="#222" stroke-width="0.5" />
<text transform="translate(399.3,475.3) scale(0.94,1)" font-size="8.5" text-anchor="start" font-weight="normal" font-style="normal" font-family='"Liberation Sans", sans-serif' fill="#000">Syst.</text>
<text transform="translate(353.6,718.4)" font-size="16" text-anchor="middle" font-weight="bold" font-style="normal" font-family='"Liberation Serif", serif' fill="#000">(c)</text>
</svg>
</body></html>
